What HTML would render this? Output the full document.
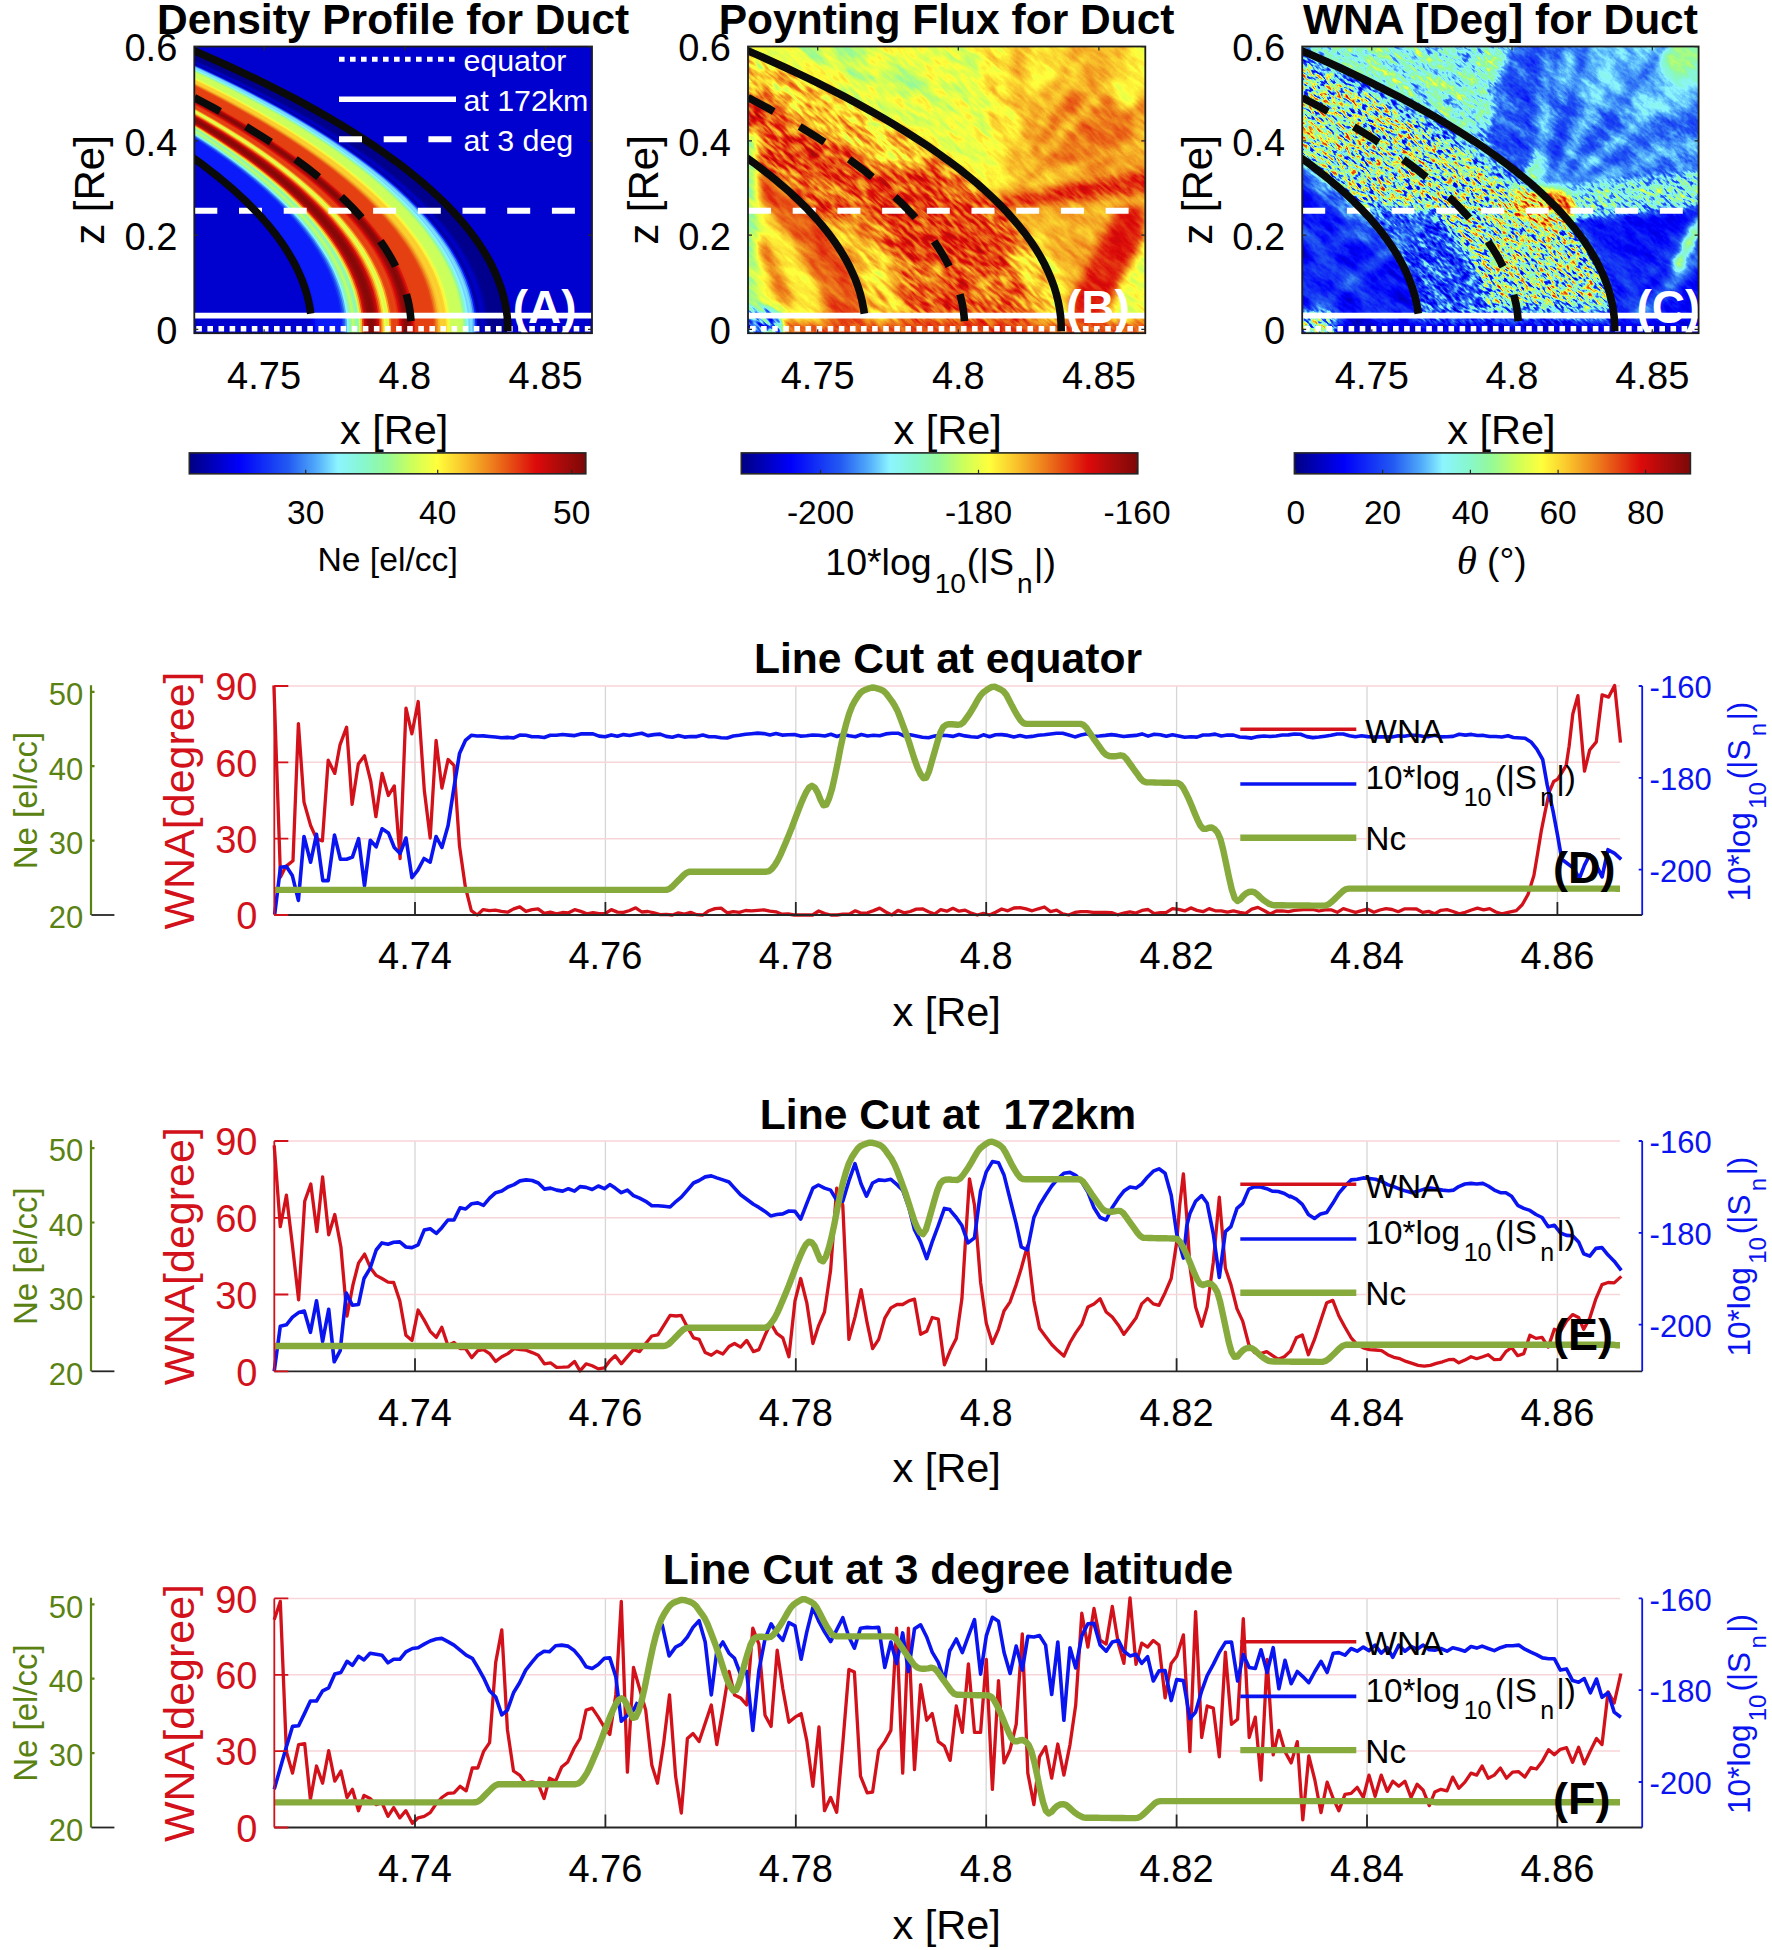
<!DOCTYPE html>
<html lang="en"><head><meta charset="utf-8"><title>Duct figure</title>
<style>html,body{margin:0;padding:0;background:#fff}svg{display:block}text{font-family:"Liberation Sans", sans-serif}</style></head><body>
<svg width="1772" height="1950" viewBox="0 0 1772 1950">
<rect width="1772" height="1950" fill="#fff"/>
<defs><linearGradient id="jet" x1="0" x2="1" y1="0" y2="0"><stop offset="0.0000" stop-color="#000083"/><stop offset="0.0156" stop-color="#000092"/><stop offset="0.0312" stop-color="#0000a1"/><stop offset="0.0469" stop-color="#0000b0"/><stop offset="0.0625" stop-color="#0000be"/><stop offset="0.0781" stop-color="#0000cd"/><stop offset="0.0938" stop-color="#0000dc"/><stop offset="0.1094" stop-color="#0000eb"/><stop offset="0.1250" stop-color="#0000fa"/><stop offset="0.1406" stop-color="#040bf9"/><stop offset="0.1562" stop-color="#0916f8"/><stop offset="0.1719" stop-color="#0d22f7"/><stop offset="0.1875" stop-color="#122df6"/><stop offset="0.2031" stop-color="#1638f5"/><stop offset="0.2188" stop-color="#1a44f4"/><stop offset="0.2344" stop-color="#1f4ff3"/><stop offset="0.2500" stop-color="#235af2"/><stop offset="0.2656" stop-color="#2d6cf4"/><stop offset="0.2812" stop-color="#377ef6"/><stop offset="0.2969" stop-color="#4190f7"/><stop offset="0.3125" stop-color="#4ba1f9"/><stop offset="0.3281" stop-color="#59b5fb"/><stop offset="0.3438" stop-color="#6acafc"/><stop offset="0.3594" stop-color="#7be0fe"/><stop offset="0.3750" stop-color="#8cf5ff"/><stop offset="0.3906" stop-color="#8bf5f3"/><stop offset="0.4062" stop-color="#8af6e7"/><stop offset="0.4219" stop-color="#88f6db"/><stop offset="0.4375" stop-color="#87f7cf"/><stop offset="0.4531" stop-color="#8af8c1"/><stop offset="0.4688" stop-color="#8ef8b3"/><stop offset="0.4844" stop-color="#92f9a4"/><stop offset="0.5000" stop-color="#96fa96"/><stop offset="0.5156" stop-color="#a4fb87"/><stop offset="0.5312" stop-color="#b2fc78"/><stop offset="0.5469" stop-color="#bffe69"/><stop offset="0.5625" stop-color="#cdff5a"/><stop offset="0.5781" stop-color="#daff52"/><stop offset="0.5938" stop-color="#e6ff4b"/><stop offset="0.6094" stop-color="#f2ff44"/><stop offset="0.6250" stop-color="#ffff3c"/><stop offset="0.6406" stop-color="#fef138"/><stop offset="0.6562" stop-color="#fce434"/><stop offset="0.6719" stop-color="#fbd631"/><stop offset="0.6875" stop-color="#fac82d"/><stop offset="0.7031" stop-color="#f8b929"/><stop offset="0.7188" stop-color="#f5aa26"/><stop offset="0.7344" stop-color="#f29b22"/><stop offset="0.7500" stop-color="#f08c1e"/><stop offset="0.7656" stop-color="#ee7c1c"/><stop offset="0.7812" stop-color="#eb6c19"/><stop offset="0.7969" stop-color="#e85b16"/><stop offset="0.8125" stop-color="#e64b14"/><stop offset="0.8281" stop-color="#e43b12"/><stop offset="0.8438" stop-color="#e12a0f"/><stop offset="0.8594" stop-color="#de1a0c"/><stop offset="0.8750" stop-color="#dc0a0a"/><stop offset="0.8906" stop-color="#d00a0a"/><stop offset="0.9062" stop-color="#c30a0a"/><stop offset="0.9219" stop-color="#b60a0a"/><stop offset="0.9375" stop-color="#aa0a0a"/><stop offset="0.9531" stop-color="#9f0a0a"/><stop offset="0.9688" stop-color="#940909"/><stop offset="0.9844" stop-color="#880808"/><stop offset="1.0000" stop-color="#7d0808"/></linearGradient>
<clipPath id="clipA"><rect x="194.3" y="46.5" width="397.7" height="286.7"/></clipPath>
<clipPath id="clipB"><rect x="748.0" y="46.5" width="397.3" height="286.7"/></clipPath>
<clipPath id="clipC"><rect x="1302.2" y="46.5" width="396.4" height="286.7"/></clipPath>
</defs>
<defs>
<filter id="fB" filterUnits="userSpaceOnUse" x="677" y="-70" width="540" height="520" color-interpolation-filters="sRGB">
<feGaussianBlur in="SourceGraphic" stdDeviation="4.5" result="S"/>
<feTurbulence type="fractalNoise" baseFrequency="0.07 0.3" numOctaves="2" seed="3" result="t1"/>
<feColorMatrix in="t1" type="matrix" values="0 0 0 0 1  2.40 0 0 0 -0.70  0 0 0 0 1  0 0 0 0 1" result="nF"/>
<feTurbulence type="fractalNoise" baseFrequency="0.03 0.09" numOctaves="2" seed="14" result="t2"/>
<feColorMatrix in="t2" type="matrix" values="0 0 0 0 1  0 0 0 0 1  2.40 0 0 0 -0.70  0 0 0 0 1" result="nC"/>
<feBlend in="S" in2="nF" mode="multiply" result="p1"/>
<feBlend in="p1" in2="nC" mode="multiply" result="p2"/>
<feColorMatrix in="p2" type="matrix" values="2 2 2 0 -0.6  2 2 2 0 -0.6  2 2 2 0 -0.6  0 0 0 0 1" result="v"/>
<feComponentTransfer in="v"><feFuncR type="table" tableValues="0.000 0.000 0.000 0.000 0.000 0.035 0.071 0.102 0.137 0.216 0.294 0.416 0.549 0.541 0.529 0.557 0.588 0.698 0.804 0.902 1.000 0.988 0.980 0.961 0.941 0.922 0.902 0.882 0.863 0.765 0.667 0.580 0.490"/><feFuncG type="table" tableValues="0.000 0.000 0.000 0.000 0.000 0.086 0.176 0.267 0.353 0.494 0.631 0.792 0.961 0.965 0.969 0.973 0.980 0.988 1.000 1.000 1.000 0.894 0.784 0.667 0.549 0.424 0.294 0.165 0.039 0.039 0.039 0.035 0.031"/><feFuncB type="table" tableValues="0.514 0.631 0.745 0.863 0.980 0.973 0.965 0.957 0.949 0.965 0.976 0.988 1.000 0.906 0.812 0.702 0.588 0.471 0.353 0.294 0.235 0.204 0.176 0.149 0.118 0.098 0.078 0.059 0.039 0.039 0.039 0.035 0.031"/></feComponentTransfer>
</filter>
<filter id="fC" filterUnits="userSpaceOnUse" x="1230" y="-70" width="540" height="520" color-interpolation-filters="sRGB">
<feGaussianBlur in="SourceGraphic" stdDeviation="4.5" result="S"/>
<feTurbulence type="fractalNoise" baseFrequency="0.15 0.42" numOctaves="2" seed="8" result="t1"/>
<feColorMatrix in="t1" type="matrix" values="0 0 0 0 1  2.40 0 0 0 -0.70  0 0 0 0 1  0 0 0 0 1" result="nF"/>
<feTurbulence type="fractalNoise" baseFrequency="0.03 0.10" numOctaves="2" seed="19" result="t2"/>
<feColorMatrix in="t2" type="matrix" values="0 0 0 0 1  0 0 0 0 1  2.40 0 0 0 -0.70  0 0 0 0 1" result="nC"/>
<feBlend in="S" in2="nF" mode="multiply" result="p1"/>
<feBlend in="p1" in2="nC" mode="multiply" result="p2"/>
<feColorMatrix in="p2" type="matrix" values="2 2 2 0 -0.6  2 2 2 0 -0.6  2 2 2 0 -0.6  0 0 0 0 1" result="v"/>
<feComponentTransfer in="v"><feFuncR type="table" tableValues="0.000 0.000 0.000 0.000 0.000 0.035 0.071 0.102 0.137 0.216 0.294 0.416 0.549 0.541 0.529 0.557 0.588 0.698 0.804 0.902 1.000 0.988 0.980 0.961 0.941 0.922 0.902 0.882 0.863 0.765 0.667 0.580 0.490"/><feFuncG type="table" tableValues="0.000 0.000 0.000 0.000 0.000 0.086 0.176 0.267 0.353 0.494 0.631 0.792 0.961 0.965 0.969 0.973 0.980 0.988 1.000 1.000 1.000 0.894 0.784 0.667 0.549 0.424 0.294 0.165 0.039 0.039 0.039 0.035 0.031"/><feFuncB type="table" tableValues="0.514 0.631 0.745 0.863 0.980 0.973 0.965 0.957 0.949 0.965 0.976 0.988 1.000 0.906 0.812 0.702 0.588 0.471 0.353 0.294 0.235 0.204 0.176 0.149 0.118 0.098 0.078 0.059 0.039 0.039 0.039 0.035 0.031"/></feComponentTransfer>
</filter>
</defs>
<g clip-path="url(#clipB)"><g transform="rotate(40 946.6 189.8)" filter="url(#fB)"><g transform="rotate(-40 946.6 189.8)">
<rect x="597" y="-160" width="700" height="700" fill="#a10508"/>
<rect x="708.3" y="17.8" width="476.8" height="344.0" fill="#a10508"/>
<path d="M708.3,17.8 1002.3,17.8 1018.2,132.5 998.3,198.5 926.8,189.8 708.3,89.5 Z" fill="#96080a"/>
<path d="M708.3,17.8 978.4,17.8 990.4,132.5 982.4,198.5 926.8,189.8 708.3,89.5 Z" fill="#90080a"/>
<ellipse cx="855.3" cy="63.7" rx="79.5" ry="14.3" transform="rotate(20 855.3 63.7)" fill="#89080d"/>
<ellipse cx="1081.7" cy="132.5" rx="51.6" ry="40.1" transform="rotate(-20 1081.7 132.5)" fill="#a90508"/>
<ellipse cx="1046.0" cy="55.1" rx="19.9" ry="34.4" transform="rotate(25 1046.0 55.1)" fill="#990508"/>
<ellipse cx="1133.4" cy="75.2" rx="15.9" ry="40.1" transform="rotate(20 1133.4 75.2)" fill="#960508"/>
<path d="M994.3,189.8 L1010.2,32.2" stroke="#980508" stroke-width="7.0" fill="none"/>
<path d="M998.3,189.8 L1049.9,32.2" stroke="#9a0508" stroke-width="6.0" fill="none"/>
<path d="M1002.3,189.8 L1097.6,32.2" stroke="#9a0508" stroke-width="7.0" fill="none"/>
<path d="M1006.2,189.8 L1153.2,40.8" stroke="#990508" stroke-width="7.0" fill="none"/>
<path d="M1010.2,189.8 L1165.2,89.5" stroke="#aa0508" stroke-width="6.0" fill="none"/>
<path d="M1014.2,189.8 L1165.2,132.5" stroke="#9c0508" stroke-width="7.0" fill="none"/>
<path d="M986.4,199.9 1165.2,168.3 1165.2,191.3 986.4,209.9 Z" fill="#b00d05"/>
<path d="M1105.6,347.5 1185.0,347.5 1185.0,218.5 1133.4,218.5 Z" fill="#90080d"/>
<path d="M1046.0,347.5 1085.7,347.5 1145.3,235.7 1141.3,207.1 1117.5,207.1 Z" fill="#b50505"/>
<path d="M1060.9,338.7 1061.2,333.0 1061.2,327.2 1061.0,321.4 1060.5,315.7 1059.7,309.9 1058.7,304.1 1057.5,298.4 1055.9,292.6 1054.1,286.8 1052.1,281.1 1049.8,275.3 1047.2,269.6 1044.3,263.8 1041.2,258.1 1037.9,252.3 1034.3,246.6 1030.4,240.8 1026.2,235.1 1037.2,235.1 1041.4,240.8 1045.3,246.6 1048.9,252.3 1052.2,258.1 1055.3,263.8 1058.2,269.6 1060.7,275.3 1063.1,281.1 1065.1,286.8 1066.9,292.6 1068.4,298.4 1069.7,304.1 1070.7,309.9 1071.5,315.7 1072.0,321.4 1072.2,327.2 1072.1,333.0 1071.8,338.7 Z" fill="#90080a"/>
<path d="M1059.0,353.2 1060.6,342.0 1061.2,330.8 1060.9,319.7 1059.5,308.5 1057.2,297.4 1053.9,286.2 1049.7,275.1 1044.4,264.0 1038.2,252.9 1031.0,241.8 1022.9,230.7 1013.7,219.6 1003.6,208.5 992.6,197.5 980.5,186.5 967.5,175.5 953.5,164.5 938.6,153.6 922.7,142.7 905.9,131.8 888.1,121.0 869.4,110.2 849.7,99.4 829.0,88.7 807.5,78.0 785.0,67.3 761.5,56.7 737.2,46.2 711.9,35.7 685.7,25.2 658.5,14.8 630.5,4.4 601.6,-5.9 571.7,-16.1 541.0,-26.3 509.3,-36.4 688.0,-13.5 688.0,393.2 Z" fill="#a1140d"/>
<path d="M879.4,169.2 864.6,158.1 848.8,147.1 832.1,136.1 814.3,125.1 795.6,114.1 776.0,103.2 755.3,92.4 733.7,81.6 711.1,70.8 687.6,60.1 663.1,49.4 637.7,38.7 611.3,28.2 583.9,17.6 555.7,7.1 526.5,-3.3 496.4,-13.6 465.3,-23.9 548.2,-24.0 579.0,-13.6 609.0,-3.3 638.0,7.2 666.1,17.6 693.2,28.2 719.4,38.8 744.7,49.4 769.0,60.1 792.4,70.8 814.8,81.6 836.3,92.4 856.8,103.3 876.4,114.2 894.9,125.1 912.6,136.1 929.2,147.1 944.9,158.1 959.5,169.2 Z" fill="#901412"/>
<path d="M1031.1,338.7 1031.3,333.7 1031.4,328.8 1031.3,323.8 1031.0,318.8 1030.5,313.8 1029.8,308.9 1028.9,303.9 1027.8,298.9 1026.5,293.9 1025.0,289.0 1023.3,284.0 1021.5,279.0 1019.4,274.0 1017.1,269.1 1014.7,264.1 1012.0,259.1 1009.2,254.2 1006.1,249.2 1036.0,249.2 1039.0,254.2 1041.9,259.1 1044.5,264.1 1047.0,269.1 1049.2,274.0 1051.3,279.0 1053.2,284.0 1054.8,289.0 1056.3,293.9 1057.6,298.9 1058.7,303.9 1059.6,308.9 1060.3,313.8 1060.8,318.8 1061.1,323.8 1061.2,328.8 1061.2,333.7 1060.9,338.7 Z" fill="#950f0d"/>
<path d="M918.5,263.4 915.7,258.1 912.6,252.8 909.3,247.6 905.7,242.3 902.0,237.1 898.0,231.8 893.8,226.6 889.4,221.3 884.7,216.1 879.9,210.9 874.8,205.6 869.5,200.4 864.0,195.2 858.3,190.0 852.3,184.8 846.2,179.5 839.8,174.4 833.2,169.2 918.2,169.2 924.7,174.4 931.1,179.6 937.2,184.8 943.1,190.0 948.8,195.2 954.3,200.4 959.6,205.6 964.6,210.9 969.4,216.1 974.0,221.3 978.4,226.6 982.6,231.8 986.5,237.1 990.3,242.3 993.8,247.6 997.1,252.8 1000.2,258.1 1003.0,263.4 Z" fill="#a7140a"/>
<path d="M864.9,338.7 865.2,332.2 865.2,325.6 864.8,319.0 864.1,312.5 863.1,305.9 861.7,299.4 859.9,292.8 857.9,286.3 855.4,279.7 852.7,273.2 849.6,266.6 846.1,260.1 842.3,253.6 838.2,247.0 833.7,240.5 828.9,234.0 823.7,227.5 818.3,221.0 863.7,221.0 869.2,227.5 874.3,234.0 879.1,240.5 883.6,247.0 887.7,253.6 891.5,260.1 894.9,266.6 898.0,273.2 900.7,279.7 903.2,286.3 905.2,292.8 907.0,299.4 908.3,305.9 909.4,312.5 910.1,319.0 910.5,325.6 910.5,332.2 910.2,338.7 Z" fill="#960a14"/>
<path d="M768.1,173.9 753.2,162.5 737.3,151.2 720.4,139.9 702.4,128.7 683.4,117.5 663.4,106.3 642.3,95.2 620.2,84.1 597.1,73.0 573.0,62.1 547.8,51.1 521.7,40.2 494.5,29.4 466.4,18.6 437.3,7.9 407.1,-2.8 376.0,-13.4 344.0,-24.0 436.0,-24.0 467.9,-13.4 498.7,-2.8 528.6,7.9 557.5,18.6 585.5,29.4 612.4,40.2 638.4,51.1 663.3,62.1 687.3,73.1 710.2,84.1 732.2,95.2 753.1,106.3 773.0,117.5 791.8,128.7 809.7,139.9 826.5,151.2 842.3,162.5 857.0,173.9 Z" fill="#a4170a"/>
<path d="M863.0,352.8 864.6,341.8 865.2,330.8 864.9,319.8 863.6,308.8 861.3,297.8 858.1,286.9 853.9,275.9 848.7,264.9 842.6,254.0 835.5,243.0 827.4,232.1 818.4,221.2 808.5,210.3 797.6,199.4 785.7,188.6 772.9,177.7 759.1,166.9 744.4,156.1 728.7,145.4 712.1,134.7 694.6,124.0 676.1,113.3 656.7,102.7 636.4,92.2 615.1,81.6 593.0,71.1 569.9,60.7 545.8,50.3 520.9,39.9 495.1,29.6 468.4,19.3 440.7,9.1 412.2,-1.0 382.8,-11.1 352.5,-21.2 321.3,-31.2 688.0,-13.5 688.0,393.2 Z" fill="#9d050a"/>
<path d="M794.9,338.7 795.2,330.3 795.0,321.9 794.2,313.5 792.9,305.1 791.0,296.7 788.5,288.3 785.4,279.9 781.8,271.5 777.6,263.1 772.9,254.7 767.6,246.3 761.7,238.0 755.3,229.6 748.3,221.3 740.7,212.9 732.6,204.6 723.9,196.3 714.6,188.0 744.3,188.0 753.6,196.3 762.2,204.6 770.3,212.9 777.9,221.3 784.9,229.6 791.3,238.0 797.2,246.3 802.5,254.7 807.2,263.1 811.4,271.5 815.0,279.9 818.0,288.3 820.5,296.7 822.4,305.1 823.8,313.5 824.5,321.9 824.8,330.3 824.4,338.7 Z" fill="#980508"/>
<path d="M749.9,338.7 750.2,333.0 750.2,327.2 750.0,321.4 749.5,315.7 748.7,309.9 747.7,304.1 746.4,298.4 744.8,292.6 743.0,286.8 740.9,281.1 738.5,275.3 735.9,269.6 733.0,263.8 729.8,258.1 726.4,252.3 722.7,246.6 718.7,240.8 714.4,235.1 742.6,235.1 746.9,240.8 750.8,246.6 754.5,252.3 758.0,258.1 761.1,263.8 764.0,269.6 766.7,275.3 769.0,281.1 771.1,286.8 773.0,292.6 774.5,298.4 775.8,304.1 776.9,309.9 777.6,315.7 778.1,321.4 778.3,327.2 778.3,333.0 778.0,338.7 Z" fill="#960508"/>
<path d="M824.4,319.9 823.4,310.7 821.7,301.4 819.3,292.2 816.2,283.0 812.4,273.8 808.0,264.6 802.9,255.4 797.1,246.2 790.6,237.0 783.4,227.8 775.6,218.7 767.1,209.5 757.9,200.4 748.1,191.3 737.5,182.2 726.4,173.1 714.5,164.1 702.0,155.0 742.8,155.0 755.3,164.1 767.1,173.1 778.3,182.2 788.8,191.3 798.6,200.4 807.8,209.5 816.2,218.7 824.1,227.8 831.2,237.0 837.6,246.2 843.4,255.4 848.5,264.6 852.9,273.8 856.7,283.0 859.8,292.2 862.2,301.4 863.9,310.7 864.9,319.9 Z" fill="#ac0508"/>
<path d="M776.1,305.8 774.9,300.0 773.4,294.2 771.7,288.4 769.6,282.6 767.3,276.9 764.7,271.1 761.9,265.3 758.8,259.6 755.4,253.8 751.8,248.0 747.9,242.3 743.7,236.5 739.3,230.8 734.6,225.0 729.6,219.3 724.4,213.6 718.8,207.9 713.1,202.1 730.0,202.1 735.8,207.9 741.3,213.6 746.5,219.3 751.5,225.0 756.2,230.8 760.6,236.5 764.8,242.3 768.7,248.0 772.3,253.8 775.7,259.6 778.8,265.3 781.6,271.1 784.2,276.9 786.5,282.6 788.5,288.4 790.3,294.2 791.8,300.0 793.0,305.8 Z" fill="#a70508"/>
<rect x="708.3" y="132.5" width="49.7" height="229.4" fill="#86080a"/>
<rect x="708.3" y="320.9" width="476.8" height="41.0" fill="#ab0808"/>
<rect x="708.3" y="308.8" width="73.5" height="53.0" fill="#4c380d"/>
</g></g></g>
<g clip-path="url(#clipC)"><g transform="rotate(40 1500.4 189.8)" filter="url(#fC)"><g transform="rotate(-40 1500.4 189.8)">
<rect x="1150" y="-160" width="700" height="700" fill="#65080d"/>
<rect x="1262.6" y="17.8" width="475.7" height="344.0" fill="#65080d"/>
<path d="M1262.6,17.8 1532.1,17.8 1544.0,132.5 1536.1,198.5 1480.6,189.8 1262.6,89.5 Z" fill="#691a1a"/>
<ellipse cx="1520.2" cy="103.8" rx="27.7" ry="86.0" transform="rotate(10 1520.2 103.8)" fill="#5f080f"/>
<ellipse cx="1639.1" cy="69.4" rx="79.3" ry="45.9" transform="rotate(0 1639.1 69.4)" fill="#70050a"/>
<ellipse cx="1698.6" cy="46.5" rx="39.6" ry="40.1" transform="rotate(0 1698.6 46.5)" fill="#85050a"/>
<path d="M1540.0,189.8 L1548.0,32.2" stroke="#73050a" stroke-width="7.0" fill="none"/>
<path d="M1548.0,189.8 L1587.6,32.2" stroke="#5e050a" stroke-width="6.0" fill="none"/>
<path d="M1551.9,189.8 L1627.2,32.2" stroke="#75050a" stroke-width="7.0" fill="none"/>
<path d="M1555.9,189.8 L1674.8,32.2" stroke="#61050a" stroke-width="6.0" fill="none"/>
<path d="M1559.9,189.8 L1718.4,52.2" stroke="#78050a" stroke-width="7.0" fill="none"/>
<path d="M1563.8,189.8 L1718.4,95.2" stroke="#61050a" stroke-width="6.0" fill="none"/>
<path d="M1567.8,189.8 L1718.4,132.5" stroke="#73050a" stroke-width="7.0" fill="none"/>
<path d="M1548.0,212.8 1738.2,204.2 1738.2,361.9 1579.7,361.9 Z" fill="#57050a"/>
<path d="M1579.7,224.3 L1678.8,338.9" stroke="#63050a" stroke-width="8.0" fill="none"/>
<path d="M1690.7,224.3 L1595.5,338.9" stroke="#61050a" stroke-width="8.0" fill="none"/>
<path d="M1555.9,189.8 1718.4,169.8 1718.4,204.2 1555.9,221.4 Z" fill="#622e0d"/>
<ellipse cx="1553.9" cy="205.6" rx="21.8" ry="17.2" transform="rotate(30 1553.9 205.6)" fill="#a31a0a"/>
<path d="M1670.9,270.1 1678.8,270.1 1706.5,218.5 1698.6,218.5 Z" fill="#990d0d"/>
<path d="M1611.4,333.2 1627.2,333.2 1706.5,258.7 1698.6,250.1 Z" fill="#6b050a"/>
<path d="M1612.5,353.2 1614.1,342.0 1614.7,330.8 1614.4,319.7 1613.0,308.5 1610.7,297.4 1607.4,286.2 1603.2,275.1 1598.0,264.0 1591.8,252.9 1584.6,241.8 1576.4,230.7 1567.3,219.6 1557.2,208.5 1546.2,197.5 1534.2,186.5 1521.2,175.5 1507.3,164.5 1492.4,153.6 1476.5,142.7 1459.7,131.8 1442.0,121.0 1423.3,110.2 1403.6,99.4 1383.1,88.7 1361.5,78.0 1339.1,67.3 1315.7,56.7 1291.4,46.2 1266.1,35.7 1240.0,25.2 1212.9,14.8 1185.0,4.4 1156.1,-5.9 1126.3,-16.1 1095.6,-26.3 1064.1,-36.4 1242.2,-13.5 1242.2,393.2 Z" fill="#55590f"/>
<ellipse cx="1534.1" cy="209.9" rx="27.7" ry="14.3" transform="rotate(45 1534.1 209.9)" fill="#7d400d"/>
<path d="M1511.6,188.0 1497.3,175.8 1481.9,163.7 1465.2,151.6 1447.4,139.6 1428.4,127.6 1408.3,115.6 1387.0,103.7 1364.6,91.8 1341.0,80.0 1316.2,68.2 1290.3,56.4 1263.3,44.8 1235.2,33.2 1205.9,21.6 1175.5,10.1 1144.0,-1.3 1111.4,-12.7 1077.7,-23.9 1102.8,-24.0 1136.5,-12.7 1169.0,-1.3 1200.4,10.1 1230.8,21.6 1260.0,33.2 1288.1,44.8 1315.0,56.5 1340.9,68.2 1365.6,80.0 1389.1,91.8 1411.5,103.7 1432.8,115.6 1452.9,127.6 1471.8,139.6 1489.6,151.6 1506.2,163.7 1521.6,175.8 1535.9,188.0 Z" fill="#552614"/>
<path d="M1418.8,338.7 1419.2,331.4 1419.1,324.0 1418.5,316.7 1417.6,309.3 1416.2,302.0 1414.4,294.6 1412.2,287.3 1409.5,279.9 1406.4,272.6 1402.8,265.3 1398.9,257.9 1394.5,250.6 1389.7,243.3 1384.4,236.0 1378.8,228.7 1372.7,221.4 1366.1,214.1 1359.2,206.8 1429.9,206.8 1436.8,214.1 1443.3,221.4 1449.4,228.7 1455.0,236.0 1460.3,243.3 1465.0,250.6 1469.4,258.0 1473.4,265.3 1476.9,272.6 1479.9,279.9 1482.6,287.3 1484.8,294.6 1486.6,302.0 1488.0,309.3 1489.0,316.7 1489.5,324.0 1489.6,331.4 1489.2,338.7 Z" fill="#501f17"/>
<path d="M1418.8,338.7 1419.0,336.9 1419.1,335.1 1419.1,333.2 1419.2,331.4 1419.2,329.6 1419.2,327.7 1419.1,325.9 1419.1,324.1 1419.0,322.2 1418.9,320.4 1418.7,318.6 1418.6,316.7 1418.4,314.9 1418.1,313.1 1417.9,311.2 1417.6,309.4 1417.3,307.6 1417.0,305.8 1612.5,305.8 1612.9,307.6 1613.2,309.4 1613.4,311.2 1613.7,313.1 1613.9,314.9 1614.1,316.7 1614.3,318.6 1614.4,320.4 1614.5,322.2 1614.6,324.1 1614.7,325.9 1614.7,327.7 1614.7,329.6 1614.7,331.4 1614.7,333.2 1614.6,335.1 1614.5,336.9 1614.4,338.7 Z" fill="#522e0f"/>
<path d="M1276.2,140.9 1261.3,131.5 1245.7,122.1 1229.3,112.7 1212.3,103.3 1194.5,94.0 1176.0,84.7 1156.8,75.5 1136.9,66.2 1116.2,57.0 1094.9,47.9 1072.9,38.8 1050.1,29.7 1026.7,20.6 1002.5,11.6 977.7,2.7 952.2,-6.2 926.0,-15.1 899.1,-24.0 966.6,-24.0 993.4,-15.1 1019.5,-6.2 1044.8,2.7 1069.5,11.7 1093.5,20.7 1116.9,29.7 1139.5,38.8 1161.4,47.9 1182.6,57.1 1203.1,66.3 1222.9,75.5 1242.1,84.7 1260.4,94.0 1278.1,103.3 1295.1,112.7 1311.3,122.1 1326.9,131.5 1341.7,140.9 Z" fill="#6e4214"/>
<path d="M1417.0,352.8 1418.6,341.8 1419.2,330.8 1418.8,319.8 1417.5,308.8 1415.2,297.8 1412.0,286.9 1407.8,275.9 1402.7,264.9 1396.6,254.0 1389.5,243.0 1381.5,232.1 1372.5,221.2 1362.5,210.3 1351.6,199.4 1339.8,188.6 1327.0,177.7 1313.3,166.9 1298.6,156.1 1283.0,145.4 1266.4,134.7 1248.9,124.0 1230.5,113.3 1211.1,102.7 1190.9,92.2 1169.6,81.6 1147.5,71.1 1124.5,60.7 1100.5,50.3 1075.6,39.9 1049.9,29.6 1023.2,19.3 995.6,9.1 967.2,-1.0 937.8,-11.1 907.6,-21.2 876.5,-31.2 1242.2,-13.5 1242.2,393.2 Z" fill="#54050f"/>
<path d="M1356.6,239.8 1353.1,235.1 1349.4,230.3 1345.5,225.6 1341.5,220.9 1337.3,216.1 1332.9,211.4 1328.3,206.7 1323.6,202.0 1318.6,197.3 1313.5,192.5 1308.2,187.8 1302.8,183.1 1297.1,178.4 1291.3,173.7 1285.3,169.1 1279.1,164.4 1272.7,159.7 1266.2,155.0 1297.0,155.0 1303.6,159.7 1309.9,164.4 1316.1,169.1 1322.1,173.7 1327.9,178.4 1333.5,183.1 1339.0,187.8 1344.3,192.5 1349.4,197.3 1354.3,202.0 1359.0,206.7 1363.6,211.4 1368.0,216.1 1372.2,220.9 1376.2,225.6 1380.1,230.3 1383.7,235.1 1387.2,239.8 Z" fill="#650814"/>
<path d="M1294.3,224.3 L1405.3,333.2" stroke="#6b050a" stroke-width="7.0" fill="none"/>
<path d="M1294.3,275.9 L1357.7,333.2" stroke="#69050a" stroke-width="6.0" fill="none"/>
<path d="M1294.3,327.5 L1421.1,224.3" stroke="#6b050a" stroke-width="7.0" fill="none"/>
<path d="M1310.1,270.1 L1365.6,212.8" stroke="#66050a" stroke-width="6.0" fill="none"/>
<rect x="1262.6" y="320.9" width="475.7" height="41.0" fill="#520808"/>
<rect x="1262.6" y="313.1" width="71.4" height="48.7" fill="#594c0d"/>
</g></g></g>
<g clip-path="url(#clipA)">
<rect x="194.3" y="46.5" width="397.7" height="286.7" fill="#0000cf"/>
<path d="M515.4,341.2 516.0,331.0 515.7,320.7 514.6,310.4 512.7,300.1 509.9,289.9 506.3,279.6 501.9,269.3 496.6,259.1 490.5,248.9 483.6,238.6 475.8,228.4 467.3,218.2 457.9,208.0 447.7,197.9 436.6,187.7 424.8,177.6 412.1,167.5 398.6,157.4 384.3,147.3 369.2,137.3 353.3,127.3 336.6,117.3 319.0,107.4 300.7,97.5 281.6,87.6 261.6,77.7 240.9,67.9 219.4,58.2 197.1,48.4 174.0,38.7 150.1,29.1 125.4,19.4 100.0,9.9 73.8,0.4 46.8,-9.1 19.1,-18.6 L144,-4 L144,383 Z" fill="#0000d4"/>
<path d="M510.4,341.2 510.9,331.0 510.6,320.7 509.5,310.4 507.6,300.1 504.8,289.9 501.2,279.6 496.8,269.4 491.5,259.1 485.4,248.9 478.5,238.7 470.8,228.5 462.2,218.3 452.8,208.1 442.6,197.9 431.6,187.8 419.8,177.6 407.1,167.5 393.6,157.5 379.3,147.4 364.2,137.4 348.3,127.4 331.6,117.4 314.0,107.5 295.7,97.6 276.6,87.7 256.6,77.8 235.9,68.0 214.4,58.3 192.1,48.5 169.0,38.8 145.1,29.2 120.5,19.6 95.1,10.0 68.9,0.5 41.9,-9.0 14.2,-18.4 L144,-4 L144,383 Z" fill="#0000c7"/>
<path d="M508.7,341.2 509.2,331.0 509.0,320.7 507.8,310.4 505.9,300.1 503.1,289.9 499.5,279.6 495.1,269.4 489.8,259.1 483.8,248.9 476.8,238.7 469.1,228.5 460.5,218.3 451.2,208.1 441.0,197.9 429.9,187.8 418.1,177.7 405.4,167.6 391.9,157.5 377.6,147.4 362.5,137.4 346.6,127.4 329.9,117.4 312.4,107.5 294.0,97.6 274.9,87.7 255.0,77.9 234.3,68.1 212.8,58.3 190.5,48.6 167.4,38.9 143.5,29.2 118.9,19.6 93.4,10.0 67.2,0.5 40.3,-9.0 12.6,-18.4 L144,-4 L144,383 Z" fill="#0000af"/>
<path d="M507.0,341.2 507.6,331.0 507.3,320.7 506.2,310.4 504.2,300.1 501.4,289.9 497.8,279.6 493.4,269.4 488.2,259.1 482.1,248.9 475.2,238.7 467.4,228.5 458.9,218.3 449.5,208.1 439.3,197.9 428.2,187.8 416.4,177.7 403.7,167.6 390.3,157.5 376.0,147.5 360.9,137.4 345.0,127.4 328.2,117.5 310.7,107.5 292.4,97.6 273.3,87.7 253.3,77.9 232.6,68.1 211.1,58.3 188.8,48.6 165.7,38.9 141.9,29.2 117.2,19.6 91.8,10.1 65.6,0.6 38.7,-8.9 10.9,-18.3 L144,-4 L144,383 Z" fill="#000098"/>
<path d="M505.3,341.2 505.9,331.0 505.6,320.7 504.5,310.4 502.5,300.2 499.8,289.9 496.2,279.6 491.7,269.4 486.5,259.1 480.4,248.9 473.5,238.7 465.7,228.5 457.2,218.3 447.8,208.1 437.6,198.0 426.6,187.8 414.7,177.7 402.1,167.6 388.6,157.5 374.3,147.5 359.2,137.5 343.3,127.5 326.6,117.5 309.0,107.6 290.7,97.6 271.6,87.8 251.7,77.9 231.0,68.1 209.5,58.4 187.2,48.6 164.1,38.9 140.2,29.3 115.6,19.7 90.2,10.1 64.0,0.6 37.0,-8.9 9.3,-18.3 L144,-4 L144,383 Z" fill="#00008b"/>
<path d="M501.9,341.2 502.5,331.0 502.2,320.7 501.1,310.4 499.2,300.2 496.4,289.9 492.8,279.6 488.4,269.4 483.1,259.2 477.0,248.9 470.1,238.7 462.4,228.5 453.8,218.3 444.4,208.2 434.2,198.0 423.2,187.9 411.4,177.7 398.7,167.6 385.2,157.6 371.0,147.5 355.9,137.5 339.9,127.5 323.2,117.5 305.7,107.6 287.4,97.7 268.3,87.8 248.4,78.0 227.6,68.2 206.1,58.4 183.9,48.7 160.8,39.0 136.9,29.4 112.3,19.8 86.9,10.2 60.7,0.7 33.8,-8.8 6.1,-18.2 L144,-4 L144,383 Z" fill="#00008c"/>
<path d="M493.5,341.2 494.0,331.0 493.8,320.7 492.7,310.4 490.7,300.2 487.9,289.9 484.3,279.7 479.9,269.4 474.7,259.2 468.6,249.0 461.7,238.8 454.0,228.6 445.4,218.4 436.0,208.2 425.8,198.1 414.8,187.9 403.0,177.8 390.3,167.7 376.9,157.7 362.6,147.6 347.5,137.6 331.6,127.6 314.9,117.7 297.4,107.7 279.1,97.8 260.0,88.0 240.1,78.1 219.4,68.3 197.9,58.6 175.6,48.9 152.6,39.2 128.7,29.5 104.1,19.9 78.7,10.4 52.5,0.9 25.6,-8.6 -2.1,-18.0 L144,-4 L144,383 Z" fill="#00008d"/>
<path d="M488.4,341.2 489.0,331.0 488.7,320.7 487.6,310.4 485.6,300.2 482.9,289.9 479.3,279.7 474.9,269.5 469.6,259.2 463.5,249.0 456.6,238.8 448.9,228.6 440.4,218.4 431.0,208.3 420.8,198.1 409.8,188.0 397.9,177.9 385.3,167.8 371.8,157.7 357.6,147.7 342.5,137.7 326.6,127.7 309.9,117.8 292.4,107.8 274.1,97.9 255.0,88.1 235.1,78.2 214.4,68.4 192.9,58.7 170.7,49.0 147.6,39.3 123.8,29.7 99.2,20.1 73.8,10.5 47.6,1.0 20.7,-8.5 -7.0,-17.9 L144,-4 L144,383 Z" fill="#000096"/>
<path d="M486.7,341.2 487.3,331.0 487.0,320.7 485.9,310.4 484.0,300.2 481.2,289.9 477.6,279.7 473.2,269.5 467.9,259.2 461.8,249.0 454.9,238.8 447.2,228.6 438.7,218.5 429.3,208.3 419.1,198.1 408.1,188.0 396.3,177.9 383.6,167.8 370.2,157.8 355.9,147.7 340.8,137.7 324.9,127.7 308.2,117.8 290.7,107.9 272.4,98.0 253.3,88.1 233.4,78.3 212.8,68.5 191.3,58.7 169.0,49.0 146.0,39.3 122.1,29.7 97.5,20.1 72.2,10.6 46.0,1.0 19.1,-8.4 -8.6,-17.8 L144,-4 L144,383 Z" fill="#0000a7"/>
<path d="M485.1,341.2 485.6,331.0 485.3,320.7 484.2,310.4 482.3,300.2 479.5,290.0 475.9,279.7 471.5,269.5 466.2,259.3 460.2,249.0 453.3,238.8 445.5,228.6 437.0,218.5 427.6,208.3 417.4,198.2 406.4,188.0 394.6,177.9 382.0,167.8 368.5,157.8 354.2,147.8 339.1,137.7 323.3,127.8 306.6,117.8 289.1,107.9 270.8,98.0 251.7,88.1 231.8,78.3 211.1,68.5 189.6,58.8 167.4,49.0 144.3,39.4 120.5,29.7 95.9,20.1 70.5,10.6 44.4,1.1 17.5,-8.4 -10.2,-17.8 L144,-4 L144,383 Z" fill="#0000be"/>
<path d="M483.4,341.2 483.9,331.0 483.6,320.7 482.5,310.4 480.6,300.2 477.8,290.0 474.2,279.7 469.8,269.5 464.6,259.3 458.5,249.0 451.6,238.8 443.9,228.7 435.3,218.5 425.9,208.3 415.8,198.2 404.7,188.1 392.9,178.0 380.3,167.9 366.8,157.8 352.6,147.8 337.5,137.8 321.6,127.8 304.9,117.8 287.4,107.9 269.1,98.0 250.0,88.2 230.1,78.3 209.4,68.5 188.0,58.8 165.7,49.1 142.7,39.4 118.9,29.8 94.3,20.2 68.9,10.6 42.7,1.1 15.8,-8.3 -11.8,-17.7 L144,-4 L144,383 Z" fill="#0000c7"/>
<path d="M481.7,341.2 482.2,331.0 481.9,320.7 480.8,310.5 478.9,300.2 476.1,290.0 472.5,279.7 468.1,269.5 462.9,259.3 456.8,249.1 449.9,238.9 442.2,228.7 433.6,218.5 424.3,208.3 414.1,198.2 403.1,188.1 391.2,178.0 378.6,167.9 365.1,157.8 350.9,147.8 335.8,137.8 319.9,127.8 303.2,117.9 285.7,107.9 267.4,98.0 248.4,88.2 228.5,78.4 207.8,68.6 186.3,58.8 164.1,49.1 141.0,39.4 117.2,29.8 92.6,20.2 67.2,10.7 41.1,1.2 14.2,-8.3 -13.5,-17.7 L144,-4 L144,383 Z" fill="#0000bf"/>
<path d="M480.0,341.2 480.5,331.0 480.3,320.7 479.1,310.5 477.2,300.2 474.4,290.0 470.8,279.7 466.4,269.5 461.2,259.3 455.1,249.1 448.2,238.9 440.5,228.7 431.9,218.5 422.6,208.3 412.4,198.2 401.4,188.1 389.6,178.0 376.9,167.9 363.5,157.9 349.2,147.8 334.1,137.8 318.3,127.8 301.6,117.9 284.1,108.0 265.8,98.1 246.7,88.2 226.8,78.4 206.1,68.6 184.7,58.9 162.4,49.1 139.4,39.5 115.6,29.8 91.0,20.3 65.6,10.7 39.5,1.2 12.6,-8.2 -15.1,-17.6 L144,-4 L144,383 Z" fill="#0000a1"/>
<path d="M478.3,341.2 478.8,331.0 478.6,320.7 477.5,310.5 475.5,300.2 472.8,290.0 469.2,279.7 464.7,269.5 459.5,259.3 453.4,249.1 446.5,238.9 438.8,228.7 430.3,218.5 420.9,208.4 410.7,198.2 399.7,188.1 387.9,178.0 375.2,167.9 361.8,157.9 347.5,147.8 332.5,137.8 316.6,127.9 299.9,117.9 282.4,108.0 264.1,98.1 245.0,88.2 225.2,78.4 204.5,68.6 183.0,58.9 160.8,49.2 137.7,39.5 113.9,29.9 89.3,20.3 64.0,10.8 37.8,1.3 10.9,-8.2 -16.7,-17.6 L144,-4 L144,383 Z" fill="#0000b2"/>
<path d="M476.6,341.2 477.2,331.0 476.9,320.7 475.8,310.5 473.8,300.2 471.1,290.0 467.5,279.7 463.1,269.5 457.8,259.3 451.7,249.1 444.8,238.9 437.1,228.7 428.6,218.5 419.2,208.4 409.0,198.2 398.0,188.1 386.2,178.0 373.6,167.9 360.1,157.9 345.9,147.9 330.8,137.9 314.9,127.9 298.2,117.9 280.7,108.0 262.5,98.1 243.4,88.3 223.5,78.5 202.8,68.7 181.4,58.9 159.1,49.2 136.1,39.5 112.3,29.9 87.7,20.3 62.3,10.8 36.2,1.3 9.3,-8.2 -18.3,-17.6 L144,-4 L144,383 Z" fill="#0917f8"/>
<path d="M474.9,341.2 475.5,331.0 475.2,320.7 474.1,310.5 472.1,300.2 469.4,290.0 465.8,279.7 461.4,269.5 456.1,259.3 450.0,249.1 443.2,238.9 435.4,228.7 426.9,218.5 417.5,208.4 407.3,198.3 396.3,188.1 384.5,178.0 371.9,168.0 358.4,157.9 344.2,147.9 329.1,137.9 313.2,127.9 296.6,118.0 279.1,108.0 260.8,98.2 241.7,88.3 221.8,78.5 201.2,68.7 179.7,59.0 157.5,49.3 134.4,39.6 110.6,30.0 86.1,20.4 60.7,10.8 34.6,1.3 7.7,-8.1 -20.0,-17.5 L144,-4 L144,383 Z" fill="#357bf5"/>
<path d="M473.2,341.2 473.8,331.0 473.5,320.7 472.4,310.5 470.5,300.2 467.7,290.0 464.1,279.8 459.7,269.5 454.4,259.3 448.4,249.1 441.5,238.9 433.8,228.7 425.2,218.6 415.9,208.4 405.7,198.3 394.7,188.2 382.9,178.1 370.2,168.0 356.8,157.9 342.5,147.9 327.5,137.9 311.6,127.9 294.9,118.0 277.4,108.1 259.1,98.2 240.1,88.3 220.2,78.5 199.5,68.7 178.1,59.0 155.8,49.3 132.8,39.6 109.0,30.0 84.4,20.4 59.1,10.9 32.9,1.4 6.0,-8.1 -21.6,-17.5 L144,-4 L144,383 Z" fill="#68c8fc"/>
<path d="M471.5,341.2 472.1,331.0 471.8,320.7 470.7,310.5 468.8,300.2 466.0,290.0 462.4,279.8 458.0,269.5 452.7,259.3 446.7,249.1 439.8,238.9 432.1,228.7 423.5,218.6 414.2,208.4 404.0,198.3 393.0,188.2 381.2,178.1 368.5,168.0 355.1,158.0 340.8,147.9 325.8,137.9 309.9,128.0 293.2,118.0 275.8,108.1 257.5,98.2 238.4,88.4 218.5,78.6 197.9,68.8 176.4,59.0 154.2,49.3 131.2,39.7 107.4,30.0 82.8,20.4 57.4,10.9 31.3,1.4 4.4,-8.0 -23.2,-17.4 L144,-4 L144,383 Z" fill="#7de2fe"/>
<path d="M469.9,341.2 470.4,331.0 470.1,320.7 469.0,310.5 467.1,300.2 464.3,290.0 460.7,279.8 456.3,269.5 451.1,259.3 445.0,249.1 438.1,238.9 430.4,228.8 421.8,218.6 412.5,208.4 402.3,198.3 391.3,188.2 379.5,178.1 366.9,168.0 353.4,158.0 339.2,148.0 324.1,138.0 308.2,128.0 291.6,118.0 274.1,108.1 255.8,98.2 236.7,88.4 216.9,78.6 196.2,68.8 174.8,59.1 152.5,49.4 129.5,39.7 105.7,30.1 81.1,20.5 55.8,10.9 29.7,1.5 2.8,-8.0 -24.9,-17.4 L144,-4 L144,383 Z" fill="#72d4fd"/>
<path d="M468.2,341.2 468.7,331.0 468.4,320.7 467.3,310.5 465.4,300.2 462.6,290.0 459.0,279.8 454.6,269.6 449.4,259.3 443.3,249.1 436.4,238.9 428.7,228.8 420.2,218.6 410.8,208.5 400.6,198.3 389.6,188.2 377.8,178.1 365.2,168.0 351.8,158.0 337.5,148.0 322.4,138.0 306.6,128.0 289.9,118.1 272.4,108.2 254.2,98.3 235.1,88.4 215.2,78.6 194.6,68.8 173.1,59.1 150.9,49.4 127.9,39.7 104.1,30.1 79.5,20.5 54.1,11.0 28.0,1.5 1.2,-7.9 -26.5,-17.3 L144,-4 L144,383 Z" fill="#8cf4ff"/>
<path d="M466.5,341.2 467.0,331.0 466.7,320.7 465.6,310.5 463.7,300.2 460.9,290.0 457.3,279.8 452.9,269.6 447.7,259.3 441.6,249.1 434.7,239.0 427.0,228.8 418.5,218.6 409.1,208.5 398.9,198.3 388.0,188.2 376.1,178.1 363.5,168.1 350.1,158.0 335.8,148.0 320.8,138.0 304.9,128.0 288.2,118.1 270.8,108.2 252.5,98.3 233.4,88.5 213.6,78.6 192.9,68.9 171.5,59.1 149.2,49.4 126.2,39.8 102.4,30.1 77.9,20.6 52.5,11.0 26.4,1.5 -0.5,-7.9 -28.1,-17.3 L144,-4 L144,383 Z" fill="#87f7d2"/>
<path d="M464.8,341.2 465.3,331.0 465.1,320.7 463.9,310.5 462.0,300.2 459.2,290.0 455.7,279.8 451.2,269.6 446.0,259.4 439.9,249.2 433.0,239.0 425.3,228.8 416.8,218.6 407.4,208.5 397.3,198.4 386.3,188.2 374.5,178.2 361.8,168.1 348.4,158.0 334.2,148.0 319.1,138.0 303.2,128.1 286.6,118.1 269.1,108.2 250.8,98.3 231.8,88.5 211.9,78.7 191.2,68.9 169.8,59.2 147.6,49.5 124.6,39.8 100.8,30.2 76.2,20.6 50.9,11.1 24.8,1.6 -2.1,-7.9 -29.7,-17.3 L144,-4 L144,383 Z" fill="#95fa9a"/>
<path d="M463.1,341.2 463.6,331.0 463.4,320.7 462.3,310.5 460.3,300.2 457.6,290.0 454.0,279.8 449.6,269.6 444.3,259.4 438.3,249.2 431.4,239.0 423.6,228.8 415.1,218.6 405.8,208.5 395.6,198.4 384.6,188.3 372.8,178.2 360.2,168.1 346.7,158.1 332.5,148.0 317.4,138.1 301.6,128.1 284.9,118.1 267.4,108.2 249.2,98.4 230.1,88.5 210.2,78.7 189.6,68.9 168.2,59.2 145.9,49.5 122.9,39.8 99.1,30.2 74.6,20.6 49.2,11.1 23.1,1.6 -3.7,-7.8 -31.4,-17.2 L144,-4 L144,383 Z" fill="#bdfe6b"/>
<path d="M461.4,341.2 462.0,331.0 461.7,320.7 460.6,310.5 458.6,300.2 455.9,290.0 452.3,279.8 447.9,269.6 442.6,259.4 436.6,249.2 429.7,239.0 422.0,228.8 413.4,218.7 404.1,208.5 393.9,198.4 382.9,188.3 371.1,178.2 358.5,168.1 345.1,158.1 330.8,148.1 315.8,138.1 299.9,128.1 283.2,118.2 265.8,108.3 247.5,98.4 228.4,88.5 208.6,78.7 187.9,69.0 166.5,59.2 144.3,49.5 121.3,39.9 97.5,30.3 72.9,20.7 47.6,11.1 21.5,1.7 -5.4,-7.8 -33.0,-17.2 L144,-4 L144,383 Z" fill="#caff5e"/>
<path d="M459.7,341.2 460.3,331.0 460.0,320.7 458.9,310.5 456.9,300.3 454.2,290.0 450.6,279.8 446.2,269.6 440.9,259.4 434.9,249.2 428.0,239.0 420.3,228.8 411.7,218.7 402.4,208.5 392.2,198.4 381.2,188.3 369.4,178.2 356.8,168.1 343.4,158.1 329.1,148.1 314.1,138.1 298.2,128.1 281.6,118.2 264.1,108.3 245.8,98.4 226.8,88.6 206.9,78.8 186.3,69.0 164.8,59.3 142.6,49.6 119.6,39.9 95.8,30.3 71.3,20.7 46.0,11.2 19.9,1.7 -7.0,-7.7 -34.6,-17.1 L144,-4 L144,383 Z" fill="#caff5d"/>
<path d="M458.0,341.2 458.6,331.0 458.3,320.7 457.2,310.5 455.3,300.3 452.5,290.0 448.9,279.8 444.5,269.6 439.3,259.4 433.2,249.2 426.3,239.0 418.6,228.8 410.1,218.7 400.7,208.5 390.5,198.4 379.6,188.3 367.8,178.2 355.1,168.2 341.7,158.1 327.5,148.1 312.4,138.1 296.6,128.2 279.9,118.2 262.4,108.3 244.2,98.4 225.1,88.6 205.3,78.8 184.6,69.0 163.2,59.3 141.0,49.6 118.0,39.9 94.2,30.3 69.7,20.8 44.3,11.2 18.2,1.7 -8.6,-7.7 -36.2,-17.1 L144,-4 L144,383 Z" fill="#cbff5d"/>
<path d="M456.3,341.2 456.9,331.0 456.6,320.7 455.5,310.5 453.6,300.3 450.8,290.0 447.2,279.8 442.8,269.6 437.6,259.4 431.5,249.2 424.6,239.0 416.9,228.9 408.4,218.7 399.0,208.6 388.9,198.4 377.9,188.3 366.1,178.3 353.5,168.2 340.0,158.2 325.8,148.1 310.7,138.1 294.9,128.2 278.2,118.3 260.8,108.3 242.5,98.5 223.5,88.6 203.6,78.8 183.0,69.1 161.5,59.3 139.3,49.6 116.3,40.0 92.6,30.4 68.0,20.8 42.7,11.3 16.6,1.8 -10.3,-7.7 -37.9,-17.0 L144,-4 L144,383 Z" fill="#cbff5c"/>
<path d="M453.0,341.2 453.5,331.0 453.2,320.7 452.1,310.5 450.2,300.3 447.4,290.0 443.8,279.8 439.4,269.6 434.2,259.4 428.1,249.2 421.3,239.0 413.5,228.9 405.0,218.7 395.7,208.6 385.5,198.5 374.5,188.4 362.7,178.3 350.1,168.2 336.7,158.2 322.5,148.2 307.4,138.2 291.6,128.2 274.9,118.3 257.4,108.4 239.2,98.5 220.1,88.7 200.3,78.9 179.7,69.1 158.2,59.4 136.0,49.7 113.0,40.1 89.3,30.4 64.7,20.9 39.4,11.3 13.3,1.9 -13.5,-7.6 -41.1,-17.0 L144,-4 L144,383 Z" fill="#ccff5b"/>
<path d="M451.3,341.2 451.8,330.9 451.5,320.7 450.4,310.5 448.5,300.3 445.7,290.0 442.2,279.8 437.7,269.6 432.5,259.4 426.5,249.2 419.6,239.1 411.9,228.9 403.3,218.7 394.0,208.6 383.8,198.5 372.8,188.4 361.0,178.3 348.4,168.2 335.0,158.2 320.8,148.2 305.7,138.2 289.9,128.3 273.2,118.3 255.8,108.4 237.5,98.6 218.5,88.7 198.6,78.9 178.0,69.2 156.6,59.4 134.4,49.7 111.4,40.1 87.6,30.5 63.1,20.9 37.8,11.4 11.7,1.9 -15.1,-7.5 -42.8,-16.9 L144,-4 L144,383 Z" fill="#d1ff58"/>
<path d="M449.6,341.2 450.1,330.9 449.9,320.7 448.7,310.5 446.8,300.3 444.1,290.1 440.5,279.8 436.1,269.6 430.8,259.4 424.8,249.2 417.9,239.1 410.2,228.9 401.7,218.8 392.3,208.6 382.1,198.5 371.2,188.4 359.4,178.3 346.8,168.3 333.3,158.2 319.1,148.2 304.1,138.2 288.2,128.3 271.6,118.4 254.1,108.5 235.9,98.6 216.8,88.8 197.0,79.0 176.4,69.2 154.9,59.5 132.7,49.8 109.7,40.1 86.0,30.5 61.4,20.9 36.1,11.4 10.1,1.9 -16.8,-7.5 -44.4,-16.9 L144,-4 L144,383 Z" fill="#edff47"/>
<path d="M447.9,341.2 448.4,330.9 448.2,320.7 447.1,310.5 445.1,300.3 442.4,290.1 438.8,279.8 434.4,269.6 429.1,259.4 423.1,249.3 416.2,239.1 408.5,228.9 400.0,218.8 390.6,208.6 380.5,198.5 369.5,188.4 357.7,178.3 345.1,168.3 331.7,158.3 317.4,148.2 302.4,138.3 286.6,128.3 269.9,118.4 252.5,108.5 234.2,98.6 215.2,88.8 195.3,79.0 174.7,69.2 153.3,59.5 131.1,49.8 108.1,40.2 84.3,30.6 59.8,21.0 34.5,11.5 8.4,2.0 -18.4,-7.4 -46.0,-16.8 L144,-4 L144,383 Z" fill="#fef339"/>
<path d="M446.2,341.2 446.8,330.9 446.5,320.7 445.4,310.5 443.4,300.3 440.7,290.1 437.1,279.9 432.7,269.6 427.5,259.5 421.4,249.3 414.5,239.1 406.8,228.9 398.3,218.8 388.9,208.7 378.8,198.5 367.8,188.4 356.0,178.4 343.4,168.3 330.0,158.3 315.8,148.3 300.7,138.3 284.9,128.3 268.2,118.4 250.8,108.5 232.5,98.6 213.5,88.8 193.7,79.0 173.0,69.3 151.6,59.5 129.4,49.8 106.5,40.2 82.7,30.6 58.2,21.0 32.9,11.5 6.8,2.0 -20.0,-7.4 -47.6,-16.8 L144,-4 L144,383 Z" fill="#fbd430"/>
<path d="M444.5,341.2 445.1,330.9 444.8,320.7 443.7,310.5 441.7,300.3 439.0,290.1 435.4,279.9 431.0,269.7 425.8,259.5 419.7,249.3 412.8,239.1 405.1,228.9 396.6,218.8 387.3,208.7 377.1,198.6 366.1,188.5 354.3,178.4 341.7,168.3 328.3,158.3 314.1,148.3 299.1,138.3 283.2,128.4 266.6,118.4 249.1,108.5 230.9,98.7 211.8,88.8 192.0,79.0 171.4,69.3 150.0,59.6 127.8,49.9 104.8,40.2 81.1,30.6 56.5,21.1 31.2,11.5 5.2,2.1 -21.7,-7.4 -49.3,-16.7 L144,-4 L144,383 Z" fill="#facd2e"/>
<path d="M442.8,341.2 443.4,330.9 443.1,320.7 442.0,310.5 440.1,300.3 437.3,290.1 433.7,279.9 429.3,269.7 424.1,259.5 418.0,249.3 411.1,239.1 403.4,229.0 394.9,218.8 385.6,208.7 375.4,198.6 364.4,188.5 352.7,178.4 340.1,168.3 326.6,158.3 312.4,148.3 297.4,138.3 281.5,128.4 264.9,118.5 247.5,108.6 229.2,98.7 210.2,88.9 190.4,79.1 169.7,69.3 148.3,59.6 126.1,49.9 103.2,40.3 79.4,30.7 54.9,21.1 29.6,11.6 3.5,2.1 -23.3,-7.3 -50.9,-16.7 L144,-4 L144,383 Z" fill="#fbd130"/>
<path d="M441.1,341.2 441.7,330.9 441.4,320.7 440.3,310.5 438.4,300.3 435.6,290.1 432.0,279.9 427.6,269.7 422.4,259.5 416.3,249.3 409.5,239.1 401.8,229.0 393.2,218.8 383.9,208.7 373.7,198.6 362.8,188.5 351.0,178.4 338.4,168.4 325.0,158.3 310.7,148.3 295.7,138.4 279.9,128.4 263.2,118.5 245.8,108.6 227.6,98.7 208.5,88.9 188.7,79.1 168.1,69.4 146.7,59.6 124.5,49.9 101.5,40.3 77.8,30.7 53.2,21.1 28.0,11.6 1.9,2.2 -24.9,-7.3 -52.5,-16.7 L144,-4 L144,383 Z" fill="#fbce2f"/>
<path d="M439.5,341.2 440.0,330.9 439.7,320.7 438.6,310.5 436.7,300.3 433.9,290.1 430.3,279.9 425.9,269.7 420.7,259.5 414.7,249.3 407.8,239.1 400.1,229.0 391.6,218.8 382.2,208.7 372.1,198.6 361.1,188.5 349.3,178.4 336.7,168.4 323.3,158.4 309.1,148.4 294.0,138.4 278.2,128.4 261.6,118.5 244.1,108.6 225.9,98.8 206.9,88.9 187.0,79.1 166.4,69.4 145.0,59.7 122.8,50.0 99.9,40.3 76.1,30.7 51.6,21.2 26.3,11.7 0.3,2.2 -26.6,-7.2 -54.1,-16.6 L144,-4 L144,383 Z" fill="#f8ba29"/>
<path d="M437.8,341.2 438.3,330.9 438.0,320.7 436.9,310.5 435.0,300.3 432.2,290.1 428.7,279.9 424.3,269.7 419.0,259.5 413.0,249.3 406.1,239.1 398.4,229.0 389.9,218.9 380.5,208.7 370.4,198.6 359.4,188.5 347.6,178.5 335.0,168.4 321.6,158.4 307.4,148.4 292.4,138.4 276.5,128.5 259.9,118.5 242.5,108.7 224.2,98.8 205.2,89.0 185.4,79.2 164.8,69.4 143.4,59.7 121.2,50.0 98.2,40.4 74.5,30.8 50.0,21.2 24.7,11.7 -1.4,2.2 -28.2,-7.2 -55.8,-16.6 L144,-4 L144,383 Z" fill="#f29721"/>
<path d="M436.1,341.2 436.6,330.9 436.3,320.7 435.2,310.5 433.3,300.3 430.6,290.1 427.0,279.9 422.6,269.7 417.3,259.5 411.3,249.3 404.4,239.2 396.7,229.0 388.2,218.9 378.9,208.7 368.7,198.6 357.7,188.5 345.9,178.5 333.4,168.4 319.9,158.4 305.7,148.4 290.7,138.4 274.9,128.5 258.2,118.6 240.8,108.7 222.6,98.8 203.5,89.0 183.7,79.2 163.1,69.5 141.7,59.7 119.5,50.1 96.6,40.4 72.8,30.8 48.3,21.3 23.0,11.7 -3.0,2.3 -29.8,-7.1 -57.4,-16.5 L144,-4 L144,383 Z" fill="#ec711a"/>
<path d="M434.4,341.2 434.9,330.9 434.7,320.7 433.6,310.5 431.6,300.3 428.9,290.1 425.3,279.9 420.9,269.7 415.6,259.5 409.6,249.3 402.7,239.2 395.0,229.0 386.5,218.9 377.2,208.8 367.0,198.6 356.1,188.6 344.3,178.5 331.7,168.5 318.3,158.4 304.1,148.4 289.0,138.5 273.2,128.5 256.6,118.6 239.1,108.7 220.9,98.8 201.9,89.0 182.1,79.2 161.5,69.5 140.1,59.8 117.9,50.1 94.9,40.4 71.2,30.8 46.7,21.3 21.4,11.8 -4.6,2.3 -31.5,-7.1 -59.0,-16.5 L144,-4 L144,383 Z" fill="#e64914"/>
<path d="M432.7,341.2 433.2,330.9 433.0,320.7 431.9,310.5 429.9,300.3 427.2,290.1 423.6,279.9 419.2,269.7 414.0,259.5 407.9,249.3 401.0,239.2 393.3,229.0 384.8,218.9 375.5,208.8 365.3,198.7 354.4,188.6 342.6,178.5 330.0,168.5 316.6,158.4 302.4,148.5 287.4,138.5 271.5,128.5 254.9,118.6 237.5,108.7 219.2,98.9 200.2,89.1 180.4,79.3 159.8,69.5 138.4,59.8 116.2,50.1 93.3,40.5 69.6,30.9 45.0,21.3 19.8,11.8 -6.3,2.4 -33.1,-7.1 -60.7,-16.4 L144,-4 L144,383 Z" fill="#e44012"/>
<path d="M415.8,341.1 416.4,330.9 416.1,320.7 415.0,310.5 413.0,300.3 410.3,290.2 406.7,280.0 402.3,269.8 397.1,259.6 391.1,249.4 384.2,239.3 376.5,229.2 368.0,219.0 358.7,208.9 348.5,198.8 337.6,188.8 325.8,178.7 313.2,168.7 299.9,158.7 285.7,148.7 270.7,138.7 254.8,128.8 238.2,118.9 220.8,109.0 202.6,99.2 183.6,89.4 163.8,79.6 143.3,69.8 121.9,60.1 99.7,50.5 76.8,40.8 53.1,31.3 28.6,21.7 3.4,12.2 -22.6,2.8 -49.4,-6.6 -76.9,-16.0 L144,-4 L144,383 Z" fill="#e43d12"/>
<path d="M414.1,341.1 414.7,330.9 414.4,320.7 413.3,310.5 411.4,300.3 408.6,290.2 405.0,280.0 400.6,269.8 395.4,259.6 389.4,249.5 382.5,239.3 374.8,229.2 366.3,219.0 357.0,208.9 346.9,198.8 335.9,188.8 324.1,178.7 311.6,168.7 298.2,158.7 284.0,148.7 269.0,138.7 253.2,128.8 236.6,118.9 219.2,109.0 201.0,99.2 182.0,89.4 162.2,79.6 141.6,69.9 120.2,60.2 98.1,50.5 75.2,40.9 51.5,31.3 27.0,21.8 1.8,12.3 -24.2,2.8 -51.0,-6.6 -78.6,-16.0 L144,-4 L144,383 Z" fill="#dd130b"/>
<path d="M412.4,341.1 413.0,330.9 412.7,320.7 411.6,310.5 409.7,300.4 406.9,290.2 403.3,280.0 398.9,269.8 393.7,259.6 387.7,249.5 380.8,239.3 373.1,229.2 364.6,219.1 355.3,209.0 345.2,198.9 334.2,188.8 322.5,178.7 309.9,168.7 296.5,158.7 282.3,148.7 267.3,138.8 251.5,128.8 234.9,118.9 217.5,109.1 199.3,99.2 180.3,89.4 160.5,79.6 140.0,69.9 118.6,60.2 96.5,50.5 73.5,40.9 49.8,31.3 25.4,21.8 0.1,12.3 -25.9,2.8 -52.7,-6.6 -80.2,-15.9 L144,-4 L144,383 Z" fill="#bd0a0a"/>
<path d="M410.7,341.1 411.3,330.9 411.0,320.7 409.9,310.5 408.0,300.4 405.2,290.2 401.7,280.0 397.3,269.8 392.0,259.6 386.0,249.5 379.1,239.3 371.5,229.2 363.0,219.1 353.6,209.0 343.5,198.9 332.5,188.8 320.8,178.8 308.2,168.7 294.8,158.7 280.6,148.7 265.6,138.8 249.8,128.9 233.2,119.0 215.8,109.1 197.6,99.3 178.7,89.4 158.9,79.7 138.3,69.9 116.9,60.2 94.8,50.6 71.9,41.0 48.2,31.4 23.7,21.8 -1.5,12.3 -27.5,2.9 -54.3,-6.5 -81.8,-15.9 L144,-4 L144,383 Z" fill="#960909"/>
<path d="M409.1,341.1 409.6,330.9 409.3,320.7 408.2,310.6 406.3,300.4 403.5,290.2 400.0,280.0 395.6,269.8 390.4,259.6 384.3,249.5 377.4,239.3 369.8,229.2 361.3,219.1 352.0,209.0 341.8,198.9 330.9,188.8 319.1,178.8 306.5,168.8 293.2,158.7 279.0,148.8 264.0,138.8 248.2,128.9 231.6,119.0 214.2,109.1 196.0,99.3 177.0,89.5 157.2,79.7 136.6,70.0 115.3,60.3 93.2,50.6 70.2,41.0 46.5,31.4 22.1,21.9 -3.2,12.4 -29.2,2.9 -55.9,-6.5 -83.4,-15.8 L144,-4 L144,383 Z" fill="#8b0909"/>
<path d="M407.4,341.1 407.9,330.9 407.6,320.7 406.5,310.6 404.6,300.4 401.9,290.2 398.3,280.0 393.9,269.8 388.7,259.7 382.6,249.5 375.8,239.3 368.1,229.2 359.6,219.1 350.3,209.0 340.1,198.9 329.2,188.8 317.4,178.8 304.9,168.8 291.5,158.8 277.3,148.8 262.3,138.8 246.5,128.9 229.9,119.0 212.5,109.1 194.3,99.3 175.3,89.5 155.6,79.7 135.0,70.0 113.6,60.3 91.5,50.6 68.6,41.0 44.9,31.4 20.4,21.9 -4.8,12.4 -30.8,3.0 -57.5,-6.4 -85.1,-15.8 L144,-4 L144,383 Z" fill="#820808"/>
<path d="M405.7,341.1 406.2,330.9 405.9,320.7 404.8,310.6 402.9,300.4 400.2,290.2 396.6,280.0 392.2,269.8 387.0,259.7 380.9,249.5 374.1,239.4 366.4,229.2 357.9,219.1 348.6,209.0 338.5,198.9 327.5,188.9 315.8,178.8 303.2,168.8 289.8,158.8 275.6,148.8 260.6,138.9 244.8,128.9 228.2,119.0 210.8,109.2 192.7,99.3 173.7,89.5 153.9,79.8 133.3,70.0 112.0,60.3 89.9,50.7 66.9,41.1 43.3,31.5 18.8,21.9 -6.4,12.5 -32.4,3.0 -59.2,-6.4 -86.7,-15.7 L144,-4 L144,383 Z" fill="#8b0909"/>
<path d="M404.0,341.1 404.5,330.9 404.3,320.8 403.2,310.6 401.2,300.4 398.5,290.2 394.9,280.0 390.5,269.8 385.3,259.7 379.3,249.5 372.4,239.4 364.7,229.2 356.2,219.1 346.9,209.0 336.8,198.9 325.8,188.9 314.1,178.8 301.5,168.8 288.1,158.8 273.9,148.8 259.0,138.9 243.2,129.0 226.6,119.1 209.2,109.2 191.0,99.4 172.0,89.6 152.2,79.8 131.7,70.1 110.3,60.4 88.2,50.7 65.3,41.1 41.6,31.5 17.2,22.0 -8.1,12.5 -34.1,3.0 -60.8,-6.4 -88.3,-15.7 L144,-4 L144,383 Z" fill="#980909"/>
<path d="M402.3,341.1 402.8,330.9 402.6,320.8 401.5,310.6 399.5,300.4 396.8,290.2 393.2,280.0 388.8,269.8 383.6,259.7 377.6,249.5 370.7,239.4 363.0,229.3 354.5,219.1 345.2,209.0 335.1,199.0 324.2,188.9 312.4,178.9 299.8,168.8 286.5,158.8 272.3,148.9 257.3,138.9 241.5,129.0 224.9,119.1 207.5,109.2 189.3,99.4 170.4,89.6 150.6,79.8 130.0,70.1 108.7,60.4 86.6,50.7 63.7,41.1 40.0,31.6 15.5,22.0 -9.7,12.5 -35.7,3.1 -62.4,-6.3 -89.9,-15.7 L144,-4 L144,383 Z" fill="#b60a0a"/>
<path d="M400.6,341.1 401.2,330.9 400.9,320.8 399.8,310.6 397.9,300.4 395.1,290.2 391.5,280.0 387.1,269.8 381.9,259.7 375.9,249.5 369.0,239.4 361.3,229.3 352.9,219.2 343.5,209.1 333.4,199.0 322.5,188.9 310.7,178.9 298.2,168.9 284.8,158.9 270.6,148.9 255.6,138.9 239.8,129.0 223.2,119.1 205.9,109.3 187.7,99.4 168.7,89.6 148.9,79.9 128.4,70.1 107.0,60.4 84.9,50.8 62.0,41.2 38.3,31.6 13.9,22.1 -11.3,12.6 -37.3,3.1 -64.1,-6.3 -91.6,-15.6 L144,-4 L144,383 Z" fill="#da0a0a"/>
<path d="M398.9,341.1 399.5,330.9 399.2,320.8 398.1,310.6 396.2,300.4 393.4,290.2 389.8,280.0 385.4,269.9 380.2,259.7 374.2,249.5 367.3,239.4 359.7,229.3 351.2,219.2 341.9,209.1 331.7,199.0 320.8,188.9 309.0,178.9 296.5,168.9 283.1,158.9 268.9,148.9 253.9,139.0 238.2,129.0 221.6,119.1 204.2,109.3 186.0,99.5 167.0,89.7 147.3,79.9 126.7,70.2 105.4,60.5 83.3,50.8 60.4,41.2 36.7,31.6 12.2,22.1 -13.0,12.6 -39.0,3.2 -65.7,-6.2 -93.2,-15.6 L144,-4 L144,383 Z" fill="#e12d0f"/>
<path d="M397.2,341.1 397.8,330.9 397.5,320.8 396.4,310.6 394.5,300.4 391.7,290.2 388.2,280.0 383.8,269.9 378.5,259.7 372.5,249.6 365.7,239.4 358.0,229.3 349.5,219.2 340.2,209.1 330.1,199.0 319.1,188.9 307.4,178.9 294.8,168.9 281.4,158.9 267.3,148.9 252.3,139.0 236.5,129.1 219.9,119.2 202.5,109.3 184.3,99.5 165.4,89.7 145.6,79.9 125.1,70.2 103.7,60.5 81.6,50.9 58.7,41.2 35.0,31.7 10.6,22.1 -14.6,12.7 -40.6,3.2 -67.3,-6.2 -94.8,-15.5 L144,-4 L144,383 Z" fill="#e54513"/>
<path d="M395.6,341.1 396.1,330.9 395.8,320.8 394.7,310.6 392.8,300.4 390.0,290.2 386.5,280.0 382.1,269.9 376.9,259.7 370.8,249.6 364.0,239.4 356.3,229.3 347.8,219.2 338.5,209.1 328.4,199.0 317.4,189.0 305.7,178.9 293.1,168.9 279.8,158.9 265.6,148.9 250.6,139.0 234.8,129.1 218.2,119.2 200.9,109.3 182.7,99.5 163.7,89.7 144.0,80.0 123.4,70.2 102.1,60.5 80.0,50.9 57.1,41.3 33.4,31.7 9.0,22.2 -16.2,12.7 -42.2,3.3 -69.0,-6.1 -96.4,-15.5 L144,-4 L144,383 Z" fill="#e54213"/>
<path d="M393.9,341.1 394.4,330.9 394.1,320.8 393.0,310.6 391.1,300.4 388.4,290.2 384.8,280.0 380.4,269.9 375.2,259.7 369.1,249.6 362.3,239.4 354.6,229.3 346.1,219.2 336.8,209.1 326.7,199.0 315.8,189.0 304.0,178.9 291.5,168.9 278.1,158.9 263.9,149.0 248.9,139.0 233.2,129.1 216.6,119.2 199.2,109.4 181.0,99.5 162.1,89.7 142.3,80.0 121.8,70.3 100.4,60.6 78.3,50.9 55.4,41.3 31.8,31.7 7.3,22.2 -17.9,12.7 -43.9,3.3 -70.6,-6.1 -98.1,-15.4 L144,-4 L144,383 Z" fill="#e44012"/>
<path d="M392.2,341.1 392.7,330.9 392.4,320.8 391.3,310.6 389.4,300.4 386.7,290.2 383.1,280.0 378.7,269.9 373.5,259.7 367.5,249.6 360.6,239.5 352.9,229.3 344.4,219.2 335.1,209.1 325.0,199.1 314.1,189.0 302.3,179.0 289.8,169.0 276.4,159.0 262.2,149.0 247.3,139.1 231.5,129.1 214.9,119.2 197.5,109.4 179.4,99.6 160.4,89.8 140.6,80.0 120.1,70.3 98.8,60.6 76.7,51.0 53.8,41.3 30.1,31.8 5.7,22.3 -19.5,12.8 -45.5,3.3 -72.2,-6.1 -99.7,-15.4 L144,-4 L144,383 Z" fill="#e64d14"/>
<path d="M390.5,341.1 391.0,330.9 390.7,320.8 389.6,310.6 387.7,300.4 385.0,290.2 381.4,280.1 377.0,269.9 371.8,259.7 365.8,249.6 358.9,239.5 351.2,229.3 342.8,219.2 333.5,209.1 323.3,199.1 312.4,189.0 300.7,179.0 288.1,169.0 274.7,159.0 260.6,149.0 245.6,139.1 229.8,129.2 213.2,119.3 195.9,109.4 177.7,99.6 158.7,89.8 139.0,80.0 118.4,70.3 97.1,60.6 75.0,51.0 52.1,41.4 28.5,31.8 4.0,22.3 -21.2,12.8 -47.1,3.4 -73.8,-6.0 -101.3,-15.4 L144,-4 L144,383 Z" fill="#f39e23"/>
<path d="M388.8,341.1 389.3,330.9 389.1,320.8 388.0,310.6 386.0,300.4 383.3,290.2 379.7,280.1 375.3,269.9 370.1,259.7 364.1,249.6 357.2,239.5 349.6,229.4 341.1,219.3 331.8,209.2 321.7,199.1 310.7,189.0 299.0,179.0 286.4,169.0 273.1,159.0 258.9,149.0 243.9,139.1 228.2,129.2 211.6,119.3 194.2,109.4 176.0,99.6 157.1,89.8 137.3,80.1 116.8,70.4 95.5,60.7 73.4,51.0 50.5,41.4 26.8,31.9 2.4,22.3 -22.8,12.9 -48.8,3.4 -75.5,-6.0 -103.0,-15.3 L144,-4 L144,383 Z" fill="#fef138"/>
<path d="M387.1,341.1 387.7,330.9 387.4,320.8 386.3,310.6 384.3,300.4 381.6,290.2 378.0,280.1 373.6,269.9 368.4,259.8 362.4,249.6 355.5,239.5 347.9,229.4 339.4,219.3 330.1,209.2 320.0,199.1 309.0,189.1 297.3,179.0 284.8,169.0 271.4,159.0 257.2,149.1 242.3,139.1 226.5,129.2 209.9,119.3 192.5,109.5 174.4,99.7 155.4,89.9 135.7,80.1 115.1,70.4 93.8,60.7 71.7,51.1 48.8,41.5 25.2,31.9 0.8,22.4 -24.4,12.9 -50.4,3.5 -77.1,-5.9 -104.6,-15.3 L144,-4 L144,383 Z" fill="#d0ff58"/>
<path d="M385.4,341.1 386.0,330.9 385.7,320.8 384.6,310.6 382.7,300.4 379.9,290.2 376.3,280.1 372.0,269.9 366.7,259.8 360.7,249.6 353.9,239.5 346.2,229.4 337.7,219.3 328.4,209.2 318.3,199.1 307.4,189.1 295.6,179.0 283.1,169.0 269.7,159.0 255.6,149.1 240.6,139.1 224.8,129.2 208.2,119.4 190.9,109.5 172.7,99.7 153.8,89.9 134.0,80.1 113.5,70.4 92.2,60.7 70.1,51.1 47.2,41.5 23.5,31.9 -0.9,22.4 -26.1,12.9 -52.0,3.5 -78.7,-5.9 -106.2,-15.2 L144,-4 L144,383 Z" fill="#eeff46"/>
<path d="M383.7,341.1 384.3,330.9 384.0,320.8 382.9,310.6 381.0,300.4 378.2,290.2 374.7,280.1 370.3,269.9 365.1,259.8 359.0,249.6 352.2,239.5 344.5,229.4 336.0,219.3 326.7,209.2 316.6,199.1 305.7,189.1 293.9,179.1 281.4,169.1 268.0,159.1 253.9,149.1 238.9,139.2 223.1,129.3 206.6,119.4 189.2,109.5 171.0,99.7 152.1,89.9 132.4,80.2 111.8,70.5 90.5,60.8 68.4,51.1 45.5,41.5 21.9,32.0 -2.5,22.4 -27.7,13.0 -53.7,3.5 -80.4,-5.8 -107.8,-15.2 L144,-4 L144,383 Z" fill="#fbd430"/>
<path d="M382.0,341.1 382.6,330.9 382.3,320.8 381.2,310.6 379.3,300.4 376.5,290.2 373.0,280.1 368.6,269.9 363.4,259.8 357.3,249.6 350.5,239.5 342.8,229.4 334.3,219.3 325.0,209.2 314.9,199.2 304.0,189.1 292.3,179.1 279.7,169.1 266.4,159.1 252.2,149.1 237.2,139.2 221.5,129.3 204.9,119.4 187.5,109.6 169.4,99.7 150.4,90.0 130.7,80.2 110.2,70.5 88.9,60.8 66.8,51.2 43.9,41.6 20.3,32.0 -4.2,22.5 -29.3,13.0 -55.3,3.6 -82.0,-5.8 -109.5,-15.1 L144,-4 L144,383 Z" fill="#ef861d"/>
<path d="M380.4,341.1 380.9,330.9 380.6,320.8 379.5,310.6 377.6,300.4 374.8,290.3 371.3,280.1 366.9,269.9 361.7,259.8 355.7,249.7 348.8,239.5 341.1,229.4 332.7,219.3 323.4,209.2 313.3,199.2 302.3,189.1 290.6,179.1 278.0,169.1 264.7,159.1 250.5,149.2 235.6,139.2 219.8,129.3 203.2,119.4 185.9,109.6 167.7,99.8 148.8,90.0 129.0,80.2 108.5,70.5 87.2,60.8 65.1,51.2 42.2,41.6 18.6,32.0 -5.8,22.5 -31.0,13.0 -56.9,3.6 -83.6,-5.8 -111.1,-15.1 L144,-4 L144,383 Z" fill="#e43f12"/>
<path d="M378.7,341.1 379.2,330.9 378.9,320.8 377.8,310.6 375.9,300.4 373.2,290.3 369.6,280.1 365.2,269.9 360.0,259.8 354.0,249.7 347.1,239.5 339.5,229.4 331.0,219.3 321.7,209.3 311.6,199.2 300.7,189.1 288.9,179.1 276.4,169.1 263.0,159.1 248.9,149.2 233.9,139.2 218.1,129.3 201.6,119.5 184.2,109.6 166.1,99.8 147.1,90.0 127.4,80.3 106.9,70.6 85.6,60.9 63.5,51.2 40.6,41.6 17.0,32.1 -7.4,22.6 -32.6,13.1 -58.6,3.7 -85.3,-5.7 -112.7,-15.1 L144,-4 L144,383 Z" fill="#ce0a0a"/>
<path d="M377.0,341.1 377.5,330.9 377.2,320.8 376.1,310.6 374.2,300.4 371.5,290.3 367.9,280.1 363.5,270.0 358.3,259.8 352.3,249.7 345.4,239.6 337.8,229.4 329.3,219.3 320.0,209.3 309.9,199.2 299.0,189.2 287.2,179.1 274.7,169.1 261.3,159.2 247.2,149.2 232.2,139.3 216.5,129.4 199.9,119.5 182.6,109.6 164.4,99.8 145.5,90.0 125.7,80.3 105.2,70.6 83.9,60.9 61.8,51.3 39.0,41.7 15.3,32.1 -9.1,22.6 -34.3,13.1 -60.2,3.7 -86.9,-5.7 -114.3,-15.0 L144,-4 L144,383 Z" fill="#b00a0a"/>
<path d="M375.3,341.1 375.8,330.9 375.6,320.8 374.5,310.6 372.5,300.4 369.8,290.3 366.2,280.1 361.8,270.0 356.6,259.8 350.6,249.7 343.8,239.6 336.1,229.5 327.6,219.4 318.3,209.3 308.2,199.2 297.3,189.2 285.6,179.2 273.0,169.2 259.7,159.2 245.5,149.2 230.6,139.3 214.8,129.4 198.2,119.5 180.9,109.7 162.7,99.9 143.8,90.1 124.1,80.3 103.6,70.6 82.2,60.9 60.2,51.3 37.3,41.7 13.7,32.2 -10.7,22.6 -35.9,13.2 -61.8,3.7 -88.5,-5.6 -116.0,-15.0 L144,-4 L144,383 Z" fill="#950909"/>
<path d="M373.6,341.1 374.1,330.9 373.9,320.8 372.8,310.6 370.8,300.4 368.1,290.3 364.5,280.1 360.1,270.0 354.9,259.8 348.9,249.7 342.1,239.6 334.4,229.5 325.9,219.4 316.6,209.3 306.5,199.2 295.6,189.2 283.9,179.2 271.3,169.2 258.0,159.2 243.8,149.2 228.9,139.3 213.1,129.4 196.6,119.5 179.2,109.7 161.1,99.9 142.1,90.1 122.4,80.4 101.9,70.6 80.6,61.0 58.5,51.3 35.7,41.7 12.0,32.2 -12.4,22.7 -37.5,13.2 -63.5,3.8 -90.2,-5.6 -117.6,-14.9 L144,-4 L144,383 Z" fill="#8c0909"/>
<path d="M371.9,341.1 372.5,330.9 372.2,320.8 371.1,310.6 369.2,300.4 366.4,290.3 362.8,280.1 358.5,270.0 353.3,259.8 347.2,249.7 340.4,239.6 332.7,229.5 324.2,219.4 315.0,209.3 304.9,199.3 293.9,189.2 282.2,179.2 269.7,169.2 256.3,159.2 242.2,149.3 227.2,139.3 211.5,129.4 194.9,119.6 177.6,109.7 159.4,99.9 140.5,90.1 120.8,80.4 100.2,70.7 78.9,61.0 56.9,51.4 34.0,41.8 10.4,32.2 -14.0,22.7 -39.2,13.2 -65.1,3.8 -91.8,-5.6 -119.2,-14.9 L144,-4 L144,383 Z" fill="#860808"/>
<path d="M370.2,341.1 370.8,330.9 370.5,320.8 369.4,310.6 367.5,300.4 364.7,290.3 361.2,280.1 356.8,270.0 351.6,259.8 345.5,249.7 338.7,239.6 331.0,229.5 322.6,219.4 313.3,209.3 303.2,199.3 292.3,189.2 280.5,179.2 268.0,169.2 254.6,159.2 240.5,149.3 225.5,139.4 209.8,129.5 193.2,119.6 175.9,109.8 157.8,99.9 138.8,90.2 119.1,80.4 98.6,70.7 77.3,61.0 55.2,51.4 32.4,41.8 8.7,32.3 -15.6,22.8 -40.8,13.3 -66.7,3.9 -93.4,-5.5 -120.9,-14.8 L144,-4 L144,383 Z" fill="#8a0909"/>
<path d="M368.5,341.1 369.1,330.9 368.8,320.8 367.7,310.6 365.8,300.4 363.0,290.3 359.5,280.1 355.1,270.0 349.9,259.9 343.9,249.7 337.0,239.6 329.4,229.5 320.9,219.4 311.6,209.3 301.5,199.3 290.6,189.2 278.9,179.2 266.3,169.2 253.0,159.3 238.8,149.3 223.9,139.4 208.1,129.5 191.6,119.6 174.2,109.8 156.1,100.0 137.2,90.2 117.4,80.5 96.9,70.7 75.6,61.1 53.6,51.4 30.7,41.9 7.1,32.3 -17.3,22.8 -42.4,13.3 -68.4,3.9 -95.0,-5.5 -122.5,-14.8 L144,-4 L144,383 Z" fill="#920909"/>
<path d="M366.8,341.1 367.4,330.9 367.1,320.8 366.0,310.6 364.1,300.4 361.3,290.3 357.8,280.1 353.4,270.0 348.2,259.9 342.2,249.7 335.3,239.6 327.7,229.5 319.2,219.4 309.9,209.4 299.8,199.3 288.9,189.3 277.2,179.2 264.6,169.3 251.3,159.3 237.2,149.3 222.2,139.4 206.5,129.5 189.9,119.6 172.6,109.8 154.4,100.0 135.5,90.2 115.8,80.5 95.3,70.8 74.0,61.1 51.9,51.5 29.1,41.9 5.5,32.3 -18.9,22.8 -44.1,13.4 -70.0,3.9 -96.7,-5.4 -124.1,-14.8 L144,-4 L144,383 Z" fill="#a90a0a"/>
<path d="M365.2,341.1 365.7,330.9 365.4,320.8 364.3,310.6 362.4,300.5 359.7,290.3 356.1,280.1 351.7,270.0 346.5,259.9 340.5,249.7 333.6,239.6 326.0,229.5 317.5,219.4 308.2,209.4 298.1,199.3 287.2,189.3 275.5,179.3 263.0,169.3 249.6,159.3 235.5,149.4 220.5,139.4 204.8,129.5 188.2,119.7 170.9,109.8 152.8,100.0 133.8,90.3 114.1,80.5 93.6,70.8 72.3,61.1 50.3,51.5 27.4,41.9 3.8,32.4 -20.6,22.9 -45.7,13.4 -71.6,4.0 -98.3,-5.4 -125.7,-14.7 L144,-4 L144,383 Z" fill="#c90a0a"/>
<path d="M363.5,341.1 364.0,330.9 363.7,320.8 362.6,310.6 360.7,300.5 358.0,290.3 354.4,280.2 350.0,270.0 344.8,259.9 338.8,249.8 332.0,239.6 324.3,229.5 315.8,219.5 306.5,209.4 296.5,199.3 285.5,189.3 273.8,179.3 261.3,169.3 248.0,159.3 233.8,149.4 218.9,139.5 203.1,129.6 186.6,119.7 169.2,109.9 151.1,100.1 132.2,90.3 112.5,80.5 92.0,70.8 70.7,61.2 48.6,51.6 25.8,42.0 2.2,32.4 -22.2,22.9 -47.4,13.4 -73.3,4.0 -99.9,-5.3 -127.4,-14.7 L144,-4 L144,383 Z" fill="#e64d14"/>
<path d="M361.8,341.1 362.3,330.9 362.0,320.8 360.9,310.6 359.0,300.5 356.3,290.3 352.7,280.2 348.3,270.0 343.1,259.9 337.1,249.8 330.3,239.7 322.6,229.6 314.2,219.5 304.9,209.4 294.8,199.4 283.9,189.3 272.1,179.3 259.6,169.3 246.3,159.3 232.1,149.4 217.2,139.5 201.5,129.6 184.9,119.7 167.6,109.9 149.4,100.1 130.5,90.3 110.8,80.6 90.3,70.9 69.0,61.2 47.0,51.6 24.1,42.0 0.5,32.5 -23.8,22.9 -49.0,13.5 -74.9,4.1 -101.6,-5.3 -129.0,-14.6 L144,-4 L144,383 Z" fill="#f9c22b"/>
<path d="M360.1,341.1 360.6,330.9 360.4,320.8 359.3,310.6 357.3,300.5 354.6,290.3 351.0,280.2 346.6,270.0 341.4,259.9 335.4,249.8 328.6,239.7 320.9,229.6 312.5,219.5 303.2,209.4 293.1,199.4 282.2,189.3 270.5,179.3 257.9,169.3 244.6,159.4 230.5,149.4 215.5,139.5 199.8,129.6 183.2,119.7 165.9,109.9 147.8,100.1 128.9,90.3 109.2,80.6 88.7,70.9 67.4,61.2 45.3,51.6 22.5,42.0 -1.1,32.5 -25.5,23.0 -50.6,13.5 -76.5,4.1 -103.2,-5.3 -130.6,-14.6 L144,-4 L144,383 Z" fill="#d1ff58"/>
<path d="M358.4,341.1 358.9,330.9 358.7,320.8 357.6,310.6 355.6,300.5 352.9,290.3 349.3,280.2 345.0,270.0 339.8,259.9 333.7,249.8 326.9,239.7 319.3,229.6 310.8,219.5 301.5,209.4 291.4,199.4 280.5,189.4 268.8,179.3 256.3,169.4 242.9,159.4 228.8,149.4 213.9,139.5 198.1,129.6 181.6,119.8 164.2,109.9 146.1,100.1 127.2,90.4 107.5,80.6 87.0,70.9 65.7,61.3 43.7,51.7 20.8,42.1 -2.8,32.5 -27.1,23.0 -52.3,13.6 -78.2,4.1 -104.8,-5.2 -132.2,-14.5 L144,-4 L144,383 Z" fill="#90f9aa"/>
<path d="M356.7,341.1 357.3,330.9 357.0,320.8 355.9,310.6 354.0,300.5 351.2,290.3 347.7,280.2 343.3,270.0 338.1,259.9 332.1,249.8 325.2,239.7 317.6,229.6 309.1,219.5 299.8,209.4 289.7,199.4 278.8,189.4 267.1,179.4 254.6,169.4 241.3,159.4 227.1,149.5 212.2,139.6 196.4,129.7 179.9,119.8 162.6,110.0 144.5,100.2 125.5,90.4 105.8,80.7 85.3,71.0 64.1,61.3 42.0,51.7 19.2,42.1 -4.4,32.6 -28.8,23.1 -53.9,13.6 -79.8,4.2 -106.5,-5.2 -133.9,-14.5 L144,-4 L144,383 Z" fill="#8cf8ba"/>
<path d="M355.0,341.1 355.6,330.9 355.3,320.8 354.2,310.6 352.3,300.5 349.5,290.3 346.0,280.2 341.6,270.0 336.4,259.9 330.4,249.8 323.5,239.7 315.9,229.6 307.4,219.5 298.1,209.5 288.0,199.4 277.1,189.4 265.4,179.4 252.9,169.4 239.6,159.4 225.4,149.5 210.5,139.6 194.8,129.7 178.2,119.8 160.9,110.0 142.8,100.2 123.9,90.4 104.2,80.7 83.7,71.0 62.4,61.3 40.4,51.7 17.6,42.1 -6.0,32.6 -30.4,23.1 -55.5,13.6 -81.4,4.2 -108.1,-5.1 -135.5,-14.5 L144,-4 L144,383 Z" fill="#aefc7c"/>
<path d="M353.3,341.1 353.9,330.9 353.6,320.8 352.5,310.6 350.6,300.5 347.8,290.3 344.3,280.2 339.9,270.1 334.7,259.9 328.7,249.8 321.9,239.7 314.2,229.6 305.7,219.5 296.5,209.5 286.4,199.4 275.5,189.4 263.8,179.4 251.2,169.4 237.9,159.5 223.8,149.5 208.8,139.6 193.1,129.7 176.6,119.9 159.3,110.0 141.1,100.2 122.2,90.5 102.5,80.7 82.0,71.0 60.8,61.4 38.7,51.8 15.9,42.2 -7.7,32.6 -32.0,23.1 -57.2,13.7 -83.1,4.3 -109.7,-5.1 -137.1,-14.4 L144,-4 L144,383 Z" fill="#bffe69"/>
<path d="M351.6,341.1 352.2,330.9 351.9,320.8 350.8,310.6 348.9,300.5 346.2,290.3 342.6,280.2 338.2,270.1 333.0,259.9 327.0,249.8 320.2,239.7 312.5,229.6 304.1,219.6 294.8,209.5 284.7,199.4 273.8,189.4 262.1,179.4 249.6,169.4 236.2,159.5 222.1,149.5 207.2,139.6 191.4,129.7 174.9,119.9 157.6,110.1 139.5,100.3 120.6,90.5 100.9,80.8 80.4,71.1 59.1,61.4 37.1,51.8 14.3,42.2 -9.3,32.7 -33.7,23.2 -58.8,13.7 -84.7,4.3 -111.4,-5.1 -138.8,-14.4 L144,-4 L144,383 Z" fill="#9efb8d"/>
<path d="M350.0,341.1 350.5,330.9 350.2,320.8 349.1,310.6 347.2,300.5 344.5,290.3 340.9,280.2 336.5,270.1 331.3,259.9 325.3,249.8 318.5,239.7 310.8,229.6 302.4,219.6 293.1,209.5 283.0,199.5 272.1,189.4 260.4,179.4 247.9,169.5 234.6,159.5 220.4,149.6 205.5,139.6 189.8,129.8 173.2,119.9 155.9,110.1 137.8,100.3 118.9,90.5 99.2,80.8 78.7,71.1 57.5,61.4 35.4,51.8 12.6,42.2 -11.0,32.7 -35.3,23.2 -60.5,13.8 -86.3,4.4 -113.0,-5.0 -140.4,-14.3 L144,-4 L144,383 Z" fill="#8af8c3"/>
<path d="M348.3,341.1 348.8,330.9 348.5,320.8 347.4,310.6 345.5,300.5 342.8,290.3 339.2,280.2 334.8,270.1 329.6,260.0 323.6,249.8 316.8,239.7 309.2,229.7 300.7,219.6 291.4,209.5 281.3,199.5 270.4,189.5 258.7,179.5 246.2,169.5 232.9,159.5 218.8,149.6 203.8,139.7 188.1,129.8 171.6,119.9 154.3,110.1 136.1,100.3 117.2,90.6 97.6,80.8 77.1,71.1 55.8,61.5 33.8,51.9 11.0,42.3 -12.6,32.7 -37.0,23.3 -62.1,13.8 -88.0,4.4 -114.6,-5.0 -142.0,-14.3 L144,-4 L144,383 Z" fill="#8bf5f9"/>
<path d="M346.6,341.1 347.1,330.9 346.8,320.8 345.7,310.6 343.8,300.5 341.1,290.4 337.5,280.2 333.2,270.1 328.0,260.0 321.9,249.9 315.1,239.8 307.5,229.7 299.0,219.6 289.7,209.5 279.6,199.5 268.8,189.5 257.0,179.5 244.5,169.5 231.2,159.5 217.1,149.6 202.2,139.7 186.4,129.8 169.9,120.0 152.6,110.1 134.5,100.3 115.6,90.6 95.9,80.9 75.4,71.2 54.2,61.5 32.1,51.9 9.3,42.3 -14.3,32.8 -38.6,23.3 -63.7,13.8 -89.6,4.4 -116.2,-4.9 -143.6,-14.2 L144,-4 L144,383 Z" fill="#4ea7fa"/>
<path d="M344.9,341.1 345.4,330.9 345.2,320.8 344.1,310.6 342.1,300.5 339.4,290.4 335.8,280.2 331.5,270.1 326.3,260.0 320.3,249.9 313.4,239.8 305.8,229.7 297.3,219.6 288.1,209.6 278.0,199.5 267.1,189.5 255.4,179.5 242.9,169.5 229.5,159.6 215.4,149.6 200.5,139.7 184.8,129.8 168.2,120.0 150.9,110.2 132.8,100.4 113.9,90.6 94.2,80.9 73.8,71.2 52.5,61.5 30.5,51.9 7.7,42.4 -15.9,32.8 -40.3,23.3 -65.4,13.9 -91.2,4.5 -117.9,-4.9 -145.3,-14.2 L144,-4 L144,383 Z" fill="#2863f3"/>
<path d="M343.2,341.1 343.7,330.9 343.5,320.8 342.4,310.6 340.4,300.5 337.7,290.4 334.2,280.2 329.8,270.1 324.6,260.0 318.6,249.9 311.7,239.8 304.1,229.7 295.6,219.6 286.4,209.6 276.3,199.5 265.4,189.5 253.7,179.5 241.2,169.5 227.9,159.6 213.7,149.6 198.8,139.7 183.1,129.9 166.6,120.0 149.3,110.2 131.2,100.4 112.3,90.6 92.6,80.9 72.1,71.2 50.9,61.6 28.8,52.0 6.0,42.4 -17.5,32.9 -41.9,23.4 -67.0,13.9 -92.9,4.5 -119.5,-4.8 -146.9,-14.2 L144,-4 L144,383 Z" fill="#1638f5"/>
<path d="M341.5,341.1 342.1,330.9 341.8,320.8 340.7,310.6 338.8,300.5 336.0,290.4 332.5,280.2 328.1,270.1 322.9,260.0 316.9,249.9 310.1,239.8 302.4,229.7 294.0,219.6 284.7,209.6 274.6,199.5 263.7,189.5 252.0,179.5 239.5,169.6 226.2,159.6 212.1,149.7 197.2,139.8 181.4,129.9 164.9,120.0 147.6,110.2 129.5,100.4 110.6,90.7 90.9,81.0 70.5,71.3 49.2,61.6 27.2,52.0 4.4,42.4 -19.2,32.9 -43.5,23.4 -68.6,14.0 -94.5,4.6 -121.1,-4.8 -148.5,-14.1 L144,-4 L144,383 Z" fill="#0c1ff7"/>
<path d="M339.8,341.1 340.4,330.9 340.1,320.8 339.0,310.6 337.1,300.5 334.3,290.4 330.8,280.2 326.4,270.1 321.2,260.0 315.2,249.9 308.4,239.8 300.7,229.7 292.3,219.6 283.0,209.6 272.9,199.6 262.0,189.5 250.3,179.5 237.8,169.6 224.5,159.6 210.4,149.7 195.5,139.8 179.8,129.9 163.2,120.1 145.9,110.2 127.8,100.5 108.9,90.7 89.3,81.0 68.8,71.3 47.6,61.6 25.5,52.0 2.7,42.5 -20.8,32.9 -45.2,23.4 -70.3,14.0 -96.1,4.6 -122.8,-4.8 -150.1,-14.1 L144,-4 L144,383 Z" fill="#0a1af8"/>
<path d="M316.2,341.1 316.7,330.9 316.4,320.8 315.4,310.7 313.4,300.6 310.7,290.4 307.2,280.3 302.8,270.2 297.6,260.1 291.6,250.0 284.8,240.0 277.2,229.9 268.7,219.8 259.5,209.8 249.4,199.8 238.5,189.8 226.9,179.8 214.4,169.9 201.1,159.9 187.0,150.0 172.1,140.1 156.4,130.3 139.9,120.4 122.6,110.6 104.6,100.9 85.7,91.1 66.1,81.4 45.6,71.8 24.4,62.1 2.4,52.5 -20.3,43.0 -43.8,33.5 -68.1,24.0 -93.2,14.6 -119.0,5.2 -145.6,-4.2 -172.9,-13.5 L144,-4 L144,383 Z" fill="#0815f8"/>
<path d="M314.5,341.1 315.0,330.9 314.8,320.8 313.7,310.7 311.7,300.6 309.0,290.4 305.5,280.3 301.1,270.2 295.9,260.1 289.9,250.0 283.1,240.0 275.5,229.9 267.0,219.9 257.8,209.8 247.7,199.8 236.9,189.8 225.2,179.8 212.7,169.9 199.4,159.9 185.3,150.0 170.4,140.1 154.7,130.3 138.3,120.5 121.0,110.7 102.9,100.9 84.0,91.2 64.4,81.5 44.0,71.8 22.8,62.2 0.8,52.6 -22.0,43.0 -45.5,33.5 -69.8,24.0 -94.8,14.6 -120.7,5.2 -147.2,-4.1 -174.6,-13.4 L144,-4 L144,383 Z" fill="#0102fa"/>
<path d="M312.8,341.1 313.3,330.9 313.1,320.8 312.0,310.7 310.1,300.6 307.3,290.4 303.8,280.3 299.4,270.2 294.2,260.1 288.2,250.1 281.4,240.0 273.8,229.9 265.4,219.9 256.1,209.8 246.0,199.8 235.2,189.8 223.5,179.8 211.0,169.9 197.7,160.0 183.6,150.1 168.8,140.2 153.1,130.3 136.6,120.5 119.3,110.7 101.2,100.9 82.4,91.2 62.8,81.5 42.3,71.8 21.1,62.2 -0.9,52.6 -23.6,43.0 -47.1,33.5 -71.4,24.1 -96.5,14.6 -122.3,5.3 -148.9,-4.1 -176.2,-13.4 L144,-4 L144,383 Z" fill="#0000e4"/>
<path d="M311.1,341.1 311.7,330.9 311.4,320.8 310.3,310.7 308.4,300.6 305.6,290.5 302.1,280.3 297.7,270.2 292.5,260.1 286.5,250.1 279.7,240.0 272.1,229.9 263.7,219.9 254.4,209.9 244.4,199.8 233.5,189.8 221.8,179.9 209.3,169.9 196.1,160.0 182.0,150.1 167.1,140.2 151.4,130.3 134.9,120.5 117.6,110.7 99.6,100.9 80.7,91.2 61.1,81.5 40.7,71.8 19.5,62.2 -2.5,52.6 -25.3,43.1 -48.8,33.6 -73.1,24.1 -98.1,14.7 -123.9,5.3 -150.5,-4.0 -177.8,-13.3 L144,-4 L144,383 Z" fill="#0000cf"/>
</g>
<g clip-path="url(#clipA)" fill="none">
<line x1="194.3" x2="592.0" y1="210.7" y2="210.7" stroke="#fff" stroke-width="6" stroke-dasharray="23 21.7"/>
<line x1="194.3" x2="592.0" y1="315.6" y2="315.6" stroke="#fff" stroke-width="5.6"/>
<line x1="194.3" x2="592.0" y1="328.8" y2="328.8" stroke="#fff" stroke-width="5.4" stroke-dasharray="5.6 5.5" stroke-dashoffset="-2"/>
<path d="M310.7,313.6 310.1,309.4 309.4,305.2 308.5,301.0 307.5,296.8 306.3,292.6 305.0,288.5 303.6,284.3 302.0,280.1 300.3,275.9 298.4,271.7 296.4,267.5 294.3,263.3 292.0,259.2 289.6,255.0 287.0,250.8 284.3,246.6 281.5,242.4 278.5,238.3 275.4,234.1 272.1,229.9 268.7,225.8 265.2,221.6 261.5,217.4 257.7,213.3 253.7,209.1 249.6,205.0 245.4,200.8 241.0,196.7 236.5,192.5 231.9,188.4 227.1,184.3 222.1,180.1 217.1,176.0 211.9,171.9 206.5,167.8 201.0,163.6 195.4,159.5 189.7,155.4 183.8,151.3 177.7,147.2" stroke="#0a0a0a" stroke-width="7.6"/>
<path d="M194.3,97.5 204.6,103.0 214.6,108.4 224.4,113.9 234.0,119.4 243.3,124.9 252.3,130.4 261.1,135.9 269.7,141.4 278.0,146.9 286.0,152.5 293.9,158.0 301.4,163.6 308.7,169.1 315.8,174.7 322.6,180.3 329.2,185.9 335.5,191.4 341.6,197.0 347.4,202.6 352.9,208.2 358.2,213.8 363.3,219.5 368.1,225.1 372.7,230.7 377.0,236.3 381.0,242.0 384.8,247.6 388.3,253.2 391.6,258.9 394.7,264.5 397.4,270.2 400.0,275.8 402.2,281.5 404.3,287.1 406.0,292.8 407.5,298.5 408.8,304.1 409.8,309.8 410.5,315.4 411.0,321.1" stroke="#0a0a0a" stroke-width="7.6" stroke-dasharray="29.3 30"/>
<path d="M507.8,331.2 507.7,323.7 507.2,316.3 506.2,308.9 504.8,301.5 502.9,294.0 500.7,286.6 497.9,279.2 494.8,271.8 491.2,264.3 487.2,256.9 482.7,249.5 477.9,242.1 472.5,234.7 466.8,227.3 460.6,220.0 454.0,212.6 447.0,205.2 439.5,197.9 431.6,190.5 423.2,183.2 414.5,175.9 405.3,168.6 395.7,161.3 385.6,154.0 375.2,146.7 364.3,139.5 353.0,132.2 341.2,125.0 329.0,117.8 316.5,110.6 303.5,103.4 290.0,96.2 276.2,89.1 261.9,81.9 247.2,74.8 232.1,67.7 216.6,60.7 200.7,53.6 184.4,46.6 167.6,39.6" stroke="#0a0a0a" stroke-width="7.6"/>
</g>
<text x="576.5" y="323.3" font-size="46" font-weight="bold" fill="#fff" text-anchor="end">(A)</text>
<rect x="194.3" y="46.5" width="397.7" height="286.7" fill="none" stroke="#1c1c1c" stroke-width="1.8"/>
<path d="M264.1,333.2 v-4 M264.1,46.5 v4 M404.8,333.2 v-4 M404.8,46.5 v4 M545.6,333.2 v-4 M545.6,46.5 v4 M194.3,329.3 h4 M592.0,329.3 h-4 M194.3,235.1 h4 M592.0,235.1 h-4 M194.3,140.9 h4 M592.0,140.9 h-4 M194.3,46.7 h4 M592.0,46.7 h-4" stroke="#262626" stroke-width="1.2" fill="none"/>
<g clip-path="url(#clipB)" fill="none">
<line x1="748.0" x2="1145.3" y1="210.7" y2="210.7" stroke="#fff" stroke-width="6" stroke-dasharray="23 21.7"/>
<line x1="748.0" x2="1145.3" y1="315.6" y2="315.6" stroke="#fff" stroke-width="5.6"/>
<line x1="748.0" x2="1145.3" y1="328.8" y2="328.8" stroke="#fff" stroke-width="5.4" stroke-dasharray="5.6 5.5" stroke-dashoffset="-2"/>
<path d="M864.3,313.6 863.7,309.4 862.9,305.2 862.1,301.0 861.0,296.8 859.9,292.6 858.6,288.5 857.2,284.3 855.6,280.1 853.9,275.9 852.0,271.7 850.0,267.5 847.9,263.3 845.6,259.2 843.2,255.0 840.6,250.8 837.9,246.6 835.1,242.4 832.1,238.3 829.0,234.1 825.7,229.9 822.3,225.8 818.8,221.6 815.1,217.4 811.3,213.3 807.4,209.1 803.3,205.0 799.0,200.8 794.7,196.7 790.2,192.5 785.5,188.4 780.7,184.3 775.8,180.1 770.8,176.0 765.6,171.9 760.2,167.8 754.7,163.6 749.1,159.5 743.4,155.4 737.5,151.3 731.5,147.2" stroke="#0a0a0a" stroke-width="7.6"/>
<path d="M748.0,97.5 758.3,103.0 768.3,108.4 778.1,113.9 787.6,119.4 796.9,124.9 806.0,130.4 814.8,135.9 823.3,141.4 831.6,146.9 839.7,152.5 847.5,158.0 855.0,163.6 862.3,169.1 869.4,174.7 876.2,180.3 882.7,185.9 889.1,191.4 895.1,197.0 900.9,202.6 906.5,208.2 911.8,213.8 916.8,219.5 921.6,225.1 926.2,230.7 930.5,236.3 934.5,242.0 938.3,247.6 941.8,253.2 945.1,258.9 948.2,264.5 950.9,270.2 953.5,275.8 955.7,281.5 957.7,287.1 959.5,292.8 961.0,298.5 962.3,304.1 963.3,309.8 964.0,315.4 964.5,321.1" stroke="#0a0a0a" stroke-width="7.6" stroke-dasharray="29.3 30"/>
<path d="M1061.2,331.2 1061.1,323.7 1060.6,316.3 1059.6,308.9 1058.2,301.5 1056.3,294.0 1054.1,286.6 1051.3,279.2 1048.2,271.8 1044.6,264.3 1040.6,256.9 1036.2,249.5 1031.3,242.1 1026.0,234.7 1020.2,227.3 1014.0,220.0 1007.4,212.6 1000.4,205.2 992.9,197.9 985.0,190.5 976.7,183.2 968.0,175.9 958.8,168.6 949.2,161.3 939.1,154.0 928.7,146.7 917.8,139.5 906.5,132.2 894.8,125.0 882.6,117.8 870.0,110.6 857.0,103.4 843.6,96.2 829.8,89.1 815.6,81.9 800.9,74.8 785.8,67.7 770.3,60.7 754.4,53.6 738.1,46.6 721.4,39.6" stroke="#0a0a0a" stroke-width="7.6"/>
</g>
<text x="1129.8" y="323.3" font-size="46" font-weight="bold" fill="#fff" text-anchor="end">(B)</text>
<rect x="748.0" y="46.5" width="397.3" height="286.7" fill="none" stroke="#1c1c1c" stroke-width="1.8"/>
<path d="M817.7,333.2 v-4 M817.7,46.5 v4 M958.3,333.2 v-4 M958.3,46.5 v4 M1098.9,333.2 v-4 M1098.9,46.5 v4 M748.0,329.3 h4 M1145.3,329.3 h-4 M748.0,235.1 h4 M1145.3,235.1 h-4 M748.0,140.9 h4 M1145.3,140.9 h-4 M748.0,46.7 h4 M1145.3,46.7 h-4" stroke="#262626" stroke-width="1.2" fill="none"/>
<g clip-path="url(#clipC)" fill="none">
<line x1="1302.2" x2="1698.6" y1="210.7" y2="210.7" stroke="#fff" stroke-width="6" stroke-dasharray="23 21.7"/>
<line x1="1302.2" x2="1698.6" y1="315.6" y2="315.6" stroke="#fff" stroke-width="5.6"/>
<line x1="1302.2" x2="1698.6" y1="328.8" y2="328.8" stroke="#fff" stroke-width="5.4" stroke-dasharray="5.6 5.5" stroke-dashoffset="-2"/>
<path d="M1418.2,313.6 1417.6,309.4 1416.9,305.2 1416.0,301.0 1415.0,296.8 1413.8,292.6 1412.5,288.5 1411.1,284.3 1409.5,280.1 1407.8,275.9 1406.0,271.7 1404.0,267.5 1401.8,263.3 1399.6,259.2 1397.2,255.0 1394.6,250.8 1391.9,246.6 1389.1,242.4 1386.1,238.3 1383.0,234.1 1379.8,229.9 1376.4,225.8 1372.8,221.6 1369.2,217.4 1365.4,213.3 1361.4,209.1 1357.3,205.0 1353.1,200.8 1348.8,196.7 1344.3,192.5 1339.6,188.4 1334.9,184.3 1330.0,180.1 1324.9,176.0 1319.7,171.9 1314.4,167.8 1308.9,163.6 1303.3,159.5 1297.6,155.4 1291.7,151.3 1285.7,147.2" stroke="#0a0a0a" stroke-width="7.6"/>
<path d="M1302.2,97.5 1312.4,103.0 1322.5,108.4 1332.2,113.9 1341.7,119.4 1351.0,124.9 1360.0,130.4 1368.8,135.9 1377.3,141.4 1385.6,146.9 1393.6,152.5 1401.4,158.0 1409.0,163.6 1416.3,169.1 1423.3,174.7 1430.1,180.3 1436.6,185.9 1442.9,191.4 1449.0,197.0 1454.8,202.6 1460.3,208.2 1465.6,213.8 1470.6,219.5 1475.4,225.1 1480.0,230.7 1484.3,236.3 1488.3,242.0 1492.1,247.6 1495.6,253.2 1498.9,258.9 1501.9,264.5 1504.7,270.2 1507.2,275.8 1509.5,281.5 1511.5,287.1 1513.2,292.8 1514.7,298.5 1516.0,304.1 1517.0,309.8 1517.7,315.4 1518.2,321.1" stroke="#0a0a0a" stroke-width="7.6" stroke-dasharray="29.3 30"/>
<path d="M1614.7,331.2 1614.6,323.7 1614.1,316.3 1613.1,308.9 1611.7,301.5 1609.8,294.0 1607.6,286.6 1604.9,279.2 1601.7,271.8 1598.1,264.3 1594.1,256.9 1589.7,249.5 1584.8,242.1 1579.5,234.7 1573.8,227.3 1567.6,220.0 1561.1,212.6 1554.0,205.2 1546.6,197.9 1538.7,190.5 1530.4,183.2 1521.7,175.9 1512.5,168.6 1502.9,161.3 1492.9,154.0 1482.5,146.7 1471.6,139.5 1460.3,132.2 1448.6,125.0 1436.5,117.8 1424.0,110.6 1411.0,103.4 1397.6,96.2 1383.8,89.1 1369.6,81.9 1355.0,74.8 1339.9,67.7 1324.5,60.7 1308.6,53.6 1292.3,46.6 1275.6,39.6" stroke="#0a0a0a" stroke-width="7.6"/>
</g>
<text x="1700.3" y="323.3" font-size="46" font-weight="bold" fill="#fff" text-anchor="end">(C)</text>
<rect x="1302.2" y="46.5" width="396.4" height="286.7" fill="none" stroke="#1c1c1c" stroke-width="1.8"/>
<path d="M1371.8,333.2 v-4 M1371.8,46.5 v4 M1512.0,333.2 v-4 M1512.0,46.5 v4 M1652.3,333.2 v-4 M1652.3,46.5 v4 M1302.2,329.3 h4 M1698.6,329.3 h-4 M1302.2,235.1 h4 M1698.6,235.1 h-4 M1302.2,140.9 h4 M1698.6,140.9 h-4 M1302.2,46.7 h4 M1698.6,46.7 h-4" stroke="#262626" stroke-width="1.2" fill="none"/>
<text x="393.1" y="33.8" font-size="42.5" font-weight="bold" text-anchor="middle">Density Profile for Duct</text>
<text x="264.1" y="388.6" font-size="38" text-anchor="middle">4.75</text>
<text x="404.8" y="388.6" font-size="38" text-anchor="middle">4.8</text>
<text x="545.6" y="388.6" font-size="38" text-anchor="middle">4.85</text>
<text x="177.3" y="343.9" font-size="38" text-anchor="end">0</text>
<text x="177.3" y="249.7" font-size="38" text-anchor="end">0.2</text>
<text x="177.3" y="155.5" font-size="38" text-anchor="end">0.4</text>
<text x="177.3" y="61.3" font-size="38" text-anchor="end">0.6</text>
<text x="394.1" y="444.3" font-size="41.5" text-anchor="middle">x [Re]</text>
<text transform="translate(104.0,190) rotate(-90)" font-size="42" text-anchor="middle">z [Re]</text>
<text x="946.6" y="33.8" font-size="42.5" font-weight="bold" text-anchor="middle">Poynting Flux for Duct</text>
<text x="817.7" y="388.6" font-size="38" text-anchor="middle">4.75</text>
<text x="958.3" y="388.6" font-size="38" text-anchor="middle">4.8</text>
<text x="1098.9" y="388.6" font-size="38" text-anchor="middle">4.85</text>
<text x="731.0" y="343.9" font-size="38" text-anchor="end">0</text>
<text x="731.0" y="249.7" font-size="38" text-anchor="end">0.2</text>
<text x="731.0" y="155.5" font-size="38" text-anchor="end">0.4</text>
<text x="731.0" y="61.3" font-size="38" text-anchor="end">0.6</text>
<text x="947.6" y="444.3" font-size="41.5" text-anchor="middle">x [Re]</text>
<text transform="translate(657.7,190) rotate(-90)" font-size="42" text-anchor="middle">z [Re]</text>
<text x="1500.4" y="33.8" font-size="42.5" font-weight="bold" text-anchor="middle">WNA [Deg] for Duct</text>
<text x="1371.8" y="388.6" font-size="38" text-anchor="middle">4.75</text>
<text x="1512.0" y="388.6" font-size="38" text-anchor="middle">4.8</text>
<text x="1652.3" y="388.6" font-size="38" text-anchor="middle">4.85</text>
<text x="1285.2" y="343.9" font-size="38" text-anchor="end">0</text>
<text x="1285.2" y="249.7" font-size="38" text-anchor="end">0.2</text>
<text x="1285.2" y="155.5" font-size="38" text-anchor="end">0.4</text>
<text x="1285.2" y="61.3" font-size="38" text-anchor="end">0.6</text>
<text x="1501.4" y="444.3" font-size="41.5" text-anchor="middle">x [Re]</text>
<text transform="translate(1211.9,190) rotate(-90)" font-size="42" text-anchor="middle">z [Re]</text>
<g stroke="#fff" fill="none"><line x1="339" x2="456" y1="59.3" y2="59.3" stroke-width="5" stroke-dasharray="5.6 5.4"/><line x1="339" x2="456" y1="99.3" y2="99.3" stroke-width="5.6"/><line x1="339" x2="456" y1="139.2" y2="139.2" stroke-width="6" stroke-dasharray="23 21.7"/></g>
<g font-size="30.4" fill="#fff"><text x="463.4" y="70.8">equator</text><text x="463.4" y="111.3">at 172km</text><text x="463.4" y="151">at 3 deg</text></g>
<rect x="189.3" y="452.9" width="396.5" height="20.9" fill="url(#jet)" stroke="#262626" stroke-width="1.6"/>
<text x="305.7" y="523.6" font-size="33.5" text-anchor="middle">30</text>
<text x="437.7" y="523.6" font-size="33.5" text-anchor="middle">40</text>
<text x="571.7" y="523.6" font-size="33.5" text-anchor="middle">50</text>
<path d="M305.7,473.8 v-4 M437.7,473.8 v-4 M571.7,473.8 v-4" stroke="#262626" stroke-width="1.2" fill="none"/>
<text x="387.6" y="570.5" font-size="33.7" text-anchor="middle">Ne [el/cc]</text>
<rect x="741.3" y="452.9" width="396.5" height="20.9" fill="url(#jet)" stroke="#262626" stroke-width="1.6"/>
<text x="820.5" y="523.6" font-size="33.5" text-anchor="middle">-200</text>
<text x="978.5" y="523.6" font-size="33.5" text-anchor="middle">-180</text>
<text x="1137.0" y="523.6" font-size="33.5" text-anchor="middle">-160</text>
<path d="M820.5,473.8 v-4 M978.5,473.8 v-4 M1137.0,473.8 v-4" stroke="#262626" stroke-width="1.2" fill="none"/>
<text x="825.3" y="574.8" font-size="37.5">10*log<tspan font-size="28" dy="17.8" dx="3">10</tspan><tspan dy="-17.8" dx="1">(|S</tspan><tspan font-size="28" dy="17.8" dx="3">n</tspan><tspan dy="-17.8" dx="1">|)</tspan></text>
<rect x="1294.4" y="452.9" width="396.0" height="20.9" fill="url(#jet)" stroke="#262626" stroke-width="1.6"/>
<text x="1295.7" y="523.6" font-size="33.5" text-anchor="middle">0</text>
<text x="1382.6" y="523.6" font-size="33.5" text-anchor="middle">20</text>
<text x="1470.4" y="523.6" font-size="33.5" text-anchor="middle">40</text>
<text x="1558.1" y="523.6" font-size="33.5" text-anchor="middle">60</text>
<text x="1645.6" y="523.6" font-size="33.5" text-anchor="middle">80</text>
<path d="M1295.7,473.8 v-4 M1382.6,473.8 v-4 M1470.4,473.8 v-4 M1558.1,473.8 v-4 M1645.6,473.8 v-4" stroke="#262626" stroke-width="1.2" fill="none"/>
<text x="1491.6" y="574.4" font-size="37" text-anchor="middle"><tspan font-family="'Liberation Serif','DejaVu Serif',serif" font-style="italic" font-size="41">θ</tspan> (°)</text>
<path d="M415.0,686.0 V915.0 M605.4,686.0 V915.0 M795.8,686.0 V915.0 M986.2,686.0 V915.0 M1176.6,686.0 V915.0 M1367.0,686.0 V915.0 M1557.4,686.0 V915.0" stroke="#d6d6d6" stroke-width="1.3" fill="none"/>
<path d="M274.3,838.7 H1620.0 M274.3,762.3 H1620.0 M274.3,686.0 H1620.0" stroke="#f7d5d9" stroke-width="1.5" fill="none"/>
<path d="M273.9,685.4 280.5,876.9 285.7,866.6 293.0,860.7 298.4,723.6 304.0,802.1 310.6,825.5 316.5,838.7 322.4,840.9 328.2,760.2 334.8,773.4 340.0,744.8 346.6,727.2 352.1,804.3 358.3,763.9 364.5,755.8 370.8,781.5 375.9,816.7 382.1,773.4 388.4,795.5 394.3,785.9 400.1,858.5 406.0,708.1 411.9,733.8 418.2,701.5 424.3,790.3 430.2,838.0 436.1,740.4 441.9,788.1 448.1,759.5 454.0,765.4 459.5,846.1 465.4,887.2 471.3,910.6 477.2,915.0 483.2,909.6 489.3,910.7 495.4,910.2 501.5,911.4 507.6,912.2 513.7,908.9 519.8,906.9 525.9,911.3 532.0,909.7 538.1,908.8 544.2,913.3 550.3,912.1 556.4,913.9 562.5,912.5 568.6,912.8 574.7,909.7 580.8,911.4 586.9,913.8 593.0,912.7 599.1,913.6 605.2,913.6 611.3,909.6 617.4,912.1 623.5,912.3 629.6,910.5 635.7,907.8 641.8,912.0 647.9,911.5 654.0,912.8 660.1,914.6 666.2,914.3 672.3,915.0 678.4,912.8 684.5,914.0 690.6,912.3 696.7,914.7 702.8,915.0 708.9,910.7 715.0,908.6 721.1,908.1 727.2,912.8 733.3,911.6 739.4,912.3 745.5,910.5 751.6,910.9 757.7,910.4 763.8,909.8 769.9,911.1 776.0,911.8 782.1,914.2 788.2,914.0 794.3,915.0 800.4,915.0 806.5,915.0 812.6,915.0 818.7,911.0 824.8,913.5 830.9,915.0 837.0,915.0 843.1,914.1 849.2,914.1 855.3,910.8 861.4,913.2 867.5,912.8 873.6,910.6 879.7,908.1 885.8,912.0 891.9,914.9 898.0,910.4 904.1,912.8 910.2,911.5 916.3,909.1 922.4,908.8 928.5,911.8 934.6,914.0 940.7,909.7 946.8,911.2 952.9,908.3 959.0,911.2 965.1,910.1 971.2,913.2 977.3,915.0 983.4,913.4 989.5,915.0 995.6,912.2 1001.7,909.0 1007.8,910.8 1013.9,908.0 1020.0,907.6 1026.1,908.9 1032.2,910.8 1038.3,908.8 1044.4,907.0 1050.5,911.6 1056.6,910.2 1062.7,913.8 1068.8,915.0 1074.9,912.4 1081.0,911.6 1087.1,911.6 1093.2,912.4 1099.3,912.5 1105.4,912.3 1111.5,912.6 1117.6,914.8 1123.7,913.1 1129.8,911.8 1135.9,913.0 1142.0,910.4 1148.1,909.5 1154.2,913.6 1160.3,912.6 1166.4,912.3 1172.5,908.6 1178.6,909.4 1184.7,910.9 1190.8,907.9 1196.9,910.4 1203.0,911.7 1209.1,908.6 1215.2,910.8 1221.3,910.8 1227.4,912.2 1233.5,910.8 1239.6,912.4 1245.7,913.4 1251.8,909.2 1257.9,907.4 1264.0,910.5 1270.1,914.0 1276.2,911.0 1282.3,910.9 1288.4,911.7 1294.5,910.3 1300.6,909.9 1306.7,909.4 1312.8,909.5 1318.9,911.0 1325.0,909.8 1331.1,909.8 1337.2,912.3 1343.3,908.7 1349.4,910.5 1355.5,912.4 1361.6,910.6 1367.7,909.1 1373.8,912.2 1379.9,910.0 1386.0,908.6 1392.1,909.5 1398.2,911.7 1404.3,908.9 1410.4,908.9 1416.5,909.0 1422.6,912.4 1428.7,911.4 1434.8,913.7 1440.9,910.3 1447.0,909.7 1453.1,911.5 1459.2,913.9 1465.3,912.3 1471.4,910.0 1477.5,908.1 1483.6,909.9 1489.7,908.6 1495.8,912.0 1501.9,913.9 1510.4,911.8 1516.3,910.6 1522.2,904.8 1528.0,894.5 1533.9,875.4 1537.6,853.4 1541.2,831.4 1545.6,809.4 1549.3,791.8 1553.7,781.5 1557.4,779.3 1561.8,772.7 1566.2,765.4 1569.1,746.3 1572.8,714.0 1577.9,695.7 1584.5,771.2 1589.7,750.0 1596.3,741.9 1602.1,694.9 1608.7,697.1 1614.6,685.4 1620.5,742.6" fill="none" stroke="#d2111a" stroke-width="3.3" stroke-linejoin="round" stroke-linecap="butt"/>
<path d="M274.7,914.3 280.5,867.3 286.4,866.6 292.3,875.4 298.4,900.4 304.0,836.5 310.6,862.2 316.5,834.3 322.8,880.6 328.2,880.6 334.5,835.1 340.4,859.3 346.6,859.3 352.4,857.1 358.6,838.7 364.5,885.7 370.3,840.2 376.2,846.8 382.1,828.8 388.4,832.9 394.3,847.5 400.1,853.4 406.0,838.0 411.9,877.6 417.7,870.3 424.0,858.5 430.2,862.2 436.1,836.5 441.9,847.5 448.1,825.5 454.0,787.4 459.5,753.6 465.4,740.4 471.3,735.3 477.2,736.0 483.2,735.9 489.3,736.5 495.4,737.0 501.5,737.8 507.6,737.4 513.7,737.9 519.8,735.1 525.9,735.2 532.0,736.8 538.1,736.7 544.2,737.5 550.3,735.2 556.4,735.2 562.5,734.5 568.6,735.1 574.7,735.6 580.8,733.9 586.9,733.7 593.0,733.9 599.1,736.1 605.2,736.7 611.3,734.9 617.4,736.2 623.5,734.6 629.6,735.5 635.7,734.2 641.8,733.2 647.9,735.6 654.0,734.6 660.1,734.1 666.2,736.4 672.3,737.2 678.4,735.6 684.5,737.1 690.6,736.5 696.7,736.6 702.8,735.0 708.9,736.8 715.0,736.8 721.1,737.7 727.2,738.0 733.3,736.0 739.4,735.3 745.5,734.3 751.6,733.7 757.7,733.1 763.8,733.6 769.9,734.9 776.0,733.5 782.1,735.1 788.2,734.8 794.3,734.5 800.4,736.1 806.5,735.7 812.6,735.0 818.7,735.2 824.8,736.0 830.9,734.3 837.0,736.5 843.1,734.4 849.2,735.8 855.3,736.8 861.4,734.5 867.5,736.0 873.6,735.3 879.7,735.7 885.8,733.9 891.9,733.2 898.0,733.2 904.1,735.9 910.2,734.7 916.3,736.0 922.4,737.2 928.5,737.8 934.6,736.1 940.7,735.3 946.8,735.5 952.9,736.4 959.0,734.6 965.1,735.9 971.2,736.7 977.3,737.3 983.4,734.8 989.5,736.7 995.6,734.7 1001.7,734.6 1007.8,735.4 1013.9,736.9 1020.0,735.6 1026.1,737.0 1032.2,736.4 1038.3,735.3 1044.4,734.8 1050.5,734.0 1056.6,733.3 1062.7,733.2 1068.8,735.0 1074.9,736.9 1081.0,735.1 1087.1,733.8 1093.2,736.3 1099.3,736.0 1105.4,735.4 1111.5,734.6 1117.6,735.4 1123.7,736.5 1129.8,735.9 1135.9,735.4 1142.0,733.9 1148.1,736.1 1154.2,734.2 1160.3,734.8 1166.4,736.3 1172.5,734.7 1178.6,735.9 1184.7,737.2 1190.8,736.8 1196.9,737.1 1203.0,735.0 1209.1,735.0 1215.2,734.1 1221.3,736.0 1227.4,735.0 1233.5,735.1 1239.6,737.0 1245.7,737.4 1251.8,738.1 1257.9,736.6 1264.0,736.0 1270.1,736.5 1276.2,736.0 1282.3,735.0 1288.4,734.9 1294.5,734.0 1300.6,734.3 1306.7,736.6 1312.8,737.6 1318.9,737.0 1325.0,736.2 1331.1,735.3 1337.2,734.0 1343.3,734.0 1349.4,735.7 1355.5,736.8 1361.6,735.7 1367.7,736.6 1373.8,737.0 1379.9,736.9 1386.0,736.8 1392.1,737.0 1398.2,735.8 1404.3,736.3 1410.4,735.2 1416.5,735.3 1422.6,736.3 1428.7,736.6 1434.8,735.3 1440.9,736.9 1447.0,736.7 1453.1,736.4 1459.2,734.3 1465.3,735.1 1471.4,734.4 1477.5,735.5 1483.6,735.4 1489.7,736.5 1495.8,736.5 1501.9,737.0 1508.0,735.7 1513.4,737.5 1525.1,738.2 1531.0,741.9 1536.8,749.2 1542.7,759.5 1547.1,784.4 1553.0,810.9 1557.4,834.3 1561.8,859.3 1567.7,863.7 1573.5,868.1 1579.4,878.4 1584.5,865.1 1589.7,854.9 1596.3,865.1 1602.1,876.9 1608.0,849.7 1614.6,853.4 1621.2,859.3" fill="none" stroke="#0a14f0" stroke-width="3.6" stroke-linejoin="round" stroke-linecap="butt"/>
<path d="M274.3,889.9 277.9,889.9 280.8,889.9 283.6,889.9 286.5,889.9 289.3,889.9 292.2,889.9 295.0,889.9 297.9,889.9 300.8,889.9 303.6,889.9 306.5,889.9 309.3,889.9 312.2,889.9 315.0,889.9 317.9,889.9 320.8,889.9 323.6,889.9 326.5,889.9 329.3,889.9 332.2,889.9 335.0,889.9 337.9,889.9 340.7,889.9 343.6,889.9 346.5,889.9 349.3,889.9 352.2,889.9 355.0,889.9 357.9,889.9 360.7,889.9 363.6,889.9 366.4,889.9 369.3,889.9 372.2,889.9 375.0,889.9 377.9,889.9 380.7,889.9 383.6,889.9 386.4,889.9 389.3,889.9 392.2,889.9 395.0,889.9 397.9,889.9 400.7,889.9 403.6,889.9 406.4,889.9 409.3,889.9 412.1,889.9 415.0,889.9 417.9,889.9 420.7,889.9 423.6,889.9 426.4,889.9 429.3,889.9 432.1,889.9 435.0,889.9 437.8,889.9 440.7,889.9 443.6,889.9 446.4,889.9 449.3,889.9 452.1,889.9 455.0,889.9 457.8,889.9 460.7,889.9 463.6,889.9 466.4,889.9 469.3,889.9 472.1,889.9 475.0,889.9 477.8,889.9 480.7,889.9 483.5,889.9 486.4,889.9 489.3,889.9 492.1,889.9 495.0,889.9 497.8,889.9 500.7,889.9 503.5,889.9 506.4,889.9 509.2,889.9 512.1,889.9 515.0,889.9 517.8,889.9 520.7,889.9 523.5,889.9 526.4,889.9 529.2,889.9 532.1,889.9 535.0,889.9 537.8,889.9 540.7,889.9 543.5,889.9 546.4,889.9 549.2,889.9 552.1,889.9 554.9,889.9 557.8,889.9 560.7,889.9 563.5,889.9 566.4,889.9 569.2,889.9 572.1,889.9 574.9,889.9 577.8,889.9 580.6,889.9 583.5,889.9 586.4,889.9 589.2,889.9 592.1,889.9 594.9,889.9 597.8,889.9 600.6,889.9 603.5,889.9 606.4,889.9 609.2,889.9 612.1,889.9 614.9,889.9 617.8,889.9 620.6,889.9 623.5,889.9 626.3,889.9 629.2,889.9 632.1,889.9 634.9,889.9 637.8,889.9 640.6,889.9 643.5,889.9 646.3,889.9 649.2,889.9 652.0,889.9 654.9,889.9 657.8,889.9 660.6,889.9 663.5,889.9 666.3,889.9 669.2,889.0 672.0,886.9 674.9,884.0 677.8,881.1 680.6,878.2 683.5,875.2 686.3,872.9 689.2,871.8 692.0,871.7 694.9,871.7 697.7,871.7 700.6,871.7 703.5,871.7 706.3,871.7 709.2,871.7 712.0,871.7 714.9,871.7 717.7,871.7 720.6,871.7 723.4,871.7 726.3,871.7 729.2,871.7 732.0,871.7 734.9,871.7 737.7,871.7 740.6,871.7 743.4,871.7 746.3,871.7 749.2,871.7 752.0,871.7 754.9,871.7 757.7,871.7 760.6,871.7 763.4,871.7 766.3,871.7 769.1,871.1 772.0,868.7 774.9,865.0 777.7,860.4 780.6,854.6 783.4,847.9 786.3,841.3 789.1,834.4 792.0,827.2 794.8,819.6 797.7,812.0 800.6,804.6 803.4,798.0 806.3,791.9 809.1,787.5 812.0,785.8 814.8,787.7 817.7,792.6 820.6,799.9 823.4,805.3 826.3,804.7 829.1,798.4 832.0,789.0 834.8,776.6 837.7,762.6 840.5,747.9 843.4,734.5 846.3,723.4 849.1,713.8 852.0,706.3 854.8,701.0 857.7,696.5 860.5,692.8 863.4,690.6 866.2,689.4 869.1,688.3 872.0,687.5 874.8,687.7 877.7,688.6 880.5,689.5 883.4,690.9 886.2,693.5 889.1,697.4 892.0,701.3 894.8,705.7 897.7,711.4 900.5,718.7 903.4,726.3 906.2,733.9 909.1,742.2 911.9,751.1 914.8,760.2 917.7,768.2 920.5,774.1 923.4,778.2 926.2,777.8 929.1,771.2 931.9,761.2 934.8,751.2 937.6,741.3 940.5,732.3 943.4,726.8 946.2,724.9 949.1,724.2 951.9,724.3 954.8,724.5 957.6,724.8 960.5,724.4 963.4,722.3 966.2,718.5 969.1,714.5 971.9,710.0 974.8,705.1 977.6,700.0 980.5,695.5 983.3,692.3 986.2,690.3 989.1,688.4 991.9,686.9 994.8,686.8 997.6,688.0 1000.5,689.4 1003.3,691.2 1006.2,694.6 1009.0,699.9 1011.9,705.6 1014.8,711.0 1017.6,715.8 1020.5,720.3 1023.3,723.1 1026.2,723.9 1029.0,723.9 1031.9,723.9 1034.8,723.9 1037.6,723.9 1040.5,723.9 1043.3,723.9 1046.2,723.9 1049.0,723.9 1051.9,723.9 1054.7,723.9 1057.6,723.9 1060.5,723.9 1063.3,723.9 1066.2,723.9 1069.0,723.9 1071.9,723.9 1074.7,723.9 1077.6,723.9 1080.4,723.9 1083.3,724.8 1086.2,727.5 1089.0,731.7 1091.9,736.0 1094.7,740.2 1097.6,744.2 1100.4,748.2 1103.3,752.1 1106.2,754.8 1109.0,756.0 1111.9,756.3 1114.7,756.3 1117.6,755.8 1120.4,755.3 1123.3,755.9 1126.1,758.5 1129.0,762.5 1131.9,766.5 1134.7,770.5 1137.6,774.4 1140.4,778.4 1143.3,781.2 1146.1,782.3 1149.0,782.4 1151.8,782.4 1154.7,782.5 1157.6,782.6 1160.4,782.6 1163.3,782.7 1166.1,782.7 1169.0,782.8 1171.8,782.9 1174.7,782.9 1177.6,783.0 1180.4,784.3 1183.3,788.0 1186.1,793.4 1189.0,799.4 1191.8,806.1 1194.7,813.2 1197.5,819.8 1200.4,825.7 1203.3,828.9 1206.1,828.9 1209.0,827.7 1211.8,827.5 1214.7,829.2 1217.5,832.5 1220.4,839.0 1223.2,849.9 1226.1,863.5 1229.0,877.3 1231.8,889.5 1234.7,898.3 1237.5,901.0 1240.4,899.3 1243.2,895.9 1246.1,893.3 1249.0,892.0 1251.8,891.6 1254.7,892.4 1257.5,894.6 1260.4,897.4 1263.2,899.9 1266.1,901.9 1268.9,903.7 1271.8,904.8 1274.7,905.3 1277.5,905.3 1280.4,905.3 1283.2,905.3 1286.1,905.4 1288.9,905.4 1291.8,905.4 1294.6,905.4 1297.5,905.4 1300.4,905.5 1303.2,905.5 1306.1,905.5 1308.9,905.5 1311.8,905.6 1314.6,905.6 1317.5,905.6 1320.4,905.6 1323.2,905.6 1326.1,905.4 1328.9,904.1 1331.8,901.8 1334.6,899.1 1337.5,896.3 1340.3,893.5 1343.2,890.8 1346.1,889.1 1348.9,888.6 1351.8,888.6 1354.6,888.6 1357.5,888.6 1360.3,888.6 1363.2,888.6 1366.0,888.6 1368.9,888.6 1371.8,888.6 1374.6,888.6 1377.5,888.6 1380.3,888.6 1383.2,888.6 1386.0,888.6 1388.9,888.6 1391.8,888.6 1394.6,888.6 1397.5,888.6 1400.3,888.6 1403.2,888.6 1406.0,888.6 1408.9,888.6 1411.7,888.6 1414.6,888.6 1417.5,888.6 1420.3,888.6 1423.2,888.6 1426.0,888.6 1428.9,888.6 1431.7,888.6 1434.6,888.6 1437.4,888.6 1440.3,888.6 1443.2,888.6 1446.0,888.6 1448.9,888.6 1451.7,888.6 1454.6,888.6 1457.4,888.6 1460.3,888.6 1463.2,888.6 1466.0,888.6 1468.9,888.6 1471.7,888.6 1474.6,888.6 1477.4,888.6 1480.3,888.6 1483.1,888.6 1486.0,888.6 1488.9,888.6 1491.7,888.6 1494.6,888.6 1497.4,888.6 1500.3,888.6 1503.1,888.6 1506.0,888.6 1508.8,888.6 1511.7,888.6 1514.6,888.6 1517.4,888.6 1520.3,888.6 1523.1,888.6 1526.0,888.6 1528.8,888.6 1531.7,888.6 1534.6,888.6 1537.4,888.6 1540.3,888.6 1543.1,888.6 1546.0,888.6 1548.8,888.6 1551.7,888.6 1554.5,888.6 1557.4,888.6 1560.3,888.6 1563.1,888.6 1566.0,888.6 1568.8,888.6 1571.7,888.6 1574.5,888.6 1577.4,888.6 1580.2,888.6 1583.1,888.6 1586.0,888.6 1588.8,888.6 1591.7,888.6 1594.5,888.6 1597.4,888.6 1600.2,888.6 1603.1,888.6 1606.0,888.6 1608.8,888.6 1611.7,888.6 1614.5,888.6 1617.4,888.8 1620.0,888.8" fill="none" stroke="#86aa3c" stroke-width="6.4" stroke-linejoin="round" stroke-linecap="butt"/>
<path d="M274.3,915.0 H1642.2" stroke="#262626" stroke-width="1.8" fill="none"/>
<path d="M415.0,915.0 v-13 M605.4,915.0 v-13 M795.8,915.0 v-13 M986.2,915.0 v-13 M1176.6,915.0 v-13 M1367.0,915.0 v-13 M1557.4,915.0 v-13" stroke="#262626" stroke-width="1.8" fill="none"/>
<path d="M274.3,686.0 V915.0 M274.3,915.0 h14 M274.3,838.7 h14 M274.3,762.3 h14 M274.3,686.0 h14" stroke="#d2111a" stroke-width="1.8" fill="none"/>
<text x="257.5" y="929.3" font-size="38" fill="#d2111a" text-anchor="end">0</text>
<text x="257.5" y="853.0" font-size="38" fill="#d2111a" text-anchor="end">30</text>
<text x="257.5" y="776.6" font-size="38" fill="#d2111a" text-anchor="end">60</text>
<text x="257.5" y="700.3" font-size="38" fill="#d2111a" text-anchor="end">90</text>
<text transform="translate(193.5,800.5) rotate(-90)" font-size="43" fill="#d2111a" text-anchor="middle">WNA[degree]</text>
<text x="1649.6" y="698.2" font-size="31" fill="#0a14f0">-160</text>
<text x="1649.6" y="790.0" font-size="31" fill="#0a14f0">-180</text>
<text x="1649.6" y="881.8" font-size="31" fill="#0a14f0">-200</text>
<path d="M1642.2,686.0 V915.0 M1642.2,686.0 h-3.5 M1642.2,777.8 h-3.5 M1642.2,869.6 h-3.5" stroke="#0a14f0" stroke-width="1.8" fill="none"/>
<text transform="translate(1750,901.5) rotate(-90)" font-size="31.5" fill="#0a14f0">10*log<tspan font-size="24" dy="15.5" dx="3.3">10</tspan><tspan font-size="31.5" dy="-15.5" dx="3">(|S</tspan><tspan font-size="24" dy="15.5" dx="3.3">n</tspan><tspan font-size="31.5" dy="-15.5" dx="2.5">|)</tspan></text>
<text x="83.3" y="928.3" font-size="31" fill="#5a8212" text-anchor="end">20</text>
<text x="83.3" y="853.9" font-size="31" fill="#5a8212" text-anchor="end">30</text>
<text x="83.3" y="779.5" font-size="31" fill="#5a8212" text-anchor="end">40</text>
<text x="83.3" y="705.1" font-size="31" fill="#5a8212" text-anchor="end">50</text>
<path d="M91,685.3 V915.0 M91,840.6 h3.5 M91,766.2 h3.5 M91,691.8 h3.5" stroke="#5a8212" stroke-width="2.2" fill="none"/>
<path d="M91.4,915.0 h23" stroke="#262626" stroke-width="1.8" fill="none"/>
<text transform="translate(36.5,800.5) rotate(-90)" font-size="33" fill="#5a8212" text-anchor="middle">Ne [el/cc]</text>
<text x="948.0" y="672.8" font-size="42.6" font-weight="bold" text-anchor="middle" xml:space="preserve" style="white-space:pre">Line Cut at equator</text>
<text x="415.0" y="969.3" font-size="38" text-anchor="middle">4.74</text>
<text x="605.4" y="969.3" font-size="38" text-anchor="middle">4.76</text>
<text x="795.8" y="969.3" font-size="38" text-anchor="middle">4.78</text>
<text x="986.2" y="969.3" font-size="38" text-anchor="middle">4.8</text>
<text x="1176.6" y="969.3" font-size="38" text-anchor="middle">4.82</text>
<text x="1367.0" y="969.3" font-size="38" text-anchor="middle">4.84</text>
<text x="1557.4" y="969.3" font-size="38" text-anchor="middle">4.86</text>
<text x="946.7" y="1026.0" font-size="41.5" text-anchor="middle">x [Re]</text>
<path d="M1240.3,729.3 H1356.3" stroke="#d2111a" stroke-width="3.4" fill="none"/>
<path d="M1240.3,784.0 H1356.3" stroke="#0a14f0" stroke-width="3.7" fill="none"/>
<path d="M1240.3,837.7 H1356.3" stroke="#86aa3c" stroke-width="6.4" fill="none"/>
<text x="1365.3" y="742.9" font-size="33.5">WNA</text>
<text x="1365.5" y="789.2" font-size="33.3">10*log<tspan font-size="25" dy="17" dx="3.7">10</tspan><tspan font-size="33.3" dy="-17" dx="3.6">(|S</tspan><tspan font-size="25" dy="17" dx="3.3">n</tspan><tspan font-size="33.3" dy="-17" dx="2">|)</tspan></text>
<text x="1365.3" y="850.1" font-size="33.5">Nc</text>
<text x="1553" y="882.8" font-size="45" font-weight="bold">(D)</text>
<path d="M415.0,1141.0 V1371.3 M605.4,1141.0 V1371.3 M795.8,1141.0 V1371.3 M986.2,1141.0 V1371.3 M1176.6,1141.0 V1371.3 M1367.0,1141.0 V1371.3 M1557.4,1141.0 V1371.3" stroke="#d6d6d6" stroke-width="1.3" fill="none"/>
<path d="M274.3,1294.5 H1620.0 M274.3,1217.8 H1620.0 M274.3,1141.0 H1620.0" stroke="#f7d5d9" stroke-width="1.5" fill="none"/>
<path d="M274.2,1145.4 280.3,1226.7 286.4,1195.2 292.5,1246.0 298.6,1299.8 304.7,1201.3 310.8,1184.0 316.9,1231.7 322.6,1176.9 328.7,1234.8 334.8,1214.5 340.9,1247.0 347.0,1316.0 353.0,1284.6 358.5,1263.2 364.6,1254.1 370.7,1268.3 376.2,1275.4 381.9,1278.5 388.0,1282.1 393.7,1282.5 399.8,1300.8 405.9,1335.3 412.0,1340.4 418.1,1310.0 424.2,1320.1 430.2,1331.3 436.3,1337.4 441.8,1327.2 447.9,1345.5 454.0,1342.5 460.1,1348.6 465.6,1348.6 471.7,1357.7 477.8,1350.6 483.5,1349.6 489.6,1353.6 495.7,1361.4 501.8,1356.7 507.9,1353.6 514.0,1348.6 520.0,1349.6 526.1,1350.2 532.2,1352.6 538.3,1355.3 544.4,1363.8 550.5,1362.8 556.6,1367.4 562.7,1367.2 568.4,1366.8 574.5,1361.4 580.0,1370.9 586.1,1363.8 592.2,1365.8 598.3,1368.9 604.4,1367.9 609.8,1360.7 615.2,1355.7 621.3,1363.8 627.4,1356.7 633.5,1349.6 639.6,1351.6 645.7,1343.5 651.8,1336.0 657.9,1334.9 664.0,1325.2 670.1,1315.4 676.2,1316.0 681.3,1315.4 687.4,1327.2 693.5,1337.8 699.1,1339.4 705.2,1352.6 711.3,1355.3 716.8,1351.2 722.9,1354.0 729.0,1346.5 734.5,1343.5 740.6,1347.1 746.7,1340.4 753.4,1351.6 758.9,1349.6 765.0,1335.3 770.7,1323.2 776.7,1333.3 782.8,1337.8 788.9,1356.7 795.0,1300.8 800.7,1278.5 806.8,1302.8 812.9,1343.5 818.4,1326.2 824.5,1312.0 830.6,1270.3 836.7,1188.1 842.8,1205.3 848.9,1339.4 855.0,1317.1 861.1,1289.6 867.2,1323.2 872.6,1348.6 878.7,1339.4 884.8,1318.1 890.9,1307.9 897.0,1304.5 902.7,1304.5 908.8,1300.8 914.5,1299.2 920.6,1334.3 926.7,1331.3 932.2,1317.5 938.3,1319.1 944.4,1364.8 949.8,1351.6 950.2,1350.6 956.3,1338.4 961.9,1298.8 965.4,1241.9 969.5,1178.9 974.5,1205.3 980.6,1282.5 986.3,1323.2 992.4,1343.5 998.5,1329.3 1004.0,1311.0 1010.1,1301.8 1016.2,1284.6 1021.3,1268.3 1027.4,1246.0 1033.9,1300.8 1039.5,1328.2 1045.6,1336.4 1051.7,1344.5 1057.8,1350.6 1063.9,1356.1 1070.0,1342.5 1075.7,1332.9 1081.8,1324.2 1087.9,1306.9 1094.0,1303.9 1100.1,1298.8 1106.2,1312.0 1112.3,1317.1 1118.4,1325.2 1123.9,1334.3 1130.0,1326.2 1136.0,1318.1 1141.7,1303.9 1147.6,1298.4 1153.3,1303.9 1159.0,1305.3 1165.1,1292.7 1171.2,1278.5 1176.7,1241.9 1179.7,1205.3 1183.4,1173.8 1186.8,1217.5 1189.9,1266.3 1195.6,1306.9 1201.7,1326.2 1207.2,1306.9 1213.3,1262.2 1219.3,1197.2 1225.4,1268.3 1230.9,1284.6 1237.0,1308.9 1242.7,1321.1 1248.8,1344.5 1254.5,1352.6 1260.6,1353.6 1266.7,1351.6 1272.2,1355.3 1278.3,1359.3 1284.4,1356.7 1289.8,1351.6 1290.2,1351.6 1296.3,1337.8 1302.3,1334.9 1308.4,1354.7 1314.5,1339.4 1320.6,1321.1 1326.7,1302.8 1332.8,1300.4 1338.9,1316.0 1345.0,1327.2 1351.1,1337.8 1357.2,1344.5 1363.3,1347.9 1369.4,1349.6 1375.5,1350.0 1381.6,1350.6 1387.7,1354.7 1393.8,1357.3 1399.9,1358.7 1406.0,1361.4 1412.1,1363.4 1418.1,1365.4 1424.2,1366.2 1430.3,1365.4 1436.4,1363.4 1442.5,1361.8 1448.6,1359.7 1453.7,1359.3 1458.8,1362.8 1464.9,1360.1 1471.0,1356.7 1476.7,1358.7 1482.8,1356.7 1488.2,1354.7 1494.3,1359.7 1500.4,1359.3 1505.9,1351.6 1511.6,1347.5 1517.7,1355.7 1523.8,1353.6 1529.9,1335.3 1536.0,1338.4 1542.1,1337.4 1548.2,1347.1 1554.3,1329.3 1560.4,1331.3 1566.5,1321.1 1572.6,1314.6 1578.6,1317.5 1583.7,1329.3 1589.8,1318.1 1595.9,1298.8 1602.0,1284.6 1608.1,1282.5 1614.2,1282.9 1621.3,1276.4" fill="none" stroke="#d2111a" stroke-width="3.3" stroke-linejoin="round" stroke-linecap="butt"/>
<path d="M274.2,1371.3 280.3,1326.2 286.4,1324.8 292.5,1317.1 298.6,1312.6 304.3,1311.0 310.4,1332.3 316.5,1300.8 322.6,1341.4 328.7,1309.3 334.2,1361.8 340.2,1350.6 346.3,1293.1 352.4,1305.3 358.5,1304.5 364.0,1278.5 370.1,1268.3 376.2,1250.0 381.9,1242.9 388.0,1244.3 393.7,1242.3 399.8,1241.9 405.9,1247.0 412.0,1247.6 418.1,1244.9 424.2,1230.1 430.2,1228.7 436.3,1233.4 441.8,1227.7 447.9,1220.0 454.0,1220.0 460.1,1207.8 465.6,1209.0 471.7,1203.7 477.8,1202.9 483.5,1205.3 489.6,1198.2 495.7,1192.7 501.8,1191.1 507.9,1187.0 514.0,1184.6 520.0,1180.9 526.1,1179.9 532.2,1180.5 538.3,1183.0 544.4,1189.1 550.5,1188.1 556.6,1190.1 562.7,1191.1 568.4,1188.7 574.5,1191.1 580.0,1186.6 586.1,1187.4 592.2,1189.5 598.3,1186.0 604.4,1188.7 609.8,1184.6 615.2,1188.1 621.3,1192.7 627.4,1190.1 633.5,1195.6 639.6,1198.2 645.7,1201.3 651.8,1205.7 657.9,1205.7 664.0,1206.3 670.1,1207.0 676.2,1201.3 681.3,1197.2 687.4,1190.1 693.5,1183.0 699.1,1180.5 705.2,1176.9 711.3,1175.9 716.8,1177.9 722.9,1179.9 729.0,1182.0 734.5,1188.1 740.6,1194.8 746.7,1199.2 753.4,1204.3 758.9,1207.4 765.0,1211.4 770.7,1215.9 776.7,1214.5 782.8,1213.9 788.9,1211.0 795.0,1211.4 800.7,1219.1 806.8,1203.3 812.9,1188.1 818.4,1185.0 824.5,1188.1 830.6,1190.1 836.7,1200.2 842.8,1201.3 848.9,1180.9 855.0,1163.7 861.1,1184.0 866.5,1196.2 872.6,1183.0 878.7,1179.9 884.8,1180.5 890.9,1179.3 897.0,1184.6 902.7,1190.1 908.8,1207.4 914.5,1229.7 920.6,1241.9 926.7,1258.6 932.2,1241.9 938.3,1225.6 944.4,1208.4 949.8,1209.4 950.2,1210.4 956.3,1217.5 961.9,1225.6 968.0,1242.9 974.5,1237.8 980.6,1191.1 986.3,1171.8 992.4,1161.6 998.5,1162.7 1004.0,1174.9 1010.1,1199.2 1016.2,1223.6 1021.3,1247.0 1027.4,1250.0 1033.9,1217.5 1039.5,1205.3 1045.6,1195.2 1051.7,1186.0 1057.8,1178.9 1063.9,1173.2 1070.0,1172.4 1075.7,1175.3 1081.8,1182.0 1087.9,1192.1 1094.0,1207.8 1100.1,1217.5 1106.2,1220.0 1112.3,1207.4 1118.4,1198.2 1123.9,1191.1 1130.0,1187.0 1136.0,1188.1 1141.7,1184.0 1147.6,1176.9 1153.3,1171.2 1159.0,1168.8 1165.1,1173.2 1171.2,1195.2 1176.7,1233.8 1183.4,1258.1 1186.8,1225.6 1189.9,1213.5 1195.6,1201.3 1201.7,1195.6 1207.2,1203.3 1213.3,1233.8 1219.3,1277.4 1225.4,1231.7 1230.9,1226.7 1237.0,1208.4 1242.7,1203.3 1248.8,1189.1 1254.5,1186.6 1260.6,1187.0 1266.7,1188.7 1272.2,1191.1 1278.3,1191.5 1284.4,1193.5 1289.8,1196.8 1290.2,1196.2 1296.3,1199.2 1302.3,1204.3 1308.4,1214.5 1314.5,1218.5 1320.6,1213.9 1326.7,1212.4 1332.8,1203.3 1338.9,1193.1 1345.0,1186.0 1351.1,1179.9 1357.2,1179.3 1363.3,1177.9 1369.4,1178.5 1375.5,1179.3 1381.6,1181.4 1387.7,1184.6 1393.8,1186.6 1399.9,1189.1 1406.0,1191.1 1412.1,1192.7 1418.1,1191.1 1424.2,1189.1 1430.3,1188.1 1436.4,1189.1 1442.5,1190.1 1448.6,1190.7 1453.7,1190.1 1458.8,1186.6 1464.9,1184.0 1471.0,1183.4 1476.7,1184.0 1482.8,1183.4 1488.2,1186.0 1494.3,1190.1 1500.4,1192.7 1505.9,1192.7 1511.6,1196.2 1517.7,1205.3 1523.8,1208.4 1529.9,1210.4 1536.0,1214.5 1542.1,1217.5 1548.2,1226.7 1554.3,1225.2 1560.4,1232.8 1566.5,1235.4 1572.6,1235.8 1578.6,1241.9 1583.7,1253.7 1589.8,1256.1 1595.9,1248.4 1602.0,1247.6 1608.1,1255.1 1614.2,1261.2 1621.3,1270.3" fill="none" stroke="#0a14f0" stroke-width="3.6" stroke-linejoin="round" stroke-linecap="butt"/>
<path d="M274.3,1346.0 277.6,1346.0 280.5,1346.0 283.3,1346.0 286.2,1346.0 289.0,1346.0 291.9,1346.0 294.7,1346.0 297.6,1346.0 300.5,1346.0 303.3,1346.0 306.2,1346.0 309.0,1346.0 311.9,1346.0 314.7,1346.0 317.6,1346.0 320.5,1346.0 323.3,1346.0 326.2,1346.0 329.0,1346.0 331.9,1346.0 334.7,1346.0 337.6,1346.0 340.4,1346.0 343.3,1346.0 346.2,1346.0 349.0,1346.0 351.9,1346.0 354.7,1346.0 357.6,1346.0 360.4,1346.0 363.3,1346.0 366.2,1346.0 369.0,1346.0 371.9,1346.0 374.7,1346.0 377.6,1346.0 380.4,1346.0 383.3,1346.0 386.1,1346.0 389.0,1346.0 391.9,1346.0 394.7,1346.0 397.6,1346.0 400.4,1346.0 403.3,1346.0 406.1,1346.0 409.0,1346.0 411.9,1346.0 414.7,1346.0 417.6,1346.0 420.4,1346.0 423.3,1346.0 426.1,1346.0 429.0,1346.0 431.8,1346.0 434.7,1346.0 437.6,1346.0 440.4,1346.0 443.3,1346.0 446.1,1346.0 449.0,1346.0 451.8,1346.0 454.7,1346.0 457.5,1346.0 460.4,1346.0 463.3,1346.0 466.1,1346.0 469.0,1346.0 471.8,1346.0 474.7,1346.0 477.5,1346.0 480.4,1346.0 483.3,1346.0 486.1,1346.0 489.0,1346.0 491.8,1346.0 494.7,1346.0 497.5,1346.0 500.4,1346.0 503.2,1346.0 506.1,1346.0 509.0,1346.0 511.8,1346.0 514.7,1346.0 517.5,1346.0 520.4,1346.0 523.2,1346.0 526.1,1346.0 529.0,1346.0 531.8,1346.0 534.7,1346.0 537.5,1346.0 540.4,1346.0 543.2,1346.0 546.1,1346.0 548.9,1346.0 551.8,1346.0 554.7,1346.0 557.5,1346.0 560.4,1346.0 563.2,1346.0 566.1,1346.0 568.9,1346.0 571.8,1346.0 574.7,1346.0 577.5,1346.0 580.4,1346.0 583.2,1346.0 586.1,1346.0 588.9,1346.0 591.8,1346.0 594.6,1346.0 597.5,1346.0 600.4,1346.0 603.2,1346.0 606.1,1346.0 608.9,1346.0 611.8,1346.0 614.6,1346.0 617.5,1346.0 620.3,1346.0 623.2,1346.0 626.1,1346.0 628.9,1346.0 631.8,1346.0 634.6,1346.0 637.5,1346.0 640.3,1346.0 643.2,1346.0 646.1,1346.0 648.9,1346.0 651.8,1346.0 654.6,1346.0 657.5,1346.0 660.3,1346.0 663.2,1346.0 666.0,1345.6 668.9,1343.9 671.8,1341.1 674.6,1338.2 677.5,1335.2 680.3,1332.3 683.2,1329.6 686.0,1328.1 688.9,1327.8 691.8,1327.8 694.6,1327.8 697.5,1327.8 700.3,1327.8 703.2,1327.8 706.0,1327.8 708.9,1327.8 711.7,1327.8 714.6,1327.8 717.5,1327.8 720.3,1327.8 723.2,1327.8 726.0,1327.8 728.9,1327.8 731.7,1327.8 734.6,1327.8 737.5,1327.8 740.3,1327.8 743.2,1327.8 746.0,1327.8 748.9,1327.8 751.7,1327.8 754.6,1327.8 757.4,1327.8 760.3,1327.8 763.2,1327.8 766.0,1327.5 768.9,1325.7 771.7,1322.3 774.6,1318.1 777.4,1312.6 780.3,1306.1 783.1,1299.4 786.0,1292.6 788.9,1285.4 791.7,1277.9 794.6,1270.2 797.4,1262.7 800.3,1255.8 803.1,1249.5 806.0,1244.3 808.9,1241.7 811.7,1242.3 814.6,1246.2 817.4,1253.1 820.3,1259.9 823.1,1261.3 826.0,1256.6 828.8,1248.0 831.7,1236.6 834.6,1222.8 837.4,1208.2 840.3,1194.0 843.1,1182.1 846.0,1172.0 848.8,1163.6 851.7,1157.6 854.6,1153.1 857.4,1148.9 860.3,1146.2 863.1,1144.8 866.0,1143.7 868.8,1142.7 871.7,1142.6 874.5,1143.3 877.4,1144.2 880.3,1145.3 883.1,1147.5 886.0,1151.1 888.8,1155.1 891.7,1159.2 894.5,1164.5 897.4,1171.3 900.3,1179.0 903.1,1186.6 906.0,1194.7 908.8,1203.4 911.7,1212.6 914.5,1221.2 917.4,1227.9 920.2,1232.6 923.1,1234.1 926.0,1229.5 928.8,1220.0 931.7,1209.9 934.5,1199.9 937.4,1190.2 940.2,1183.5 943.1,1180.5 945.9,1179.6 948.8,1179.4 951.7,1179.7 954.5,1179.9 957.4,1180.0 960.2,1178.4 963.1,1175.0 965.9,1171.0 968.8,1166.7 971.7,1161.9 974.5,1156.8 977.4,1151.9 980.2,1148.2 983.1,1145.9 985.9,1144.0 988.8,1142.2 991.6,1141.7 994.5,1142.5 997.4,1143.9 1000.2,1145.5 1003.1,1148.3 1005.9,1153.0 1008.8,1158.8 1011.6,1164.3 1014.5,1169.4 1017.4,1174.1 1020.2,1177.6 1023.1,1179.1 1025.9,1179.2 1028.8,1179.2 1031.6,1179.2 1034.5,1179.2 1037.3,1179.2 1040.2,1179.2 1043.1,1179.2 1045.9,1179.2 1048.8,1179.2 1051.6,1179.2 1054.5,1179.2 1057.3,1179.2 1060.2,1179.2 1063.1,1179.2 1065.9,1179.2 1068.8,1179.2 1071.6,1179.2 1074.5,1179.2 1077.3,1179.2 1080.2,1179.5 1083.0,1181.6 1085.9,1185.5 1088.8,1189.8 1091.6,1194.1 1094.5,1198.2 1097.3,1202.2 1100.2,1206.2 1103.0,1209.5 1105.9,1211.1 1108.7,1211.6 1111.6,1211.8 1114.5,1211.4 1117.3,1210.9 1120.2,1210.9 1123.0,1212.8 1125.9,1216.6 1128.7,1220.6 1131.6,1224.6 1134.5,1228.6 1137.3,1232.6 1140.2,1236.0 1143.0,1237.7 1145.9,1237.9 1148.7,1238.0 1151.6,1238.0 1154.4,1238.1 1157.3,1238.2 1160.2,1238.2 1163.0,1238.3 1165.9,1238.3 1168.7,1238.4 1171.6,1238.5 1174.4,1238.5 1177.3,1239.2 1180.2,1242.1 1183.0,1247.1 1185.9,1252.9 1188.7,1259.4 1191.6,1266.5 1194.4,1273.4 1197.3,1279.8 1200.1,1284.0 1203.0,1285.0 1205.9,1283.9 1208.7,1283.2 1211.6,1284.3 1214.4,1287.1 1217.3,1292.2 1220.1,1301.7 1223.0,1314.9 1225.9,1328.7 1228.7,1341.9 1231.6,1352.2 1234.4,1356.8 1237.3,1356.6 1240.1,1353.2 1243.0,1350.2 1245.8,1348.5 1248.7,1347.8 1251.6,1348.1 1254.4,1349.9 1257.3,1352.6 1260.1,1355.3 1263.0,1357.5 1265.8,1359.3 1268.7,1360.8 1271.5,1361.4 1274.4,1361.5 1277.3,1361.5 1280.1,1361.6 1283.0,1361.6 1285.8,1361.6 1288.7,1361.6 1291.5,1361.7 1294.4,1361.7 1297.3,1361.7 1300.1,1361.7 1303.0,1361.7 1305.8,1361.8 1308.7,1361.8 1311.5,1361.8 1314.4,1361.8 1317.2,1361.9 1320.1,1361.9 1323.0,1361.8 1325.8,1360.9 1328.7,1358.9 1331.5,1356.2 1334.4,1353.5 1337.2,1350.6 1340.1,1347.8 1343.0,1345.7 1345.8,1344.8 1348.7,1344.8 1351.5,1344.8 1354.4,1344.8 1357.2,1344.8 1360.1,1344.8 1362.9,1344.8 1365.8,1344.8 1368.7,1344.8 1371.5,1344.8 1374.4,1344.8 1377.2,1344.8 1380.1,1344.8 1382.9,1344.8 1385.8,1344.8 1388.7,1344.8 1391.5,1344.8 1394.4,1344.8 1397.2,1344.8 1400.1,1344.8 1402.9,1344.8 1405.8,1344.8 1408.6,1344.8 1411.5,1344.8 1414.4,1344.8 1417.2,1344.8 1420.1,1344.8 1422.9,1344.8 1425.8,1344.8 1428.6,1344.8 1431.5,1344.8 1434.3,1344.8 1437.2,1344.8 1440.1,1344.8 1442.9,1344.8 1445.8,1344.8 1448.6,1344.8 1451.5,1344.8 1454.3,1344.8 1457.2,1344.8 1460.1,1344.8 1462.9,1344.8 1465.8,1344.8 1468.6,1344.8 1471.5,1344.8 1474.3,1344.8 1477.2,1344.8 1480.0,1344.8 1482.9,1344.8 1485.8,1344.8 1488.6,1344.8 1491.5,1344.8 1494.3,1344.8 1497.2,1344.8 1500.0,1344.8 1502.9,1344.8 1505.8,1344.8 1508.6,1344.8 1511.5,1344.8 1514.3,1344.8 1517.2,1344.8 1520.0,1344.8 1522.9,1344.8 1525.7,1344.8 1528.6,1344.8 1531.5,1344.8 1534.3,1344.8 1537.2,1344.8 1540.0,1344.8 1542.9,1344.8 1545.7,1344.8 1548.6,1344.8 1551.4,1344.8 1554.3,1344.8 1557.2,1344.8 1560.0,1344.8 1562.9,1344.8 1565.7,1344.8 1568.6,1344.8 1571.4,1344.8 1574.3,1344.8 1577.2,1344.8 1580.0,1344.8 1582.9,1344.8 1585.7,1344.8 1588.6,1344.8 1591.4,1344.8 1594.3,1344.8 1597.1,1344.8 1600.0,1344.8 1602.9,1344.8 1605.7,1344.8 1608.6,1344.8 1611.4,1344.8 1614.3,1344.8 1617.1,1345.3 1620.0,1345.3" fill="none" stroke="#86aa3c" stroke-width="6.4" stroke-linejoin="round" stroke-linecap="butt"/>
<path d="M274.3,1371.3 H1642.2" stroke="#262626" stroke-width="1.8" fill="none"/>
<path d="M415.0,1371.3 v-13 M605.4,1371.3 v-13 M795.8,1371.3 v-13 M986.2,1371.3 v-13 M1176.6,1371.3 v-13 M1367.0,1371.3 v-13 M1557.4,1371.3 v-13" stroke="#262626" stroke-width="1.8" fill="none"/>
<path d="M274.3,1141.0 V1371.3 M274.3,1371.3 h14 M274.3,1294.5 h14 M274.3,1217.8 h14 M274.3,1141.0 h14" stroke="#d2111a" stroke-width="1.8" fill="none"/>
<text x="257.5" y="1385.6" font-size="38" fill="#d2111a" text-anchor="end">0</text>
<text x="257.5" y="1308.8" font-size="38" fill="#d2111a" text-anchor="end">30</text>
<text x="257.5" y="1232.1" font-size="38" fill="#d2111a" text-anchor="end">60</text>
<text x="257.5" y="1155.3" font-size="38" fill="#d2111a" text-anchor="end">90</text>
<text transform="translate(193.5,1256.2) rotate(-90)" font-size="43" fill="#d2111a" text-anchor="middle">WNA[degree]</text>
<text x="1649.6" y="1153.2" font-size="31" fill="#0a14f0">-160</text>
<text x="1649.6" y="1245.0" font-size="31" fill="#0a14f0">-180</text>
<text x="1649.6" y="1336.8" font-size="31" fill="#0a14f0">-200</text>
<path d="M1642.2,1141.0 V1371.3 M1642.2,1141.0 h-3.5 M1642.2,1232.8 h-3.5 M1642.2,1324.6 h-3.5" stroke="#0a14f0" stroke-width="1.8" fill="none"/>
<text transform="translate(1750,1356.5) rotate(-90)" font-size="31.5" fill="#0a14f0">10*log<tspan font-size="24" dy="15.5" dx="3.3">10</tspan><tspan font-size="31.5" dy="-15.5" dx="3">(|S</tspan><tspan font-size="24" dy="15.5" dx="3.3">n</tspan><tspan font-size="31.5" dy="-15.5" dx="2.5">|)</tspan></text>
<text x="83.3" y="1384.6" font-size="31" fill="#5a8212" text-anchor="end">20</text>
<text x="83.3" y="1310.2" font-size="31" fill="#5a8212" text-anchor="end">30</text>
<text x="83.3" y="1235.8" font-size="31" fill="#5a8212" text-anchor="end">40</text>
<text x="83.3" y="1161.4" font-size="31" fill="#5a8212" text-anchor="end">50</text>
<path d="M91,1140.3 V1371.3 M91,1296.9 h3.5 M91,1222.5 h3.5 M91,1148.1 h3.5" stroke="#5a8212" stroke-width="2.2" fill="none"/>
<path d="M91.4,1371.3 h23" stroke="#262626" stroke-width="1.8" fill="none"/>
<text transform="translate(36.5,1256.2) rotate(-90)" font-size="33" fill="#5a8212" text-anchor="middle">Ne [el/cc]</text>
<text x="948.0" y="1128.8" font-size="42.6" font-weight="bold" text-anchor="middle" xml:space="preserve" style="white-space:pre">Line Cut at  172km</text>
<text x="415.0" y="1425.6" font-size="38" text-anchor="middle">4.74</text>
<text x="605.4" y="1425.6" font-size="38" text-anchor="middle">4.76</text>
<text x="795.8" y="1425.6" font-size="38" text-anchor="middle">4.78</text>
<text x="986.2" y="1425.6" font-size="38" text-anchor="middle">4.8</text>
<text x="1176.6" y="1425.6" font-size="38" text-anchor="middle">4.82</text>
<text x="1367.0" y="1425.6" font-size="38" text-anchor="middle">4.84</text>
<text x="1557.4" y="1425.6" font-size="38" text-anchor="middle">4.86</text>
<text x="946.7" y="1482.3" font-size="41.5" text-anchor="middle">x [Re]</text>
<path d="M1240.3,1184.3 H1356.3" stroke="#d2111a" stroke-width="3.4" fill="none"/>
<path d="M1240.3,1239.0 H1356.3" stroke="#0a14f0" stroke-width="3.7" fill="none"/>
<path d="M1240.3,1292.7 H1356.3" stroke="#86aa3c" stroke-width="6.4" fill="none"/>
<text x="1365.3" y="1197.9" font-size="33.5">WNA</text>
<text x="1365.5" y="1244.2" font-size="33.3">10*log<tspan font-size="25" dy="17" dx="3.7">10</tspan><tspan font-size="33.3" dy="-17" dx="3.6">(|S</tspan><tspan font-size="25" dy="17" dx="3.3">n</tspan><tspan font-size="33.3" dy="-17" dx="2">|)</tspan></text>
<text x="1365.3" y="1305.1" font-size="33.5">Nc</text>
<text x="1553" y="1349.6" font-size="45" font-weight="bold">(E)</text>
<path d="M415.0,1598.4 V1827.5 M605.4,1598.4 V1827.5 M795.8,1598.4 V1827.5 M986.2,1598.4 V1827.5 M1176.6,1598.4 V1827.5 M1367.0,1598.4 V1827.5 M1557.4,1598.4 V1827.5" stroke="#d6d6d6" stroke-width="1.3" fill="none"/>
<path d="M274.3,1751.1 H1620.0 M274.3,1674.8 H1620.0 M274.3,1598.4 H1620.0" stroke="#f7d5d9" stroke-width="1.5" fill="none"/>
<path d="M274.2,1619.7 280.3,1601.4 286.4,1751.7 292.5,1773.1 298.6,1744.6 304.7,1743.6 310.4,1799.5 316.5,1766.0 322.6,1783.2 328.7,1750.7 334.8,1781.2 340.9,1771.0 347.0,1797.5 352.4,1789.3 358.5,1810.7 364.0,1795.4 370.1,1798.5 376.2,1804.6 381.9,1802.5 388.0,1816.4 393.7,1807.6 399.8,1817.8 405.9,1810.7 412.4,1823.3 418.1,1817.8 424.2,1816.4 430.2,1812.7 436.3,1803.6 441.8,1797.5 447.9,1793.4 454.0,1792.8 460.1,1786.3 466.2,1790.8 472.3,1768.0 477.8,1768.0 483.5,1751.7 489.6,1742.6 495.7,1662.4 501.8,1629.9 507.4,1729.4 513.5,1771.0 519.6,1775.1 525.7,1783.2 531.8,1781.8 537.9,1783.2 544.0,1798.5 549.5,1778.2 555.6,1781.2 561.7,1767.0 567.8,1761.9 573.9,1748.7 580.0,1738.5 586.1,1710.1 592.2,1708.1 598.3,1717.2 604.4,1727.4 609.8,1734.5 615.8,1694.9 621.3,1601.4 627.4,1772.1 633.5,1667.4 639.6,1688.8 645.7,1710.1 651.8,1765.0 657.5,1783.2 663.6,1743.6 669.5,1694.9 675.6,1776.1 681.3,1813.1 687.4,1738.5 693.0,1733.5 699.1,1741.6 705.2,1723.3 711.3,1705.0 716.8,1744.6 722.9,1709.1 729.0,1671.5 734.5,1694.9 740.6,1697.9 746.7,1705.0 752.8,1628.2 758.9,1644.1 765.0,1715.2 771.1,1726.4 777.2,1650.2 782.8,1688.8 788.9,1722.3 795.0,1717.2 801.1,1713.6 806.8,1740.6 812.9,1786.3 819.0,1727.0 824.5,1810.7 830.6,1797.5 836.7,1812.3 842.8,1743.6 848.9,1669.5 854.4,1672.1 860.5,1776.1 867.2,1792.8 872.6,1792.0 878.7,1750.1 884.8,1741.6 890.9,1730.4 896.6,1628.2 902.7,1773.1 908.4,1628.2 914.5,1769.6 920.6,1684.7 926.7,1720.3 932.2,1713.6 938.3,1741.6 944.4,1746.1 949.8,1759.9 950.2,1760.3 956.3,1706.0 962.3,1732.4 968.4,1664.0 974.5,1732.4 980.6,1732.4 986.3,1659.3 992.4,1789.3 998.5,1680.6 1004.0,1762.9 1010.1,1749.7 1016.2,1724.3 1022.3,1633.9 1027.8,1773.1 1033.9,1804.6 1039.5,1756.8 1045.6,1746.7 1051.7,1778.2 1057.8,1744.0 1063.9,1775.1 1070.0,1744.6 1075.7,1705.0 1081.8,1613.2 1087.9,1647.1 1094.0,1608.5 1100.1,1640.0 1106.2,1644.1 1112.3,1606.5 1118.4,1644.1 1123.9,1663.4 1130.0,1597.8 1136.0,1664.4 1141.7,1643.1 1147.6,1647.1 1153.3,1640.4 1159.0,1645.1 1165.1,1697.9 1171.2,1663.4 1176.7,1656.3 1183.4,1634.9 1189.9,1751.7 1195.6,1611.6 1201.7,1737.5 1207.2,1706.0 1213.3,1708.1 1219.3,1756.8 1225.4,1652.2 1231.5,1724.3 1237.6,1719.2 1243.3,1618.7 1249.2,1737.5 1255.3,1717.2 1261.0,1780.2 1267.1,1659.3 1273.2,1754.8 1278.9,1730.4 1285.0,1751.7 1291.2,1762.9 1297.3,1741.6 1302.8,1819.8 1308.8,1755.8 1314.9,1780.2 1321.0,1812.7 1327.1,1782.2 1333.2,1798.5 1338.9,1810.7 1345.0,1794.4 1351.1,1793.4 1357.2,1787.3 1363.3,1797.5 1369.0,1775.1 1375.1,1796.4 1381.2,1775.1 1387.3,1791.4 1392.8,1781.2 1398.8,1786.3 1404.9,1781.2 1411.0,1797.5 1417.1,1784.3 1423.2,1790.3 1429.3,1805.6 1434.8,1792.0 1440.9,1789.3 1447.0,1790.8 1452.7,1777.1 1458.8,1788.3 1464.9,1782.2 1471.0,1773.1 1476.7,1775.1 1482.1,1766.0 1488.2,1778.2 1494.3,1775.1 1500.4,1768.0 1506.5,1778.2 1512.6,1772.1 1518.7,1771.7 1524.8,1777.1 1530.9,1767.6 1536.4,1769.0 1542.5,1760.9 1548.6,1749.7 1554.3,1754.8 1560.4,1749.3 1566.5,1747.7 1572.6,1762.3 1578.6,1747.3 1584.3,1763.9 1590.4,1750.7 1596.5,1738.5 1602.0,1744.6 1608.1,1691.8 1614.2,1703.0 1620.9,1673.5" fill="none" stroke="#d2111a" stroke-width="3.3" stroke-linejoin="round" stroke-linecap="butt"/>
<path d="M274.2,1789.3 280.3,1768.0 286.4,1746.7 292.5,1726.4 298.6,1725.7 304.7,1713.1 310.4,1701.0 316.5,1701.0 322.6,1690.8 328.7,1687.8 334.8,1674.1 340.9,1672.5 347.0,1661.3 352.4,1665.4 358.5,1656.3 364.0,1659.9 370.1,1653.2 376.2,1654.2 381.9,1655.2 388.0,1662.8 393.7,1659.3 399.8,1659.3 405.9,1651.8 412.4,1648.5 418.1,1647.7 424.2,1644.1 430.2,1641.0 436.3,1639.0 441.8,1638.4 447.9,1641.6 454.0,1645.1 460.1,1650.2 466.2,1655.2 472.3,1658.3 477.8,1667.4 483.5,1677.6 489.6,1690.8 495.7,1696.9 501.8,1714.8 507.4,1710.1 513.5,1692.8 519.6,1682.7 525.7,1670.1 531.8,1662.4 537.9,1655.2 544.0,1651.2 549.5,1651.8 555.6,1645.7 561.7,1645.1 567.8,1646.1 573.9,1650.2 580.0,1657.3 586.1,1666.8 592.2,1668.5 598.3,1664.4 604.4,1658.3 609.8,1657.9 615.8,1676.6 621.3,1721.3 627.4,1715.2 633.5,1710.1 637.6,1702.0" fill="none" stroke="#0a14f0" stroke-width="3.6" stroke-linejoin="round" stroke-linecap="butt"/>
<path d="M662.0,1623.8 669.1,1655.9 675.6,1647.1 681.3,1644.1 687.4,1637.0 693.0,1627.4 699.1,1620.7 705.2,1642.0 711.3,1694.9 716.8,1651.2 722.9,1642.0 729.0,1653.2 734.5,1658.3 740.6,1674.5 746.7,1671.5 752.8,1730.4 758.9,1670.5 765.0,1639.0 771.1,1623.8 777.2,1633.9 782.8,1640.4 788.9,1622.7 795.0,1625.8 801.1,1659.3 806.8,1631.9 812.9,1607.5 819.0,1621.7 824.5,1631.9 830.6,1641.6 836.7,1629.9 842.8,1617.7 848.9,1637.0 854.4,1648.1 860.5,1628.2 867.2,1627.4 872.6,1627.8 878.7,1627.4 884.8,1667.4 890.9,1642.0 896.6,1663.4 902.7,1632.9 908.4,1671.5 914.5,1628.8 920.6,1624.8 926.7,1637.0 932.2,1652.2 938.3,1662.4 944.4,1680.6 949.8,1650.2 950.2,1650.2 956.3,1639.0 962.3,1652.6 968.4,1635.9 974.5,1619.7 980.6,1674.1 986.3,1635.9 992.4,1617.3 998.5,1621.3 1004.0,1652.2 1010.1,1673.5 1016.2,1646.1 1022.3,1670.1 1027.8,1636.4 1033.9,1637.0 1039.5,1635.5 1045.6,1645.1 1051.7,1694.5 1057.8,1642.0 1063.9,1720.3 1070.0,1647.7 1075.7,1668.0 1081.8,1635.9 1087.9,1623.8 1094.0,1623.4 1100.1,1645.1 1106.2,1651.2 1112.3,1642.0 1118.4,1640.4 1123.9,1651.2 1130.0,1655.9 1136.0,1654.2 1141.7,1663.4 1147.6,1656.7 1153.3,1681.0 1159.0,1670.9 1165.1,1670.5 1171.2,1700.6 1176.7,1679.6 1183.4,1680.6 1189.9,1718.8 1195.6,1712.1 1201.7,1690.8 1207.2,1675.6 1213.3,1664.4 1219.3,1652.2 1225.4,1642.4 1231.5,1642.0 1237.6,1681.0 1243.3,1654.6 1249.2,1667.4 1255.3,1668.5 1261.0,1649.8 1267.1,1672.5 1273.2,1647.7 1278.9,1688.8 1285.0,1660.3 1291.2,1683.7 1297.3,1671.5 1302.8,1676.6 1308.8,1682.7 1314.9,1671.5 1321.0,1661.3 1327.1,1672.5 1333.2,1653.2 1338.9,1652.6 1345.0,1655.2 1351.1,1648.5 1357.2,1651.2 1363.3,1647.1 1369.0,1650.6 1375.1,1645.1 1381.2,1653.2 1387.3,1647.7 1392.8,1657.3 1398.8,1645.1 1404.9,1651.2 1411.0,1646.5 1417.1,1649.2 1423.2,1645.1 1429.3,1649.8 1434.8,1650.2 1440.9,1648.5 1447.0,1651.2 1452.7,1647.7 1458.8,1649.2 1464.9,1651.2 1471.0,1646.5 1476.7,1648.1 1482.1,1646.1 1488.2,1648.5 1494.3,1650.6 1500.4,1647.7 1506.5,1645.7 1512.6,1645.7 1518.7,1645.1 1524.8,1649.2 1530.9,1652.2 1536.4,1654.6 1542.5,1657.9 1548.6,1658.7 1554.3,1658.7 1560.4,1670.1 1566.5,1668.9 1572.6,1680.6 1578.6,1682.3 1584.3,1678.6 1590.4,1692.8 1596.5,1679.0 1602.0,1697.3 1608.1,1692.8 1614.2,1712.1 1620.9,1717.2" fill="none" stroke="#0a14f0" stroke-width="3.6" stroke-linejoin="round" stroke-linecap="butt"/>
<path d="M274.3,1802.4 277.2,1802.4 280.1,1802.4 283.0,1802.4 285.8,1802.4 288.7,1802.4 291.6,1802.4 294.4,1802.4 297.3,1802.4 300.2,1802.4 303.0,1802.4 305.9,1802.4 308.8,1802.4 311.6,1802.4 314.5,1802.4 317.4,1802.4 320.2,1802.4 323.1,1802.4 326.0,1802.4 328.9,1802.4 331.7,1802.4 334.6,1802.4 337.5,1802.4 340.3,1802.4 343.2,1802.4 346.1,1802.4 348.9,1802.4 351.8,1802.4 354.7,1802.4 357.5,1802.4 360.4,1802.4 363.3,1802.4 366.1,1802.4 369.0,1802.4 371.9,1802.4 374.7,1802.4 377.6,1802.4 380.5,1802.4 383.4,1802.4 386.2,1802.4 389.1,1802.4 392.0,1802.4 394.8,1802.4 397.7,1802.4 400.6,1802.4 403.4,1802.4 406.3,1802.4 409.2,1802.4 412.0,1802.4 414.9,1802.4 417.8,1802.4 420.6,1802.4 423.5,1802.4 426.4,1802.4 429.2,1802.4 432.1,1802.4 435.0,1802.4 437.8,1802.4 440.7,1802.4 443.6,1802.4 446.5,1802.4 449.3,1802.4 452.2,1802.4 455.1,1802.4 457.9,1802.4 460.8,1802.4 463.7,1802.4 466.5,1802.4 469.4,1802.4 472.3,1802.4 475.1,1802.3 478.0,1801.5 480.9,1799.4 483.7,1796.5 486.6,1793.6 489.5,1790.6 492.3,1787.7 495.2,1785.4 498.1,1784.3 500.9,1784.2 503.8,1784.2 506.7,1784.2 509.5,1784.2 512.4,1784.2 515.3,1784.2 518.2,1784.2 521.0,1784.2 523.9,1784.2 526.8,1784.2 529.6,1784.2 532.5,1784.2 535.4,1784.2 538.2,1784.2 541.1,1784.2 544.0,1784.2 546.8,1784.2 549.7,1784.2 552.6,1784.2 555.4,1784.2 558.3,1784.2 561.2,1784.2 564.0,1784.2 566.9,1784.2 569.8,1784.2 572.6,1784.2 575.5,1784.2 578.4,1783.5 581.3,1781.2 584.1,1777.5 587.0,1772.9 589.9,1767.0 592.7,1760.4 595.6,1753.7 598.5,1746.9 601.3,1739.6 604.2,1732.0 607.1,1724.4 609.9,1717.1 612.8,1710.4 615.7,1704.4 618.5,1700.0 621.4,1698.3 624.3,1700.1 627.1,1705.1 630.0,1712.3 632.9,1717.8 635.7,1717.2 638.6,1710.9 641.5,1701.4 644.4,1689.1 647.2,1675.0 650.1,1660.3 653.0,1646.9 655.8,1635.8 658.7,1626.2 661.6,1618.7 664.4,1613.4 667.3,1608.9 670.2,1605.2 673.0,1603.0 675.9,1601.8 678.8,1600.7 681.6,1599.9 684.5,1600.1 687.4,1601.0 690.2,1601.9 693.1,1603.3 696.0,1605.9 698.8,1609.8 701.7,1613.8 704.6,1618.1 707.4,1623.8 710.3,1631.1 713.2,1638.7 716.1,1646.4 718.9,1654.6 721.8,1663.5 724.7,1672.7 727.5,1680.6 730.4,1686.6 733.3,1690.7 736.1,1690.2 739.0,1683.6 741.9,1673.6 744.7,1663.7 747.6,1653.7 750.5,1644.7 753.3,1639.2 756.2,1637.3 759.1,1636.6 761.9,1636.7 764.8,1637.0 767.7,1637.2 770.5,1636.9 773.4,1634.7 776.3,1630.9 779.1,1626.9 782.0,1622.5 784.9,1617.5 787.8,1612.4 790.6,1607.9 793.5,1604.7 796.4,1602.7 799.2,1600.8 802.1,1599.3 805.0,1599.2 807.8,1600.4 810.7,1601.8 813.6,1603.6 816.4,1607.0 819.3,1612.3 822.2,1618.0 825.0,1623.4 827.9,1628.3 830.8,1632.7 833.6,1635.5 836.5,1636.4 839.4,1636.4 842.2,1636.4 845.1,1636.4 848.0,1636.4 850.8,1636.4 853.7,1636.4 856.6,1636.4 859.5,1636.4 862.3,1636.4 865.2,1636.4 868.1,1636.4 870.9,1636.4 873.8,1636.4 876.7,1636.4 879.5,1636.4 882.4,1636.4 885.3,1636.4 888.1,1636.4 891.0,1636.4 893.9,1637.2 896.7,1639.9 899.6,1644.1 902.5,1648.4 905.3,1652.6 908.2,1656.6 911.1,1660.6 913.9,1664.5 916.8,1667.2 919.7,1668.4 922.5,1668.8 925.4,1668.7 928.3,1668.3 931.1,1667.7 934.0,1668.3 936.9,1670.9 939.8,1674.9 942.6,1678.9 945.5,1682.9 948.4,1686.9 951.2,1690.8 954.1,1693.7 957.0,1694.8 959.8,1694.8 962.7,1694.9 965.6,1695.0 968.4,1695.0 971.3,1695.1 974.2,1695.1 977.0,1695.2 979.9,1695.3 982.8,1695.3 985.6,1695.4 988.5,1695.4 991.4,1696.8 994.2,1700.4 997.1,1705.8 1000.0,1711.8 1002.8,1718.5 1005.7,1725.6 1008.6,1732.3 1011.5,1738.2 1014.3,1741.3 1017.2,1741.3 1020.1,1740.2 1022.9,1740.0 1025.8,1741.7 1028.7,1745.0 1031.5,1751.5 1034.4,1762.4 1037.3,1775.9 1040.1,1789.8 1043.0,1802.0 1045.9,1810.7 1048.7,1813.5 1051.6,1811.8 1054.5,1808.4 1057.3,1805.8 1060.2,1804.5 1063.1,1804.1 1065.9,1804.9 1068.8,1807.1 1071.7,1809.9 1074.5,1812.4 1077.4,1814.4 1080.3,1816.1 1083.1,1817.3 1086.0,1817.8 1088.9,1817.8 1091.7,1817.8 1094.6,1817.8 1097.5,1817.8 1100.4,1817.9 1103.2,1817.9 1106.1,1817.9 1109.0,1817.9 1111.8,1818.0 1114.7,1818.0 1117.6,1818.0 1120.4,1818.0 1123.3,1818.0 1126.2,1818.1 1129.0,1818.1 1131.9,1818.1 1134.8,1818.1 1137.6,1817.9 1140.5,1816.6 1143.4,1814.2 1146.2,1811.6 1149.1,1808.8 1152.0,1806.0 1154.8,1803.3 1157.7,1801.6 1160.6,1801.1 1163.4,1801.1 1166.3,1801.1 1169.2,1801.1 1172.0,1801.1 1174.9,1801.1 1177.8,1801.1 1180.7,1801.1 1183.5,1801.1 1186.4,1801.1 1189.3,1801.1 1192.1,1801.1 1195.0,1801.1 1197.9,1801.1 1200.7,1801.1 1203.6,1801.1 1206.5,1801.1 1209.3,1801.1 1212.2,1801.1 1215.1,1801.1 1217.9,1801.1 1220.8,1801.1 1223.7,1801.1 1226.5,1801.1 1229.4,1801.1 1232.3,1801.1 1235.1,1801.1 1238.0,1801.1 1240.9,1801.1 1243.7,1801.1 1246.6,1801.1 1249.5,1801.1 1252.3,1801.1 1255.2,1801.1 1258.1,1801.1 1260.9,1801.1 1263.8,1801.1 1266.7,1801.1 1269.6,1801.1 1272.4,1801.1 1275.3,1801.1 1278.2,1801.1 1281.0,1801.1 1283.9,1801.1 1286.8,1801.1 1289.6,1801.1 1292.5,1801.1 1295.4,1801.1 1298.2,1801.1 1301.1,1801.1 1304.0,1801.1 1306.8,1801.1 1309.7,1801.1 1312.6,1801.1 1315.4,1801.1 1318.3,1801.1 1321.2,1801.1 1324.0,1801.1 1326.9,1801.1 1329.8,1801.1 1332.6,1801.1 1335.5,1801.1 1338.4,1801.1 1341.2,1801.1 1344.1,1801.1 1347.0,1801.1 1349.8,1801.1 1352.7,1801.1 1355.6,1801.1 1358.5,1801.1 1361.3,1801.1 1364.2,1801.1 1367.1,1801.1 1369.9,1801.1 1372.8,1801.1 1375.7,1801.1 1378.5,1801.1 1381.4,1801.1 1384.3,1801.1 1387.1,1801.1 1390.0,1801.1 1392.9,1801.1 1395.7,1801.1 1398.6,1801.1 1401.5,1801.1 1404.3,1801.1 1407.2,1801.1 1410.1,1801.1 1412.9,1801.1 1415.8,1801.1 1418.7,1801.1 1421.5,1801.1 1424.4,1801.1 1427.3,1801.1 1430.1,1801.3 1433.0,1801.8 1435.9,1802.3 1438.7,1802.3 1441.6,1802.3 1444.5,1802.3 1447.3,1802.3 1450.2,1802.3 1453.1,1802.3 1456.0,1802.3 1458.8,1802.3 1461.7,1802.3 1464.6,1802.3 1467.4,1802.3 1470.3,1802.3 1473.2,1802.3 1476.0,1802.3 1478.9,1802.3 1481.8,1802.3 1484.6,1802.3 1487.5,1802.3 1490.4,1802.3 1493.2,1802.3 1496.1,1802.3 1499.0,1802.3 1501.8,1802.3 1504.7,1802.3 1507.6,1802.3 1510.4,1802.3 1513.3,1802.3 1620.0,1802.3" fill="none" stroke="#86aa3c" stroke-width="6.4" stroke-linejoin="round" stroke-linecap="butt"/>
<path d="M274.3,1827.5 H1642.2" stroke="#262626" stroke-width="1.8" fill="none"/>
<path d="M415.0,1827.5 v-13 M605.4,1827.5 v-13 M795.8,1827.5 v-13 M986.2,1827.5 v-13 M1176.6,1827.5 v-13 M1367.0,1827.5 v-13 M1557.4,1827.5 v-13" stroke="#262626" stroke-width="1.8" fill="none"/>
<path d="M274.3,1598.4 V1827.5 M274.3,1827.5 h14 M274.3,1751.1 h14 M274.3,1674.8 h14 M274.3,1598.4 h14" stroke="#d2111a" stroke-width="1.8" fill="none"/>
<text x="257.5" y="1841.8" font-size="38" fill="#d2111a" text-anchor="end">0</text>
<text x="257.5" y="1765.4" font-size="38" fill="#d2111a" text-anchor="end">30</text>
<text x="257.5" y="1689.1" font-size="38" fill="#d2111a" text-anchor="end">60</text>
<text x="257.5" y="1612.7" font-size="38" fill="#d2111a" text-anchor="end">90</text>
<text transform="translate(193.5,1713.0) rotate(-90)" font-size="43" fill="#d2111a" text-anchor="middle">WNA[degree]</text>
<text x="1649.6" y="1610.6" font-size="31" fill="#0a14f0">-160</text>
<text x="1649.6" y="1702.4" font-size="31" fill="#0a14f0">-180</text>
<text x="1649.6" y="1794.2" font-size="31" fill="#0a14f0">-200</text>
<path d="M1642.2,1598.4 V1827.5 M1642.2,1598.4 h-3.5 M1642.2,1690.2 h-3.5 M1642.2,1782.0 h-3.5" stroke="#0a14f0" stroke-width="1.8" fill="none"/>
<text transform="translate(1750,1813.9) rotate(-90)" font-size="31.5" fill="#0a14f0">10*log<tspan font-size="24" dy="15.5" dx="3.3">10</tspan><tspan font-size="31.5" dy="-15.5" dx="3">(|S</tspan><tspan font-size="24" dy="15.5" dx="3.3">n</tspan><tspan font-size="31.5" dy="-15.5" dx="2.5">|)</tspan></text>
<text x="83.3" y="1840.8" font-size="31" fill="#5a8212" text-anchor="end">20</text>
<text x="83.3" y="1766.4" font-size="31" fill="#5a8212" text-anchor="end">30</text>
<text x="83.3" y="1692.0" font-size="31" fill="#5a8212" text-anchor="end">40</text>
<text x="83.3" y="1617.6" font-size="31" fill="#5a8212" text-anchor="end">50</text>
<path d="M91,1597.7 V1827.5 M91,1753.1 h3.5 M91,1678.7 h3.5 M91,1604.3 h3.5" stroke="#5a8212" stroke-width="2.2" fill="none"/>
<path d="M91.4,1827.5 h23" stroke="#262626" stroke-width="1.8" fill="none"/>
<text transform="translate(36.5,1713.0) rotate(-90)" font-size="33" fill="#5a8212" text-anchor="middle">Ne [el/cc]</text>
<text x="948.0" y="1583.8" font-size="42.6" font-weight="bold" text-anchor="middle" xml:space="preserve" style="white-space:pre">Line Cut at 3 degree latitude</text>
<text x="415.0" y="1881.8" font-size="38" text-anchor="middle">4.74</text>
<text x="605.4" y="1881.8" font-size="38" text-anchor="middle">4.76</text>
<text x="795.8" y="1881.8" font-size="38" text-anchor="middle">4.78</text>
<text x="986.2" y="1881.8" font-size="38" text-anchor="middle">4.8</text>
<text x="1176.6" y="1881.8" font-size="38" text-anchor="middle">4.82</text>
<text x="1367.0" y="1881.8" font-size="38" text-anchor="middle">4.84</text>
<text x="1557.4" y="1881.8" font-size="38" text-anchor="middle">4.86</text>
<text x="946.7" y="1938.5" font-size="41.5" text-anchor="middle">x [Re]</text>
<path d="M1240.3,1641.7 H1356.3" stroke="#d2111a" stroke-width="3.4" fill="none"/>
<path d="M1240.3,1696.4 H1356.3" stroke="#0a14f0" stroke-width="3.7" fill="none"/>
<path d="M1240.3,1750.1 H1356.3" stroke="#86aa3c" stroke-width="6.4" fill="none"/>
<text x="1365.3" y="1655.3" font-size="33.5">WNA</text>
<text x="1365.5" y="1701.6" font-size="33.3">10*log<tspan font-size="25" dy="17" dx="3.7">10</tspan><tspan font-size="33.3" dy="-17" dx="3.6">(|S</tspan><tspan font-size="25" dy="17" dx="3.3">n</tspan><tspan font-size="33.3" dy="-17" dx="2">|)</tspan></text>
<text x="1365.3" y="1762.5" font-size="33.5">Nc</text>
<text x="1553" y="1814.3" font-size="45" font-weight="bold">(F)</text>
</svg></body></html>
